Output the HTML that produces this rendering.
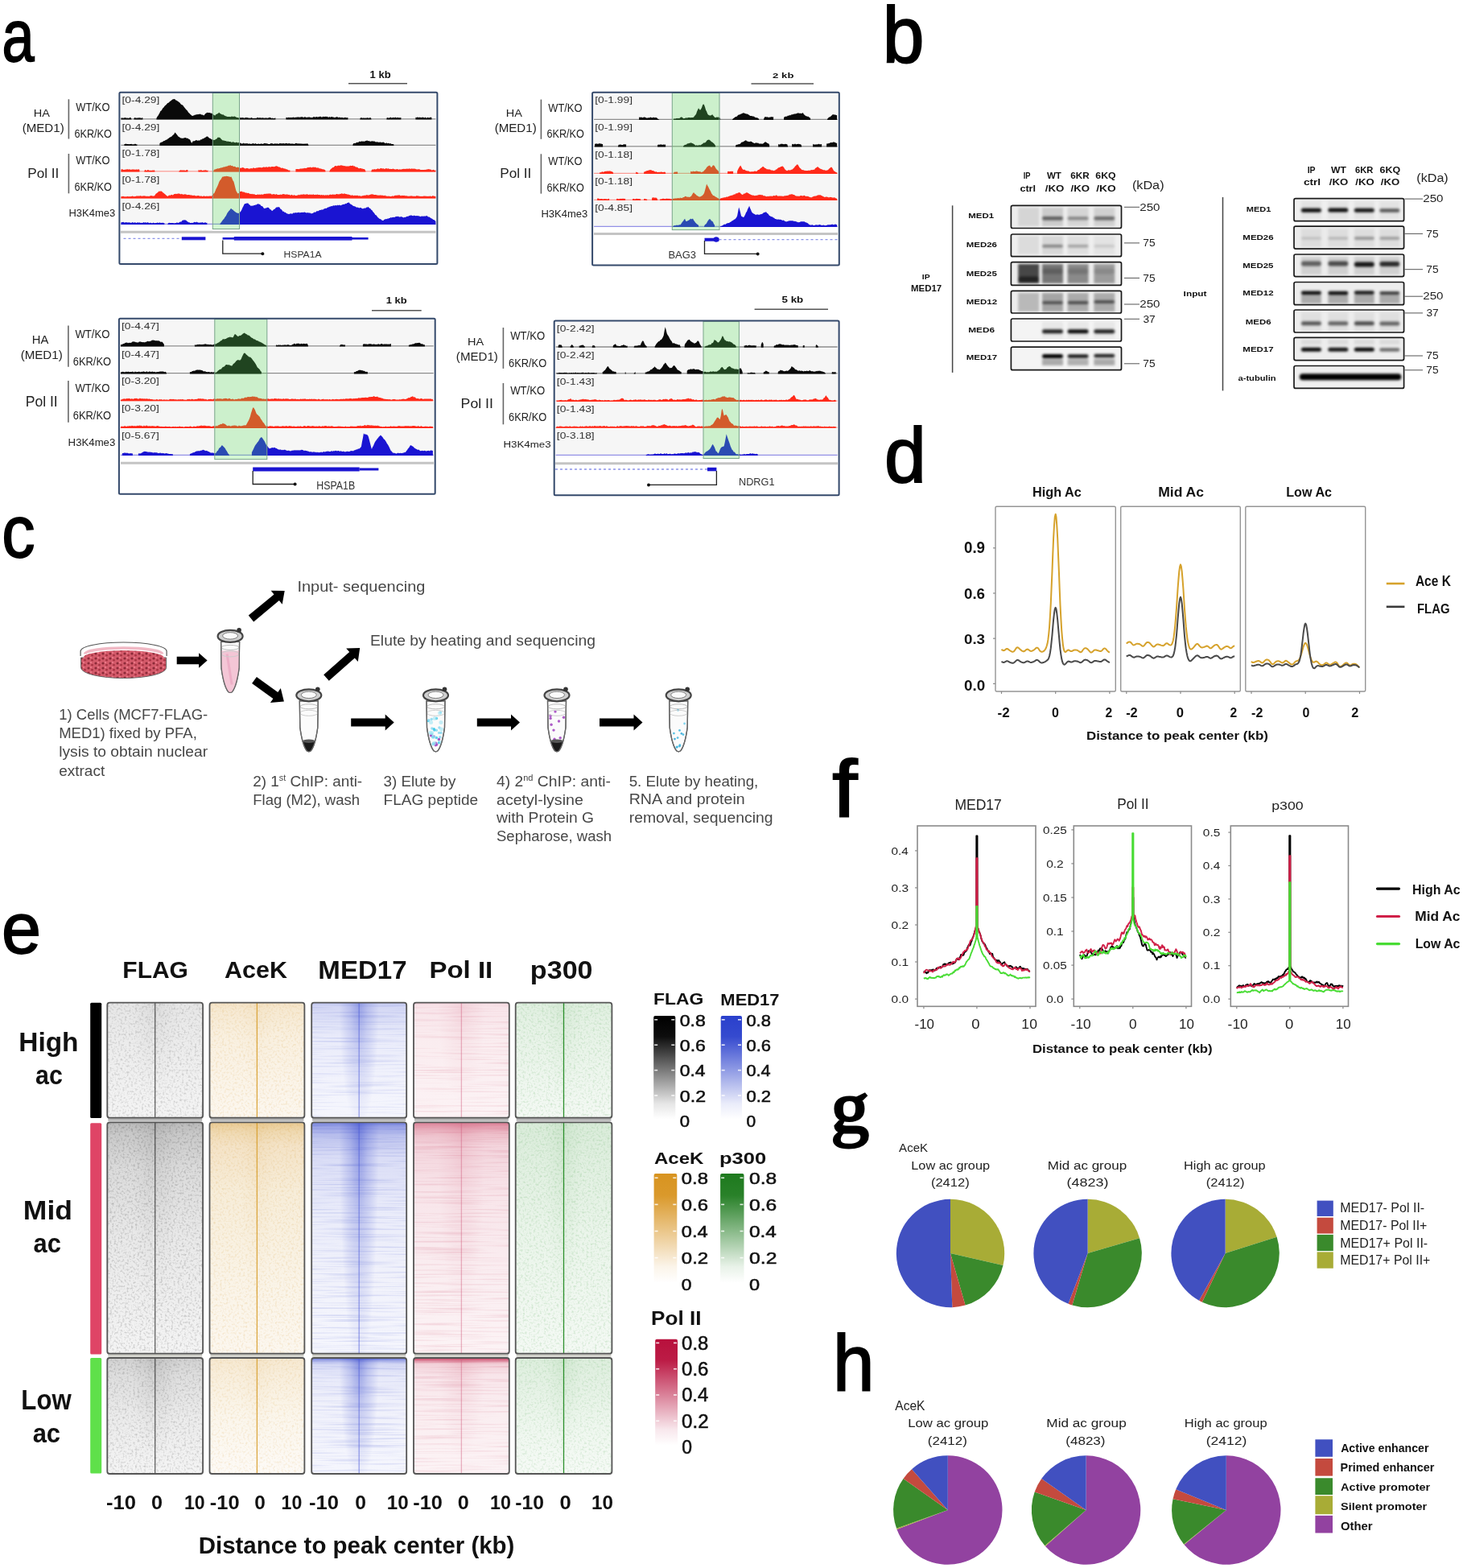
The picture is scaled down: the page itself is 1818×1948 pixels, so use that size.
<!DOCTYPE html>
<html><head><meta charset="utf-8"><title>Figure</title>
<style>html,body{margin:0;padding:0;background:#fff;} svg{display:block;filter:blur(0.6px);} text{font-family:"Liberation Sans", Arial, sans-serif;}</style>
</head><body>
<svg width="1818" height="1948" viewBox="0 0 1818 1948">
<defs><filter id="blur15" x="-20%" y="-50%" width="140%" height="200%"><feGaussianBlur stdDeviation="1.4"/></filter></defs>
<rect width="1818" height="1948" fill="#fff"/>
<text transform="matrix(0.7204,0,0,0.9070,2.44,76.29)" font-size="100" stroke="#000" stroke-width="2.0">a</text>
<text transform="matrix(0.9298,0,0,0.9853,1096.85,76.81)" font-size="100" stroke="#000" stroke-width="2.0">b</text>
<text transform="matrix(0.8244,0,0,0.9070,2.23,692.19)" font-size="100" stroke="#000" stroke-width="2.0">c</text>
<text transform="matrix(0.9319,0,0,0.9671,1098.90,598.97)" font-size="100" stroke="#000" stroke-width="2.0">d</text>
<text transform="matrix(0.8816,0,0,0.8965,2.06,1183.81)" font-size="100" stroke="#000" stroke-width="2.0">e</text>
<text transform="matrix(1.1207,0,0,0.9919,1034.30,1014.80)" font-size="100" stroke="#000" stroke-width="2.0">f</text>
<text transform="matrix(0.9489,0,0,0.9026,1032.55,1406.74)" font-size="100" style="font-family:Liberation Serif, serif" stroke="#000" stroke-width="3.5">g</text>
<text transform="matrix(0.9250,0,0,0.9919,1035.05,1727.00)" font-size="100" stroke="#000" stroke-width="2.0">h</text>
<rect x="148.4" y="114.7" width="395" height="213.3" fill="#fff"/>
<rect x="149.9" y="116.2" width="392" height="32.3" fill="#f6f6f6"/>
<rect x="149.9" y="149.5" width="392" height="31.5" fill="#f6f6f6"/>
<rect x="149.9" y="182" width="392" height="31.5" fill="#f6f6f6"/>
<rect x="149.9" y="214.5" width="392" height="32.1" fill="#f6f6f6"/>
<rect x="149.9" y="247.6" width="392" height="31.4" fill="#f6f6f6"/>
<line x1="150.4" y1="147.8" x2="541.4" y2="147.8" stroke="#0a0a0a" stroke-width="1.3" stroke-opacity="0.45"/>
<path d="M150.4,148.5 L150.4,146.4 L151.4,146.6 L152.4,146.4 L153.4,146.8 L154.4,146.2 L155.4,146.2 L156.4,146.3 L157.4,146.8 L158.4,146.5 L159.4,146.7 L160.4,146.8 L161.4,146 L162.4,146 L163.4,147.7 L163.4,148.5Z" fill="#0a0a0a"/>
<path d="M166.4,148.5 L166.4,147 L167.4,146.1 L168.4,146.4 L169.4,146.6 L170.4,146.7 L171.4,146.3 L172.4,146.5 L173.4,146.3 L174.4,146.3 L175.4,146.9 L176.4,146.2 L177.4,146.4 L177.4,148.5Z" fill="#0a0a0a"/>
<path d="M194.4,148.5 L194.4,146.9 L195.4,145.1 L196.4,143.8 L197.4,142.1 L198.4,140.2 L199.4,138 L200.4,137.4 L201.4,136.1 L202.4,134.3 L203.4,133.6 L204.4,132.1 L205.4,130.9 L206.4,130.3 L207.4,129 L208.4,127.9 L209.4,127.7 L210.4,126.8 L211.4,125.8 L212.4,125.3 L213.4,124.2 L214.4,123.5 L215.4,123.2 L216.4,123 L217.4,123.3 L218.4,124.6 L219.4,124.8 L220.4,125.5 L221.4,125.9 L222.4,127 L223.4,127.4 L224.4,129 L225.4,129.9 L226.4,130.3 L227.4,131.1 L228.4,132.6 L229.4,133.7 L230.4,135 L231.4,136.2 L232.4,137 L233.4,138.6 L234.4,139.9 L235.4,140.7 L236.4,142.1 L237.4,142.8 L238.4,143.7 L239.4,143.9 L240.4,143.6 L241.4,143.2 L242.4,142.6 L243.4,142.8 L244.4,141.9 L245.4,142.2 L246.4,142 L247.4,142.1 L248.4,141.6 L249.4,141.9 L250.4,142.5 L251.4,142.5 L252.4,143.1 L253.4,143.4 L254.4,142.3 L255.4,141.1 L256.4,140.6 L257.4,139.7 L258.4,140.1 L259.4,139.9 L260.4,140.1 L261.4,140.4 L262.4,140.6 L263.4,141 L264.4,141.7 L265.4,142.4 L266.4,143.3 L267.4,143.4 L268.4,142 L269.4,141.7 L270.4,141.2 L271.4,140.4 L272.4,139.8 L273.4,140.9 L274.4,141.5 L275.4,142.1 L276.4,142.4 L277.4,142.3 L278.4,143.3 L279.4,143.7 L280.4,144.2 L281.4,144.5 L282.4,145 L283.4,145.1 L284.4,145 L285.4,145.1 L286.4,145.2 L287.4,144.8 L288.4,144.4 L289.4,145 L290.4,144.8 L291.4,144.6 L292.4,145 L293.4,145.4 L294.4,145.9 L295.4,146.1 L296.4,146.5 L297.4,146.2 L298.4,146 L299.4,146.6 L300.4,146.1 L301.4,146.3 L302.4,146.1 L303.4,147 L304.4,146.1 L305.4,146.2 L306.4,146 L307.4,146 L308.4,146.7 L309.4,146.3 L310.4,146.9 L311.4,146.4 L312.4,146.1 L313.4,146.8 L314.4,146.7 L315.4,146.9 L316.4,146.8 L317.4,146.8 L318.4,146.9 L319.4,146 L320.4,146.1 L321.4,146.5 L322.4,146.3 L323.4,146.3 L324.4,146.5 L325.4,146.6 L326.4,146.3 L327.4,146.4 L328.4,146.7 L329.4,146.6 L330.4,146.4 L331.4,146.4 L332.4,146.8 L333.4,146.4 L334.4,146.1 L335.4,146.1 L336.4,146.3 L337.4,146.9 L338.4,146.6 L339.4,146.9 L340.4,146.9 L341.4,146.7 L342.4,146.5 L342.4,148.5Z" fill="#0a0a0a"/>
<path d="M355.4,148.5 L355.4,145.7 L356.4,145.9 L357.4,146.2 L358.4,145.8 L359.4,145.9 L360.4,145.9 L361.4,146.1 L362.4,146 L363.4,146 L364.4,145.6 L365.4,145.9 L366.4,145.9 L367.4,145.8 L368.4,145.8 L369.4,145.6 L370.4,145.6 L371.4,145.5 L372.4,145.8 L373.4,145.4 L374.4,145.3 L375.4,145.2 L376.4,145.5 L377.4,146.1 L378.4,145.3 L379.4,145.3 L380.4,146.1 L381.4,145.8 L382.4,145.8 L383.4,145.4 L384.4,145.5 L385.4,145.8 L386.4,145.9 L387.4,145.9 L388.4,145.9 L389.4,145.2 L390.4,145.1 L391.4,145.7 L392.4,145.2 L393.4,144.9 L394.4,145.6 L395.4,145.2 L396.4,145.3 L397.4,144.7 L398.4,144.8 L399.4,145.6 L400.4,145.4 L401.4,144.7 L402.4,144.9 L403.4,145 L404.4,144.8 L405.4,144.9 L406.4,144.7 L407.4,145.4 L408.4,145.7 L409.4,145.1 L410.4,145.8 L411.4,145.3 L412.4,145.1 L413.4,145.6 L414.4,145.4 L415.4,145.9 L416.4,146 L417.4,145.5 L418.4,145.3 L419.4,145.2 L420.4,146.2 L421.4,145.4 L422.4,145.9 L423.4,146.1 L424.4,146 L425.4,145.9 L426.4,146.2 L427.4,146.5 L428.4,145.8 L429.4,146.1 L430.4,146.2 L431.4,146.2 L432.4,146 L432.4,148.5Z" fill="#0a0a0a"/>
<path d="M447.4,148.5 L447.4,146.9 L448.4,146.2 L449.4,146.2 L450.4,146.7 L451.4,146.4 L452.4,146.5 L453.4,146.8 L454.4,146.6 L455.4,146.8 L456.4,146.1 L457.4,146.8 L458.4,146.4 L459.4,146.4 L460.4,146 L461.4,147.4 L461.4,148.5Z" fill="#0a0a0a"/>
<path d="M480.4,148.5 L480.4,146.8 L481.4,146.1 L482.4,146.5 L483.4,146.4 L484.4,146.2 L485.4,145.6 L486.4,146.5 L487.4,146.3 L488.4,145.9 L489.4,146.1 L490.4,146.3 L491.4,145.6 L492.4,146.5 L493.4,145.9 L494.4,146.1 L495.4,146.2 L496.4,146.3 L497.4,146.3 L498.4,146.1 L498.4,148.5Z" fill="#0a0a0a"/>
<path d="M516.4,148.5 L516.4,145.7 L517.4,146 L518.4,145.7 L519.4,145.6 L520.4,146.3 L521.4,145.6 L522.4,145.9 L523.4,146.1 L524.4,146 L525.4,145.6 L526.4,146.1 L527.4,146.4 L528.4,145.5 L529.4,146.4 L530.4,146.4 L531.4,145.8 L532.4,146.2 L533.4,146.2 L534.4,145.9 L535.4,145.6 L536.4,146.2 L536.4,148.5Z" fill="#0a0a0a"/>
<line x1="150.4" y1="180.3" x2="541.4" y2="180.3" stroke="#0a0a0a" stroke-width="1.3" stroke-opacity="0.45"/>
<path d="M154.4,181 L154.4,179 L155.4,178.9 L156.4,178.6 L157.4,179 L158.4,179 L159.4,178.9 L160.4,179.3 L161.4,179 L162.4,178.9 L163.4,178.7 L164.4,179.4 L165.4,179.2 L166.4,179.4 L167.4,178.7 L168.4,178.8 L169.4,179.5 L170.4,179.3 L170.4,181Z" fill="#0a0a0a"/>
<path d="M198.4,181 L198.4,178 L199.4,177.3 L200.4,176.7 L201.4,176.6 L202.4,176.1 L203.4,174.9 L204.4,174.9 L205.4,174.3 L206.4,173.7 L207.4,173.4 L208.4,172.5 L209.4,172 L210.4,170.9 L211.4,170.6 L212.4,169.9 L213.4,169.4 L214.4,168.3 L215.4,167.4 L216.4,166.5 L217.4,164.6 L218.4,165.5 L219.4,166.8 L220.4,168 L221.4,169.4 L222.4,170.1 L223.4,170.7 L224.4,171.5 L225.4,171.5 L226.4,172 L227.4,171.4 L228.4,171.7 L229.4,170.9 L230.4,170.9 L231.4,171.6 L232.4,171.7 L233.4,171.7 L234.4,172.7 L235.4,172.9 L236.4,174.1 L237.4,176.5 L238.4,177.7 L239.4,175.8 L240.4,175.2 L241.4,175.2 L242.4,174.9 L243.4,174.1 L244.4,174.2 L245.4,174.7 L246.4,174.5 L247.4,174.5 L248.4,174.4 L249.4,173.2 L250.4,173.4 L251.4,172.6 L252.4,172.3 L253.4,172 L254.4,170.9 L255.4,170.8 L256.4,169.7 L257.4,169.6 L258.4,169.7 L259.4,170.9 L260.4,171.7 L261.4,172 L262.4,172.8 L263.4,173.5 L264.4,173.1 L265.4,173.9 L266.4,174 L267.4,173.5 L268.4,172.8 L269.4,172.5 L270.4,170.8 L271.4,170.7 L272.4,170.7 L273.4,171 L274.4,172.3 L275.4,173.2 L276.4,174.2 L277.4,174.6 L278.4,174.4 L279.4,175 L280.4,175 L281.4,175.5 L282.4,175.7 L283.4,175.4 L284.4,176.1 L285.4,176.1 L286.4,175.9 L287.4,176.7 L288.4,176.8 L289.4,176.2 L290.4,176.4 L291.4,177.1 L292.4,177.2 L293.4,176.8 L294.4,176.7 L295.4,177.6 L296.4,177 L297.4,177.2 L298.4,177.6 L299.4,178 L300.4,178.4 L301.4,178.5 L302.4,177.6 L303.4,178.4 L304.4,178 L305.4,178.5 L306.4,178 L307.4,178.3 L308.4,178.6 L309.4,178.8 L310.4,178.3 L311.4,178.9 L312.4,178.8 L313.4,178.4 L314.4,178.1 L315.4,178.4 L316.4,178.7 L317.4,178.1 L318.4,178.8 L319.4,179 L320.4,178.7 L321.4,178.6 L322.4,178.9 L323.4,178.8 L324.4,178.6 L325.4,178.4 L326.4,178.9 L327.4,178.6 L328.4,178.1 L329.4,178 L330.4,178.3 L331.4,178.3 L332.4,178.4 L333.4,178.9 L334.4,179 L335.4,179 L336.4,178.1 L337.4,178.3 L338.4,178 L339.4,179 L340.4,178.4 L341.4,178.5 L342.4,178.3 L343.4,178.7 L344.4,178 L345.4,178.9 L346.4,178.5 L347.4,178.3 L348.4,178.1 L349.4,178.3 L350.4,178.3 L351.4,178.2 L352.4,178.1 L353.4,178.6 L354.4,178.3 L355.4,178.1 L356.4,178.1 L357.4,178.6 L358.4,178.2 L359.4,178.1 L360.4,178.4 L361.4,178.4 L362.4,178.6 L363.4,178.4 L364.4,178.4 L365.4,178.9 L366.4,178.4 L367.4,178 L368.4,178.1 L369.4,178.3 L370.4,178.6 L371.4,178.3 L372.4,178.4 L373.4,178.6 L374.4,178.2 L375.4,178.9 L376.4,178.2 L377.4,179 L378.4,178.4 L379.4,178.5 L380.4,178.8 L381.4,178.3 L382.4,178.5 L383.4,180.2 L383.4,181Z" fill="#0a0a0a"/>
<path d="M438.4,181 L438.4,179.7 L439.4,178.1 L440.4,178.1 L441.4,178 L442.4,177.5 L443.4,176.8 L444.4,177 L445.4,176.8 L446.4,175.7 L447.4,175.8 L448.4,175.9 L449.4,175.3 L450.4,175.8 L451.4,175.4 L452.4,175.7 L453.4,175.4 L454.4,174.9 L455.4,174.7 L456.4,174.6 L457.4,175.2 L458.4,175.1 L459.4,175.5 L460.4,175.8 L461.4,175.5 L462.4,175.3 L463.4,175.4 L464.4,175.6 L465.4,175.5 L466.4,176.3 L467.4,176.5 L468.4,176.3 L469.4,176.6 L470.4,176.8 L471.4,176.7 L472.4,176.6 L473.4,176.8 L474.4,177.1 L475.4,176.7 L476.4,176.6 L477.4,177.3 L478.4,177.8 L479.4,177.9 L480.4,177.2 L481.4,178.2 L482.4,177.7 L483.4,178 L484.4,178.4 L485.4,178.1 L486.4,179 L487.4,179 L488.4,178.9 L489.4,179.5 L489.4,181Z" fill="#0a0a0a"/>
<line x1="150.4" y1="212.8" x2="541.4" y2="212.8" stroke="#ff2a1a" stroke-width="1.3" stroke-opacity="0.45"/>
<path d="M150.4,213.5 L150.4,210.5 L151.4,210.3 L152.4,210.3 L153.4,210.9 L154.4,211 L155.4,210.6 L156.4,210.7 L157.4,210.2 L158.4,210.3 L159.4,210.4 L160.4,210.4 L161.4,210.3 L162.4,210.9 L163.4,210.6 L164.4,210.8 L165.4,210.1 L166.4,210.9 L167.4,210.2 L168.4,210.9 L169.4,210.3 L170.4,210.7 L171.4,210.6 L172.4,210.2 L173.4,211 L173.4,213.5Z" fill="#ff2a1a"/>
<path d="M179.4,213.5 L179.4,211.9 L180.4,211.1 L181.4,211.5 L182.4,211.9 L183.4,211 L184.4,211.1 L185.4,211.9 L186.4,211.6 L187.4,211.9 L188.4,211.7 L189.4,211.4 L190.4,211.8 L191.4,211.3 L192.4,211.9 L192.4,213.5Z" fill="#ff2a1a"/>
<path d="M222.4,213.5 L222.4,212.8 L223.4,211.8 L224.4,211.2 L225.4,211.6 L226.4,211.6 L227.4,211.4 L228.4,211.5 L229.4,211.6 L230.4,212 L231.4,211.3 L232.4,211 L233.4,211 L233.4,213.5Z" fill="#ff2a1a"/>
<path d="M246.4,213.5 L246.4,211.3 L247.4,211.6 L248.4,211.6 L249.4,211.3 L250.4,211.3 L251.4,211.9 L252.4,211.8 L253.4,211.6 L254.4,211.5 L255.4,211.2 L256.4,211.5 L257.4,212 L258.4,211.2 L258.4,213.5Z" fill="#ff2a1a"/>
<path d="M265.4,213.5 L265.4,212.1 L266.4,210.4 L267.4,210.4 L268.4,210 L269.4,209.8 L270.4,209.2 L271.4,209.6 L272.4,208.9 L273.4,209 L274.4,208.3 L275.4,208.6 L276.4,208.1 L277.4,207.8 L278.4,207.2 L279.4,207.5 L280.4,206.8 L281.4,206.8 L282.4,206.5 L283.4,206.1 L284.4,205.4 L285.4,205.7 L286.4,205.1 L287.4,206.2 L288.4,205.7 L289.4,206.6 L290.4,207 L291.4,206.7 L292.4,206.9 L293.4,208 L294.4,207.9 L295.4,207.5 L296.4,208.1 L297.4,208.4 L298.4,208.7 L299.4,208.8 L300.4,208.4 L301.4,208.1 L302.4,208.2 L303.4,208.8 L304.4,209.4 L305.4,209.2 L306.4,208.9 L307.4,208.9 L308.4,209.2 L309.4,209.7 L310.4,209.4 L311.4,209.3 L312.4,209.1 L313.4,209.4 L314.4,208.6 L315.4,208.5 L316.4,209.1 L317.4,208.9 L318.4,208.2 L319.4,208.7 L320.4,208 L321.4,208.3 L322.4,208 L323.4,207.9 L324.4,208.3 L325.4,208.2 L326.4,208.1 L327.4,207.6 L328.4,207.5 L329.4,208 L330.4,207.2 L331.4,207.6 L332.4,207.8 L333.4,207.6 L334.4,207 L335.4,207.4 L336.4,207.4 L337.4,207.1 L338.4,207 L339.4,207 L340.4,207.2 L341.4,206.9 L342.4,206.4 L343.4,206.3 L344.4,206.5 L345.4,207.1 L346.4,207.5 L347.4,207.5 L348.4,208 L349.4,208.9 L350.4,208.6 L351.4,208.8 L352.4,209.2 L353.4,209.4 L354.4,209.6 L355.4,210.2 L356.4,210.2 L357.4,210.8 L358.4,211.4 L359.4,211.4 L360.4,211.6 L360.4,213.5Z" fill="#ff2a1a"/>
<path d="M367.4,213.5 L367.4,210 L368.4,210.1 L369.4,210.1 L370.4,209.9 L371.4,210.2 L372.4,209.7 L373.4,209.4 L374.4,209.5 L375.4,209.5 L376.4,209.2 L377.4,209.2 L378.4,208.7 L379.4,209 L380.4,209 L381.4,208.6 L382.4,208.1 L383.4,208 L384.4,208 L385.4,207.6 L386.4,208 L387.4,208.3 L388.4,207.7 L389.4,207.6 L390.4,207.9 L391.4,207.6 L392.4,208.1 L393.4,208.4 L394.4,208.6 L395.4,208.2 L396.4,209.3 L397.4,209.2 L398.4,209.5 L399.4,209.7 L400.4,209.9 L401.4,210.5 L402.4,210.3 L403.4,211.1 L404.4,211.5 L404.4,213.5Z" fill="#ff2a1a"/>
<path d="M409.4,213.5 L409.4,212.7 L410.4,210.8 L411.4,209.8 L412.4,209 L413.4,208 L414.4,208 L415.4,207.1 L416.4,206.1 L417.4,206 L418.4,206.5 L419.4,206 L420.4,205.6 L421.4,205.9 L422.4,205.5 L423.4,205.4 L424.4,205.2 L425.4,205.7 L426.4,205.8 L427.4,206.2 L428.4,206 L429.4,206.5 L430.4,206.5 L431.4,206.5 L432.4,206.4 L433.4,206.4 L434.4,206.2 L435.4,205.7 L436.4,205.9 L437.4,206 L438.4,205.6 L439.4,206.5 L440.4,206.3 L441.4,207.1 L442.4,207.7 L443.4,207.6 L444.4,208 L445.4,208.9 L446.4,209.3 L447.4,209 L448.4,209 L449.4,209.4 L450.4,209.4 L451.4,210 L452.4,210 L453.4,210.6 L454.4,212.8 L454.4,213.5Z" fill="#ff2a1a"/>
<path d="M461.4,213.5 L461.4,211.9 L462.4,210.5 L463.4,210.5 L464.4,210.4 L465.4,209.9 L466.4,210.4 L467.4,210.3 L468.4,210.1 L469.4,209.3 L470.4,209.7 L471.4,210.1 L472.4,209.2 L473.4,209.1 L474.4,209.2 L475.4,209.6 L476.4,209.3 L477.4,209.7 L478.4,209.9 L479.4,209.1 L480.4,209.2 L481.4,209.8 L482.4,209.1 L483.4,210 L484.4,209.7 L485.4,210 L486.4,210 L487.4,210.1 L488.4,209.6 L489.4,210.1 L490.4,210.3 L491.4,210.4 L492.4,210.3 L493.4,209.9 L494.4,210.2 L495.4,210.8 L496.4,210.3 L497.4,210.4 L498.4,210.4 L499.4,210.2 L500.4,210 L501.4,209.8 L502.4,210 L503.4,209.8 L504.4,209.9 L505.4,209.6 L506.4,209.8 L507.4,209.7 L508.4,209.5 L509.4,209.4 L510.4,209.9 L511.4,209.3 L512.4,209.8 L513.4,209.6 L514.4,209.8 L515.4,209.6 L516.4,210 L517.4,210.3 L518.4,210.4 L519.4,210.3 L520.4,210.2 L521.4,210.2 L522.4,210.9 L523.4,210.9 L524.4,210.9 L525.4,210.9 L526.4,210.9 L527.4,211 L528.4,210.8 L529.4,210.9 L530.4,210.3 L531.4,210.4 L532.4,210.1 L533.4,210.2 L534.4,210.5 L535.4,210.4 L536.4,211.4 L537.4,211.3 L538.4,210.7 L539.4,211.3 L540.4,211.7 L541.4,211.2 L541.4,213.5Z" fill="#ff2a1a"/>
<line x1="150.4" y1="245.9" x2="541.4" y2="245.9" stroke="#ff2a1a" stroke-width="1.3" stroke-opacity="0.45"/>
<path d="M150.4,246.6 L150.4,244.3 L151.4,243.9 L152.4,243.9 L153.4,243.7 L154.4,244.3 L155.4,244.3 L156.4,244.3 L157.4,244.2 L158.4,243.7 L159.4,244.3 L160.4,243.9 L161.4,244.2 L162.4,244.1 L163.4,243.9 L164.4,243.5 L165.4,243.7 L166.4,244.3 L167.4,244 L168.4,244.1 L169.4,243.4 L170.4,243.4 L171.4,243.4 L172.4,243.4 L173.4,243.4 L174.4,243.2 L175.4,243.3 L176.4,243.9 L177.4,243.3 L178.4,243.6 L179.4,243.3 L180.4,243.5 L181.4,243.7 L182.4,243.7 L183.4,243.7 L184.4,243.8 L185.4,244 L186.4,243.3 L187.4,243.3 L188.4,243.1 L189.4,243.4 L190.4,243.5 L191.4,243.4 L192.4,242.8 L193.4,241 L194.4,240.2 L195.4,239.6 L196.4,238.7 L197.4,237.6 L198.4,237.8 L199.4,237.6 L200.4,237.5 L201.4,238.1 L202.4,239.2 L203.4,239.7 L204.4,240.8 L205.4,241.6 L206.4,242.5 L207.4,243.2 L208.4,243.9 L209.4,243.1 L210.4,242.5 L211.4,242.8 L212.4,242.2 L213.4,241.7 L214.4,242.4 L215.4,242 L216.4,241.1 L217.4,240.9 L218.4,240.8 L219.4,241.1 L220.4,240.7 L221.4,240.4 L222.4,240.5 L223.4,240.7 L224.4,241.4 L225.4,240.8 L226.4,241.4 L227.4,241.2 L228.4,241.9 L229.4,241.1 L230.4,241.6 L231.4,241.6 L232.4,242.2 L233.4,241.9 L234.4,242.1 L235.4,242.1 L236.4,242.5 L237.4,242.2 L238.4,242.7 L239.4,242.8 L240.4,243 L241.4,242.6 L242.4,243.2 L243.4,243.2 L244.4,243.4 L245.4,242.9 L246.4,243.1 L247.4,243.2 L248.4,243.7 L249.4,243.4 L250.4,243.6 L251.4,243.9 L252.4,244.1 L253.4,243.1 L254.4,244 L255.4,243.8 L256.4,243.8 L257.4,243.5 L258.4,244 L259.4,243.6 L260.4,243.7 L261.4,243.3 L262.4,244.1 L263.4,243 L264.4,242 L265.4,240.6 L266.4,239.7 L267.4,237.5 L268.4,235 L269.4,233.1 L270.4,231.1 L271.4,228.4 L272.4,225.8 L273.4,223.9 L274.4,223 L275.4,221.2 L276.4,219.6 L277.4,219.7 L278.4,219.1 L279.4,219.2 L280.4,219.1 L281.4,218.8 L282.4,219.1 L283.4,219.1 L284.4,219.6 L285.4,219.4 L286.4,219.9 L287.4,219.6 L288.4,221.7 L289.4,224.3 L290.4,225.5 L291.4,229.3 L292.4,233.2 L293.4,236.9 L294.4,238.8 L295.4,240.5 L296.4,240 L297.4,239.4 L298.4,237.8 L299.4,238 L300.4,237.5 L301.4,238.4 L302.4,238.5 L303.4,238.6 L304.4,239.3 L305.4,239.5 L306.4,239.6 L307.4,239.9 L308.4,239.8 L309.4,240 L310.4,241.1 L311.4,240.8 L312.4,241.3 L313.4,240.8 L314.4,241.4 L315.4,241 L316.4,241.5 L317.4,242 L318.4,242.1 L319.4,241.9 L320.4,241.2 L321.4,242 L322.4,241.6 L323.4,241.7 L324.4,241.8 L325.4,241.3 L326.4,241.9 L327.4,241.2 L328.4,241.1 L329.4,240.7 L330.4,241 L331.4,240.5 L332.4,240.8 L333.4,240.5 L334.4,240.6 L335.4,240.5 L336.4,240.5 L337.4,241.4 L338.4,241.5 L339.4,241.2 L340.4,241 L341.4,241.4 L342.4,241.8 L343.4,241.1 L344.4,241.8 L345.4,242 L346.4,242 L347.4,242.1 L348.4,241.4 L349.4,242 L350.4,241.4 L351.4,241.2 L352.4,241.1 L353.4,241.3 L354.4,241.7 L355.4,241.5 L356.4,241.4 L357.4,241.6 L358.4,242.1 L359.4,241.7 L360.4,242.5 L361.4,242.4 L362.4,241.8 L363.4,242.4 L364.4,242.7 L365.4,242.2 L366.4,242.6 L367.4,243 L368.4,242.9 L369.4,242.6 L370.4,242.4 L371.4,241.7 L372.4,242.4 L373.4,241.7 L374.4,241.6 L375.4,241.9 L376.4,241.3 L377.4,241.4 L378.4,241.6 L379.4,241.8 L380.4,241.6 L381.4,241.2 L382.4,241.6 L383.4,241.9 L384.4,241.7 L385.4,241.6 L386.4,241.9 L387.4,241.5 L388.4,242.1 L389.4,241.3 L390.4,241.9 L391.4,242.1 L392.4,241.7 L393.4,242.1 L394.4,241.6 L395.4,242 L396.4,242.1 L397.4,241.9 L398.4,242.6 L399.4,242.1 L400.4,242.3 L401.4,242.6 L402.4,242.1 L403.4,243 L404.4,242 L405.4,242.7 L406.4,241.9 L407.4,242.5 L408.4,242.5 L409.4,242 L410.4,241.5 L411.4,242 L412.4,241.7 L413.4,241.5 L414.4,241.8 L415.4,241.4 L416.4,241.9 L417.4,241.3 L418.4,241 L419.4,241.3 L420.4,241.3 L421.4,241.4 L422.4,240.7 L423.4,240.9 L424.4,240.3 L425.4,240.4 L426.4,241.1 L427.4,240.5 L428.4,240.6 L429.4,240.9 L430.4,241.1 L431.4,241.4 L432.4,241.5 L433.4,241.7 L434.4,242 L435.4,242.5 L436.4,242.8 L437.4,242.4 L438.4,242.6 L439.4,243.2 L440.4,242.7 L441.4,242.8 L442.4,243 L443.4,242.8 L444.4,242.8 L445.4,243.4 L446.4,243 L447.4,243.4 L448.4,243.5 L449.4,243.7 L450.4,243 L451.4,243.3 L452.4,242.6 L453.4,243.1 L454.4,242.6 L455.4,242.2 L456.4,242.2 L457.4,242.4 L458.4,242.5 L459.4,241.9 L460.4,241.8 L461.4,241.3 L462.4,241.4 L463.4,241.3 L464.4,241.9 L465.4,242.1 L466.4,242 L467.4,241.9 L468.4,242.6 L469.4,242.6 L470.4,242.7 L471.4,242.6 L472.4,242.8 L473.4,242.2 L474.4,243 L475.4,242.4 L476.4,243.1 L477.4,243.3 L478.4,242.6 L479.4,243.6 L480.4,243.6 L481.4,243.7 L482.4,243.8 L483.4,243.6 L484.4,243.9 L485.4,243.9 L486.4,243.9 L487.4,243.2 L488.4,243.7 L489.4,243.5 L490.4,243.1 L491.4,242.7 L492.4,242.8 L493.4,242.7 L494.4,242.6 L495.4,242.4 L496.4,242.3 L497.4,243 L498.4,243.2 L499.4,242.7 L500.4,242.9 L501.4,243 L502.4,242.8 L503.4,243.5 L504.4,243.1 L505.4,243.4 L506.4,243.5 L507.4,243.8 L508.4,243.8 L509.4,243.5 L510.4,243.5 L511.4,243.2 L512.4,243.8 L513.4,243.4 L514.4,244 L515.4,243.4 L516.4,243.9 L517.4,243.2 L518.4,243.1 L519.4,243.8 L520.4,243.3 L521.4,243.9 L522.4,243.8 L523.4,244 L524.4,243.7 L525.4,244 L526.4,243.4 L527.4,243.5 L528.4,243.7 L529.4,243.4 L530.4,243.9 L531.4,243.8 L532.4,243.7 L533.4,244.1 L534.4,243.2 L535.4,244 L536.4,244 L537.4,243.3 L538.4,243.3 L539.4,243.7 L540.4,243.7 L541.4,244 L541.4,246.6Z" fill="#ff2a1a"/>
<line x1="150.4" y1="278.3" x2="541.4" y2="278.3" stroke="#1a14d2" stroke-width="1.3" stroke-opacity="0.45"/>
<path d="M150.4,279 L150.4,276.4 L151.4,275.9 L152.4,276 L153.4,275.7 L154.4,276.4 L155.4,276.5 L156.4,276.1 L157.4,276.2 L158.4,276.6 L159.4,276.3 L160.4,276.6 L161.4,276.2 L162.4,276.9 L163.4,276.8 L164.4,276.1 L165.4,276.6 L166.4,276.7 L167.4,276.2 L168.4,276.4 L169.4,276.9 L170.4,276.4 L171.4,276.3 L172.4,276.8 L173.4,276.3 L174.4,276.9 L175.4,276.7 L176.4,276.9 L177.4,276.8 L178.4,276.1 L179.4,276.7 L180.4,276.1 L181.4,276.7 L182.4,276.6 L183.4,276.3 L184.4,276.6 L185.4,277.2 L186.4,276.7 L187.4,276.7 L188.4,277.2 L189.4,277.3 L190.4,276.6 L191.4,277 L192.4,277.3 L193.4,276.9 L194.4,277.1 L195.4,276.5 L196.4,276.7 L197.4,277.1 L198.4,276.3 L199.4,277 L200.4,276.7 L201.4,277 L202.4,276.5 L203.4,277.2 L204.4,276.9 L204.4,279Z" fill="#1a14d2"/>
<path d="M208.4,279 L208.4,277.9 L209.4,277 L210.4,276.8 L211.4,277 L212.4,277 L213.4,277 L214.4,277.1 L215.4,276.9 L216.4,277.4 L217.4,277 L218.4,277.3 L219.4,276.6 L220.4,276.4 L221.4,277 L222.4,276.6 L223.4,275.8 L224.4,275.4 L225.4,275.4 L226.4,274.1 L227.4,273.4 L228.4,273.5 L229.4,273.2 L230.4,273.5 L231.4,273.7 L232.4,275 L233.4,275.5 L234.4,276.2 L235.4,276.3 L236.4,277 L237.4,277.1 L238.4,276.8 L239.4,277 L240.4,276.6 L241.4,275.8 L242.4,276.1 L243.4,276.2 L244.4,275.6 L245.4,276.2 L246.4,276.4 L247.4,276.7 L248.4,276.6 L249.4,276.6 L250.4,276.6 L251.4,276 L252.4,276.7 L253.4,276.8 L254.4,276.5 L255.4,276.3 L256.4,277.1 L257.4,276.7 L257.4,279Z" fill="#1a14d2"/>
<path d="M273.4,279 L273.4,277.9 L274.4,276.8 L275.4,275.5 L276.4,273.9 L277.4,272.8 L278.4,271.8 L279.4,270 L280.4,268.8 L281.4,267.1 L282.4,264.8 L283.4,263.5 L284.4,262 L285.4,261.3 L286.4,259.6 L287.4,259 L288.4,260.2 L289.4,260.4 L290.4,261.7 L291.4,262.5 L292.4,263.2 L293.4,264 L294.4,264.6 L295.4,264.7 L296.4,264.9 L297.4,264.2 L298.4,263.5 L299.4,262.3 L300.4,260.4 L301.4,257.9 L302.4,256.3 L303.4,254.1 L304.4,252.9 L305.4,252.9 L306.4,252.6 L307.4,252.4 L308.4,252.6 L309.4,254.1 L310.4,254.4 L311.4,255.7 L312.4,255.8 L313.4,255.6 L314.4,255.7 L315.4,254.9 L316.4,254.9 L317.4,254.6 L318.4,254.6 L319.4,253.7 L320.4,253.2 L321.4,253.6 L322.4,253.7 L323.4,254.3 L324.4,255.8 L325.4,256.1 L326.4,256.6 L327.4,257.9 L328.4,259.2 L329.4,258.5 L330.4,258.7 L331.4,257.9 L332.4,257.8 L333.4,257.7 L334.4,258.4 L335.4,260.1 L336.4,260.2 L337.4,261.6 L338.4,262.1 L339.4,261.1 L340.4,260 L341.4,259.7 L342.4,258.4 L343.4,257.6 L344.4,257.6 L345.4,257.3 L346.4,257.2 L347.4,257.6 L348.4,259.4 L349.4,260 L350.4,261.1 L351.4,262.7 L352.4,262.4 L353.4,263.8 L354.4,263.7 L355.4,264.5 L356.4,265.2 L357.4,265.6 L358.4,265.9 L359.4,265.7 L360.4,265.7 L361.4,265 L362.4,265.7 L363.4,265.5 L364.4,264.5 L365.4,264.5 L366.4,264.5 L367.4,264.1 L368.4,264.4 L369.4,263.9 L370.4,264.2 L371.4,263.6 L372.4,264.4 L373.4,264.1 L374.4,263.9 L375.4,263.7 L376.4,264.1 L377.4,263.8 L378.4,263.5 L379.4,264.1 L380.4,264.3 L381.4,264.6 L382.4,263.9 L383.4,264.4 L384.4,264.6 L385.4,264.6 L386.4,265.2 L387.4,265.2 L388.4,265 L389.4,264.6 L390.4,263.5 L391.4,263.7 L392.4,263.5 L393.4,262.3 L394.4,262.2 L395.4,262.3 L396.4,261.4 L397.4,261.1 L398.4,260.9 L399.4,260.5 L400.4,260.5 L401.4,260.4 L402.4,259.6 L403.4,259.3 L404.4,258.8 L405.4,258.9 L406.4,258.3 L407.4,257.5 L408.4,257.4 L409.4,256.8 L410.4,256.7 L411.4,256.1 L412.4,256.2 L413.4,255.8 L414.4,255.2 L415.4,255.4 L416.4,255.3 L417.4,254.9 L418.4,255.4 L419.4,254.6 L420.4,255.2 L421.4,254.6 L422.4,255 L423.4,255.3 L424.4,254.7 L425.4,254.2 L426.4,254.1 L427.4,253.7 L428.4,253.7 L429.4,252.8 L430.4,253.3 L431.4,252 L432.4,252.1 L433.4,251.2 L434.4,252.5 L435.4,253.4 L436.4,253.9 L437.4,254.5 L438.4,255.6 L439.4,255.9 L440.4,256.3 L441.4,256.6 L442.4,257.2 L443.4,257.7 L444.4,257.6 L445.4,258.1 L446.4,258.4 L447.4,258.1 L448.4,258 L449.4,258.7 L450.4,259.3 L451.4,259.2 L452.4,258.4 L453.4,258.7 L454.4,258.4 L455.4,257.4 L456.4,257.8 L457.4,256.7 L458.4,258 L459.4,258.7 L460.4,259.3 L461.4,260.7 L462.4,261.3 L463.4,262.9 L464.4,263.9 L465.4,265.2 L466.4,267 L467.4,267.3 L468.4,268.4 L469.4,270 L470.4,270.7 L471.4,271.8 L472.4,272.1 L473.4,272.5 L474.4,273.5 L475.4,273.9 L476.4,273.9 L477.4,272.8 L478.4,272.6 L479.4,271.9 L480.4,272.3 L481.4,271.4 L482.4,271.7 L483.4,271 L484.4,271 L485.4,270.1 L486.4,270.6 L487.4,270 L488.4,269.9 L489.4,269.8 L490.4,270 L491.4,269.2 L492.4,268.8 L493.4,269.3 L494.4,268.6 L495.4,269.3 L496.4,269.5 L497.4,269.5 L498.4,269.1 L499.4,269.4 L500.4,269.7 L501.4,270.4 L502.4,269.7 L503.4,269.9 L504.4,269.6 L505.4,269 L506.4,268.8 L507.4,268.7 L508.4,268 L509.4,267.7 L510.4,267.6 L511.4,267.6 L512.4,268.1 L513.4,268.3 L514.4,267.5 L515.4,268.1 L516.4,268.3 L517.4,267.9 L518.4,268.3 L519.4,268.1 L520.4,268.5 L521.4,268.4 L522.4,269.3 L523.4,268.4 L524.4,268.7 L525.4,268.4 L526.4,268.7 L527.4,268.6 L528.4,268.4 L529.4,268.4 L530.4,267.8 L531.4,269.1 L532.4,269.4 L533.4,269.4 L534.4,270.3 L535.4,270.9 L536.4,271.5 L537.4,272.1 L538.4,273 L539.4,272.9 L540.4,273.9 L541.4,275.1 L541.4,279Z" fill="#1a14d2"/>
<text x="151.53" y="128.24" font-size="11.23" fill="#333" textLength="46.85" lengthAdjust="spacingAndGlyphs">[0-4.29]</text>
<text x="151.53" y="161.54" font-size="11.23" fill="#333" textLength="46.85" lengthAdjust="spacingAndGlyphs">[0-4.29]</text>
<text x="151.53" y="194.04" font-size="11.23" fill="#333" textLength="46.85" lengthAdjust="spacingAndGlyphs">[0-1.78]</text>
<text x="151.53" y="226.54" font-size="11.23" fill="#333" textLength="46.85" lengthAdjust="spacingAndGlyphs">[0-1.78]</text>
<text x="151.53" y="259.64" font-size="11.23" fill="#333" textLength="46.85" lengthAdjust="spacingAndGlyphs">[0-4.26]</text>
<line x1="150" y1="288.3" x2="541.5" y2="288.3" stroke="#c4c4c4" stroke-width="3"/>
<line x1="153.5" y1="296.3" x2="224" y2="296.3" stroke="#5a64e0" stroke-width="1.3" stroke-dasharray="3 3" stroke-opacity="0.7"/>
<rect x="225.8" y="294.3" width="29.6" height="4" fill="#1a14d2"/>
<rect x="276.6" y="295" width="181" height="2.6" fill="#1a14d2"/>
<rect x="290.8" y="294" width="146.7" height="4.6" fill="#1a14d2"/>
<path d="M276.8,298.5 L276.8,315.2 L326.3,315.2" fill="none" stroke="#222" stroke-width="1.3"/><circle cx="326.3" cy="315.2" r="2" fill="#111"/>
<text x="352.53" y="319.88" font-size="11.69" fill="#333" textLength="47.10" lengthAdjust="spacingAndGlyphs">HSPA1A</text>
<rect x="264.3" y="115.4" width="33.2" height="169.1" fill="rgba(94,225,94,0.27)" stroke="#7aa58a" stroke-width="1"/>
<rect x="148.4" y="114.7" width="395" height="213.3" fill="none" stroke="#34496b" stroke-width="2" rx="1.5"/>
<text x="41.84" y="144.60" font-size="13.62" fill="#222" textLength="20.12" lengthAdjust="spacingAndGlyphs">HA</text>
<text x="27.69" y="163.66" font-size="14.97" fill="#222" textLength="51.98" lengthAdjust="spacingAndGlyphs">(MED1)</text>
<text x="34.23" y="220.83" font-size="16.73" fill="#222" textLength="39.08" lengthAdjust="spacingAndGlyphs">Pol II</text>
<text x="94.24" y="138.35" font-size="14.56" fill="#222" textLength="42.17" lengthAdjust="spacingAndGlyphs">WT/KO</text>
<text x="92.47" y="170.76" font-size="14.01" fill="#222" textLength="46.34" lengthAdjust="spacingAndGlyphs">6KR/KO</text>
<text x="94.24" y="204.46" font-size="14.01" fill="#222" textLength="42.17" lengthAdjust="spacingAndGlyphs">WT/KO</text>
<text x="92.47" y="237.26" font-size="14.01" fill="#222" textLength="46.34" lengthAdjust="spacingAndGlyphs">6KR/KO</text>
<text x="85.46" y="269.28" font-size="12.11" fill="#222" textLength="57.85" lengthAdjust="spacingAndGlyphs">H3K4me3</text>
<line x1="85.4" y1="123.3" x2="85.4" y2="172.5" stroke="#666" stroke-width="1.6"/>
<line x1="85.4" y1="191" x2="85.4" y2="240.3" stroke="#666" stroke-width="1.6"/>
<line x1="433" y1="103.7" x2="506" y2="103.7" stroke="#555" stroke-width="1.6"/><text x="459.55" y="97.28" font-size="12.24" font-weight="bold" fill="#111" textLength="26.08" lengthAdjust="spacingAndGlyphs">1 kb</text>
<rect x="736.1" y="114.8" width="306.7" height="214.6" fill="#fff"/>
<rect x="737.6" y="116.3" width="303.7" height="32.7" fill="#f6f6f6"/>
<rect x="737.6" y="150" width="303.7" height="32.6" fill="#f6f6f6"/>
<rect x="737.6" y="183.6" width="303.7" height="32.4" fill="#f6f6f6"/>
<rect x="737.6" y="217" width="303.7" height="32" fill="#f6f6f6"/>
<rect x="737.6" y="250" width="303.7" height="32" fill="#f6f6f6"/>
<line x1="738.1" y1="148.3" x2="1040.8" y2="148.3" stroke="#0a0a0a" stroke-width="1.3" stroke-opacity="0.45"/>
<path d="M794.1,149 L794.1,145.6 L795.1,145.8 L796.1,145.7 L797.1,145.6 L798.1,146.2 L799.1,145.9 L800.1,145.6 L801.1,145.6 L802.1,145.9 L803.1,146.3 L804.1,147.1 L805.1,146.1 L806.1,146.6 L807.1,146.2 L808.1,145.5 L809.1,146.1 L810.1,146.3 L811.1,146.2 L812.1,145.6 L813.1,146.2 L814.1,146.1 L815.1,145.9 L816.1,146.3 L817.1,147.2 L818.1,148.2 L819.1,148.3 L819.1,149Z" fill="#0a0a0a"/>
<path d="M837.1,149 L837.1,147.4 L838.1,147.5 L839.1,147.4 L840.1,147.3 L841.1,146.8 L842.1,147.2 L843.1,146.8 L844.1,147.3 L845.1,146.2 L846.1,145.6 L847.1,145.5 L848.1,146 L849.1,147.2 L850.1,147.1 L851.1,147.1 L852.1,146.3 L853.1,146.4 L854.1,146.4 L855.1,145.9 L856.1,145.9 L857.1,146.1 L858.1,146.3 L859.1,145.9 L860.1,145.9 L861.1,146.1 L862.1,145.5 L863.1,143.9 L864.1,143.1 L865.1,141.4 L866.1,138.5 L867.1,136.3 L868.1,134.3 L869.1,136 L870.1,136.8 L871.1,135.4 L872.1,133.4 L873.1,130.4 L874.1,129.2 L875.1,130.4 L876.1,133.3 L877.1,136.8 L878.1,138.6 L879.1,141.2 L880.1,142.8 L881.1,143 L882.1,143.8 L883.1,143.3 L884.1,143.2 L885.1,141.9 L886.1,143.6 L887.1,144.5 L888.1,145.8 L889.1,146.3 L890.1,145.4 L891.1,145.8 L892.1,145.4 L893.1,145.7 L894.1,145.9 L895.1,147.1 L895.1,149Z" fill="#0a0a0a"/>
<path d="M910.1,149 L910.1,148.2 L911.1,147.2 L912.1,146.6 L913.1,145.8 L914.1,145 L915.1,144.9 L916.1,144.3 L917.1,143 L918.1,142.6 L919.1,142.4 L920.1,141.8 L921.1,141.6 L922.1,141.1 L923.1,140.6 L924.1,140.3 L925.1,140.7 L926.1,141.1 L927.1,141.4 L928.1,141.6 L929.1,141.7 L930.1,142.4 L931.1,143.1 L932.1,143.9 L933.1,144 L934.1,143.9 L935.1,144.5 L936.1,144.4 L937.1,144.7 L938.1,145.7 L939.1,146 L940.1,146.3 L941.1,146.3 L942.1,147.1 L943.1,147.7 L943.1,149Z" fill="#0a0a0a"/>
<path d="M949.1,149 L949.1,147.8 L950.1,145.6 L951.1,145 L952.1,145.6 L953.1,145.2 L954.1,145.5 L955.1,145.9 L956.1,145.4 L957.1,145.8 L958.1,145.1 L959.1,145.3 L960.1,145.5 L961.1,145.1 L961.1,149Z" fill="#0a0a0a"/>
<path d="M974.1,149 L974.1,145.9 L975.1,145 L976.1,144.8 L977.1,144.8 L978.1,144.4 L979.1,143.6 L980.1,144 L981.1,142.8 L982.1,143.5 L983.1,142.5 L984.1,142.3 L985.1,142.3 L986.1,141.8 L987.1,141.5 L988.1,141.4 L989.1,141.2 L990.1,141.1 L991.1,140.4 L992.1,140.3 L993.1,141 L994.1,140.6 L995.1,141 L996.1,141 L997.1,140.3 L998.1,140.6 L999.1,142.5 L1000.1,142.7 L1001.1,144.2 L1002.1,144.1 L1003.1,144.9 L1004.1,144.6 L1005.1,145.5 L1006.1,146 L1007.1,147 L1007.1,149Z" fill="#0a0a0a"/>
<path d="M1028.1,149 L1028.1,147.8 L1029.1,146.8 L1030.1,145.4 L1031.1,145.5 L1032.1,144.7 L1033.1,143.8 L1034.1,143.1 L1035.1,141.7 L1036.1,142.7 L1037.1,142.2 L1038.1,142.7 L1039.1,143.1 L1040.1,143.3 L1040.1,149Z" fill="#0a0a0a"/>
<line x1="738.1" y1="181.9" x2="1040.8" y2="181.9" stroke="#0a0a0a" stroke-width="1.3" stroke-opacity="0.45"/>
<path d="M739.1,182.6 L739.1,178.9 L740.1,178.4 L741.1,178.5 L742.1,178.6 L743.1,178.9 L744.1,178.3 L745.1,178.3 L746.1,178.6 L747.1,178.6 L748.1,178.9 L749.1,179.1 L749.1,182.6Z" fill="#0a0a0a"/>
<path d="M768.1,182.6 L768.1,181 L769.1,179.5 L770.1,180 L771.1,179.3 L772.1,179.9 L773.1,179.9 L774.1,180.1 L775.1,179.1 L776.1,179.4 L777.1,179.2 L778.1,179.5 L778.1,182.6Z" fill="#0a0a0a"/>
<path d="M817.1,182.6 L817.1,180.1 L818.1,179.8 L819.1,179.6 L820.1,180 L821.1,179.1 L822.1,179.7 L823.1,179.9 L824.1,179.3 L825.1,180 L826.1,179.2 L827.1,179.9 L827.1,182.6Z" fill="#0a0a0a"/>
<path d="M849.1,182.6 L849.1,181.4 L850.1,180.4 L851.1,179.9 L852.1,179.8 L853.1,179.6 L854.1,178.3 L855.1,178.6 L856.1,177.8 L857.1,178.1 L858.1,177.2 L859.1,177.6 L860.1,178 L861.1,178.3 L862.1,179.1 L863.1,179.5 L864.1,180.7 L865.1,180.6 L866.1,180.3 L867.1,180.9 L868.1,180.2 L869.1,180.2 L870.1,180.5 L871.1,179.9 L872.1,179.2 L873.1,178.7 L874.1,177.5 L875.1,177.5 L876.1,177.3 L877.1,176.5 L878.1,175.1 L879.1,174 L880.1,173.7 L881.1,173.4 L882.1,174.3 L883.1,175.1 L884.1,176.3 L885.1,176.5 L886.1,177.5 L887.1,178.3 L888.1,179.6 L889.1,181.1 L889.1,182.6Z" fill="#0a0a0a"/>
<path d="M914.1,182.6 L914.1,180.7 L915.1,179.8 L916.1,179.9 L917.1,179.3 L918.1,179.2 L919.1,179 L920.1,178.5 L921.1,177.1 L922.1,176.6 L923.1,176.5 L924.1,175.7 L925.1,175.2 L926.1,174.5 L927.1,174.3 L928.1,175.4 L929.1,175.5 L930.1,176.1 L931.1,176.3 L932.1,175.7 L933.1,175.8 L934.1,176.1 L935.1,177 L936.1,177.2 L937.1,177.9 L938.1,178 L939.1,177.3 L940.1,177.4 L941.1,177.8 L942.1,177.6 L943.1,178.6 L944.1,178.5 L945.1,178.6 L946.1,178.6 L947.1,178.7 L948.1,178.4 L949.1,177.7 L950.1,176.8 L951.1,176.3 L952.1,176.7 L953.1,177.5 L954.1,178.3 L955.1,178.3 L956.1,179.9 L956.1,182.6Z" fill="#0a0a0a"/>
<path d="M967.1,182.6 L967.1,178.9 L968.1,179.6 L969.1,179.4 L970.1,178.8 L971.1,178.8 L972.1,178.7 L973.1,179 L974.1,179.2 L975.1,179 L976.1,178.8 L977.1,179.3 L978.1,179.1 L979.1,182 L979.1,182.6Z" fill="#0a0a0a"/>
<path d="M984.1,182.6 L984.1,179.3 L985.1,178.8 L986.1,179.6 L987.1,178.9 L988.1,178.6 L989.1,179.6 L990.1,179 L991.1,179 L992.1,178.7 L993.1,179 L994.1,179.3 L995.1,179.2 L996.1,181 L996.1,182.6Z" fill="#0a0a0a"/>
<path d="M1010.1,182.6 L1010.1,178.7 L1011.1,179.5 L1012.1,179.5 L1013.1,179.5 L1014.1,179.6 L1015.1,179.2 L1016.1,179.5 L1017.1,178.7 L1018.1,178.9 L1019.1,179.5 L1020.1,179.1 L1021.1,179.3 L1021.1,182.6Z" fill="#0a0a0a"/>
<path d="M1027.1,182.6 L1027.1,178.5 L1028.1,178.5 L1029.1,178.3 L1030.1,178.1 L1031.1,177.7 L1032.1,177.1 L1033.1,177 L1034.1,177.3 L1035.1,176.4 L1036.1,176.4 L1037.1,176.7 L1038.1,176.9 L1039.1,177.9 L1040.1,177.6 L1040.1,182.6Z" fill="#0a0a0a"/>
<line x1="738.1" y1="215.3" x2="1040.8" y2="215.3" stroke="#ff2a1a" stroke-width="1.3" stroke-opacity="0.45"/>
<path d="M745.1,216 L745.1,214.3 L746.1,214.2 L747.1,214.2 L748.1,213.1 L749.1,213.7 L750.1,213.7 L751.1,213 L752.1,213.1 L753.1,212.5 L754.1,213.1 L755.1,212.2 L756.1,212.8 L757.1,212.4 L758.1,212.3 L759.1,212.9 L760.1,212.9 L761.1,213.4 L762.1,214.4 L762.1,216Z" fill="#ff2a1a"/>
<path d="M790.1,216 L790.1,213.6 L791.1,213.9 L792.1,214.2 L793.1,215.1 L793.1,216Z" fill="#ff2a1a"/>
<path d="M800.1,216 L800.1,213.5 L801.1,213.4 L802.1,212.7 L803.1,212.4 L804.1,211.9 L805.1,211.9 L806.1,211.5 L807.1,211.2 L808.1,211.3 L809.1,210.9 L810.1,212 L811.1,211.9 L812.1,212.2 L813.1,212.8 L814.1,213.6 L815.1,213.2 L816.1,213.4 L817.1,213.9 L818.1,214.1 L819.1,213.6 L820.1,214.2 L821.1,213.3 L822.1,213.8 L823.1,213.8 L824.1,214 L825.1,213.8 L826.1,213.5 L827.1,214.4 L827.1,216Z" fill="#ff2a1a"/>
<path d="M837.1,216 L837.1,215.1 L838.1,213.4 L839.1,213.7 L840.1,213.4 L841.1,213.5 L842.1,213.6 L842.1,216Z" fill="#ff2a1a"/>
<path d="M858.1,216 L858.1,212.8 L859.1,213 L860.1,213.4 L861.1,212.5 L862.1,213.1 L863.1,213.1 L864.1,213.1 L865.1,212.6 L866.1,212.5 L867.1,213 L868.1,213.1 L869.1,213.4 L870.1,212.8 L871.1,214.2 L872.1,213.7 L873.1,213.5 L874.1,213 L875.1,211.8 L876.1,210.8 L877.1,209.8 L878.1,208.1 L879.1,206.9 L880.1,206.2 L881.1,205.8 L882.1,205.4 L883.1,207.2 L884.1,208 L885.1,206.6 L886.1,205.3 L887.1,205.6 L888.1,206.6 L889.1,208.5 L890.1,209.9 L891.1,211 L892.1,211.8 L893.1,213.2 L893.1,216Z" fill="#ff2a1a"/>
<path d="M904.1,216 L904.1,213 L905.1,212.8 L906.1,212.9 L907.1,213.1 L908.1,212.7 L909.1,212.7 L910.1,212.9 L911.1,212.6 L911.1,216Z" fill="#ff2a1a"/>
<path d="M916.1,216 L916.1,212.8 L917.1,210.6 L918.1,208.6 L919.1,206.9 L920.1,205.5 L921.1,207 L922.1,209.2 L923.1,210.4 L924.1,211 L925.1,210.4 L926.1,211.4 L927.1,212 L928.1,212.2 L929.1,212.5 L930.1,212.3 L931.1,213.3 L932.1,213.2 L933.1,213.4 L934.1,213 L935.1,213.3 L936.1,213.2 L937.1,212.8 L938.1,212.6 L939.1,212.7 L940.1,213.1 L941.1,212.1 L942.1,210.9 L943.1,211 L944.1,210.1 L945.1,209.1 L946.1,208.5 L947.1,207.5 L948.1,206.8 L949.1,207.6 L950.1,208.4 L951.1,209 L952.1,209.6 L953.1,210.4 L954.1,210 L955.1,210.8 L956.1,210.3 L957.1,210.8 L958.1,211.6 L959.1,211.4 L960.1,211.5 L961.1,212.3 L962.1,211.8 L963.1,211.7 L964.1,210.4 L965.1,210.5 L966.1,209.3 L967.1,208.4 L968.1,207.9 L969.1,208 L970.1,207.1 L971.1,206.9 L972.1,206.3 L973.1,206.9 L974.1,208.1 L975.1,210.1 L976.1,210.9 L977.1,211.8 L978.1,212.2 L979.1,211.4 L980.1,211.2 L981.1,211.4 L982.1,211.4 L983.1,210.8 L984.1,210.8 L985.1,210.1 L986.1,209 L987.1,208.1 L988.1,206.4 L989.1,205.7 L990.1,204.5 L991.1,204.2 L992.1,205.4 L993.1,207.5 L994.1,208.7 L995.1,209.6 L996.1,210.8 L997.1,211.3 L998.1,211.1 L999.1,211.7 L1000.1,211.8 L1001.1,212.1 L1002.1,211.9 L1003.1,212.1 L1004.1,211.9 L1005.1,211.4 L1006.1,212.1 L1007.1,211.5 L1008.1,211.1 L1009.1,211.2 L1010.1,211.1 L1011.1,210.7 L1012.1,210.8 L1013.1,209.1 L1014.1,208.6 L1015.1,207.7 L1016.1,206.9 L1017.1,208 L1018.1,208.8 L1019.1,209.5 L1020.1,209.9 L1021.1,210.3 L1022.1,210.7 L1023.1,211.3 L1024.1,211.3 L1025.1,211.3 L1026.1,211.9 L1027.1,211.4 L1028.1,211.5 L1029.1,211 L1030.1,209.8 L1031.1,208.9 L1032.1,208.1 L1033.1,207.5 L1034.1,208.5 L1035.1,210.3 L1036.1,212.2 L1037.1,212.7 L1038.1,213.6 L1039.1,214.2 L1040.1,214.2 L1040.1,216Z" fill="#ff2a1a"/>
<line x1="738.1" y1="248.3" x2="1040.8" y2="248.3" stroke="#ff2a1a" stroke-width="1.3" stroke-opacity="0.45"/>
<path d="M742.1,249 L742.1,246.6 L743.1,246.6 L744.1,246.6 L745.1,247.4 L746.1,246.9 L747.1,247.1 L748.1,247 L749.1,247.4 L750.1,247.3 L751.1,247.1 L752.1,247.3 L753.1,247 L754.1,247.5 L755.1,247.4 L756.1,246.8 L757.1,247.1 L757.1,249Z" fill="#ff2a1a"/>
<path d="M766.1,249 L766.1,247 L767.1,246.8 L768.1,247.1 L769.1,247.4 L770.1,246.7 L771.1,246.9 L772.1,246.8 L773.1,246.9 L774.1,246.5 L775.1,247.1 L776.1,246.7 L777.1,247.1 L777.1,249Z" fill="#ff2a1a"/>
<path d="M786.1,249 L786.1,247.2 L787.1,246.8 L788.1,247.2 L789.1,247.4 L790.1,247 L791.1,246.8 L792.1,246.9 L793.1,247.1 L794.1,246.9 L795.1,247.3 L796.1,247.3 L796.1,249Z" fill="#ff2a1a"/>
<path d="M800.1,249 L800.1,247.2 L801.1,246.7 L802.1,247.3 L803.1,247.4 L804.1,247.4 L804.1,249Z" fill="#ff2a1a"/>
<path d="M810.1,249 L810.1,245.7 L811.1,245.4 L812.1,245.2 L813.1,245.7 L814.1,245.6 L815.1,245.7 L816.1,245.7 L817.1,247.9 L817.1,249Z" fill="#ff2a1a"/>
<path d="M820.1,249 L820.1,247.8 L821.1,247.2 L822.1,247.4 L823.1,246.7 L824.1,246.8 L825.1,246.7 L826.1,247.3 L827.1,247 L828.1,246.6 L829.1,246.9 L830.1,246.6 L831.1,247.3 L832.1,246.5 L833.1,247.4 L834.1,247.1 L835.1,247.5 L836.1,246.7 L837.1,246.8 L838.1,246.4 L839.1,246.5 L840.1,246.2 L841.1,246.5 L842.1,245.9 L843.1,246.1 L844.1,246.4 L845.1,245.6 L846.1,246 L847.1,245.9 L848.1,245.8 L849.1,245.1 L850.1,245.1 L851.1,244 L852.1,243.7 L853.1,244.4 L854.1,244.7 L855.1,244.5 L856.1,245 L857.1,244.8 L858.1,244.2 L859.1,243.4 L860.1,241.8 L861.1,239.9 L862.1,239.1 L863.1,240.4 L864.1,241 L865.1,242.3 L866.1,242.9 L867.1,243.6 L868.1,244.3 L869.1,244.5 L870.1,244.4 L871.1,243.8 L872.1,243.4 L873.1,242.5 L874.1,241.6 L875.1,239.7 L876.1,236.2 L877.1,232.6 L878.1,228.6 L879.1,230.6 L880.1,231.9 L881.1,234.2 L882.1,235.9 L883.1,237.7 L884.1,240.3 L885.1,241.6 L886.1,243 L887.1,243.1 L888.1,243.8 L889.1,244.6 L890.1,244.9 L891.1,245.6 L892.1,246.2 L893.1,246.5 L894.1,247.3 L895.1,246.7 L896.1,246 L897.1,246.3 L898.1,245.4 L899.1,245.8 L900.1,245.1 L901.1,245.4 L902.1,244.8 L903.1,244.6 L904.1,244.7 L905.1,243.9 L906.1,243.8 L907.1,243.2 L908.1,243 L909.1,242.7 L910.1,242.4 L911.1,242.2 L912.1,241.3 L913.1,241.7 L914.1,240.6 L915.1,240.2 L916.1,240.2 L917.1,239.5 L918.1,239.2 L919.1,238.9 L920.1,240.1 L921.1,240.9 L922.1,241.8 L923.1,241.9 L924.1,240.6 L925.1,240.7 L926.1,240 L927.1,239.4 L928.1,238.9 L929.1,239.7 L930.1,240.1 L931.1,240.9 L932.1,241.3 L933.1,242 L934.1,242.3 L935.1,242.7 L936.1,242.6 L937.1,242.9 L938.1,243.2 L939.1,242.7 L940.1,242.9 L941.1,242.4 L942.1,242.4 L943.1,241.8 L944.1,242.3 L945.1,241.7 L946.1,242.6 L947.1,242.1 L948.1,242.7 L949.1,243.5 L950.1,243 L951.1,243.7 L952.1,243.9 L953.1,244.3 L954.1,243.6 L955.1,244.3 L956.1,243.5 L957.1,243.8 L958.1,243.4 L959.1,243.7 L960.1,243.8 L961.1,242.9 L962.1,243.1 L963.1,243.5 L964.1,242.6 L965.1,242.6 L966.1,243.4 L967.1,243.7 L968.1,243.2 L969.1,243.8 L970.1,243.3 L971.1,243.7 L972.1,243.6 L973.1,243.9 L974.1,243.6 L975.1,243.3 L976.1,243.2 L977.1,242.9 L978.1,242.9 L979.1,242.8 L980.1,242.5 L981.1,241.5 L982.1,241.8 L983.1,241.3 L984.1,241.3 L985.1,241.4 L986.1,241.9 L987.1,242 L988.1,242.9 L989.1,243.4 L990.1,243.6 L991.1,243.7 L992.1,243.4 L993.1,243.9 L994.1,243.2 L995.1,243 L996.1,242.9 L997.1,243.6 L998.1,243.3 L999.1,242.7 L1000.1,242.9 L1001.1,243.9 L1002.1,243.8 L1003.1,243.7 L1004.1,243.9 L1005.1,244.3 L1006.1,244.9 L1007.1,244.9 L1008.1,245.4 L1009.1,244.8 L1010.1,244.4 L1011.1,243.7 L1012.1,243.7 L1013.1,243.5 L1014.1,243.4 L1015.1,243 L1016.1,242.4 L1017.1,242.3 L1018.1,242.4 L1019.1,242.1 L1020.1,242.8 L1021.1,242.9 L1022.1,243.8 L1023.1,244.1 L1024.1,244.7 L1025.1,244.9 L1026.1,244.6 L1027.1,244.5 L1028.1,244.8 L1029.1,245.1 L1030.1,245.4 L1031.1,244.7 L1032.1,245.1 L1033.1,245.1 L1034.1,245.4 L1035.1,245.5 L1036.1,245.5 L1037.1,245.3 L1038.1,245.9 L1039.1,246.4 L1040.1,246.8 L1040.1,249Z" fill="#ff2a1a"/>
<line x1="738.1" y1="281.3" x2="1040.8" y2="281.3" stroke="#1a14d2" stroke-width="1.3" stroke-opacity="0.45"/>
<path d="M836.1,282 L836.1,281.4 L837.1,280.4 L838.1,280 L839.1,280.5 L840.1,279.5 L841.1,280.1 L842.1,279.5 L843.1,279.9 L844.1,279 L845.1,279.5 L846.1,278.4 L847.1,277 L848.1,275.6 L849.1,274.6 L850.1,272.8 L851.1,271.8 L852.1,274.4 L853.1,275 L854.1,274.5 L855.1,274.1 L856.1,273.5 L857.1,272.8 L858.1,271.5 L859.1,272.4 L860.1,271.7 L861.1,271.7 L862.1,273.7 L863.1,275 L864.1,276.5 L865.1,277.4 L866.1,278.6 L867.1,279 L868.1,279.9 L868.1,282Z" fill="#1a14d2"/>
<path d="M875.1,282 L875.1,280.8 L876.1,279.1 L877.1,278.6 L878.1,277.2 L879.1,275.3 L880.1,273.8 L881.1,272.4 L882.1,271.9 L883.1,272.9 L884.1,274.4 L885.1,274.8 L886.1,276.1 L887.1,278.4 L888.1,279.5 L888.1,282Z" fill="#1a14d2"/>
<path d="M895.1,282 L895.1,281.2 L896.1,281 L897.1,280.6 L898.1,279.9 L899.1,279.3 L900.1,278.6 L901.1,279.1 L902.1,278.3 L903.1,277.4 L904.1,277.3 L905.1,277.1 L906.1,276.9 L907.1,275.9 L908.1,275.7 L909.1,274.7 L910.1,274.2 L911.1,273.8 L912.1,272.8 L913.1,272.4 L914.1,271.5 L915.1,270.2 L916.1,268.3 L917.1,263.1 L918.1,257.4 L919.1,260.2 L920.1,264.3 L921.1,268.4 L922.1,268.9 L923.1,269.8 L924.1,270 L925.1,268.5 L926.1,266.5 L927.1,264.1 L928.1,262.8 L929.1,259.7 L930.1,257.9 L931.1,255.7 L932.1,258.4 L933.1,260.7 L934.1,263.2 L935.1,264.5 L936.1,265.2 L937.1,265.7 L938.1,266.3 L939.1,266.9 L940.1,266.5 L941.1,266.5 L942.1,266.5 L943.1,267 L944.1,266.6 L945.1,266.2 L946.1,265.9 L947.1,265.7 L948.1,264.9 L949.1,264 L950.1,264.1 L951.1,263.4 L952.1,263.3 L953.1,264.7 L954.1,265.3 L955.1,266.6 L956.1,267.9 L957.1,268.3 L958.1,269.3 L959.1,269.1 L960.1,269.7 L961.1,270.6 L962.1,270.8 L963.1,272.1 L964.1,272.1 L965.1,272.6 L966.1,272.8 L967.1,272.2 L968.1,273.1 L969.1,272.4 L970.1,272.9 L971.1,273 L972.1,274 L973.1,273.4 L974.1,273.8 L975.1,274.8 L976.1,275 L977.1,275.4 L978.1,274.9 L979.1,275.1 L980.1,274.3 L981.1,274.4 L982.1,274.1 L983.1,274.4 L984.1,273.9 L985.1,274.4 L986.1,274.5 L987.1,275 L988.1,274.7 L989.1,275.2 L990.1,275.5 L991.1,276.1 L992.1,276.2 L993.1,276.1 L994.1,276 L995.1,275 L996.1,275.6 L997.1,274.9 L998.1,275.4 L999.1,274.9 L1000.1,275.7 L1001.1,276.3 L1002.1,276.4 L1003.1,277.1 L1004.1,277.4 L1005.1,278.7 L1006.1,279.2 L1007.1,279.6 L1008.1,279.7 L1009.1,279.1 L1010.1,279.7 L1011.1,280 L1012.1,280 L1013.1,279.4 L1014.1,279.2 L1015.1,279.6 L1016.1,279.5 L1017.1,279.4 L1018.1,278.9 L1019.1,279.1 L1020.1,279.7 L1021.1,279.8 L1022.1,279.9 L1023.1,279.6 L1024.1,279.7 L1025.1,280.2 L1026.1,280 L1027.1,280 L1028.1,279.2 L1029.1,279.5 L1030.1,278.9 L1031.1,279.5 L1032.1,279 L1033.1,279 L1034.1,278.6 L1035.1,279.1 L1036.1,279.3 L1037.1,278.7 L1038.1,278.5 L1039.1,279 L1040.1,279.2 L1040.1,282Z" fill="#1a14d2"/>
<text x="739.23" y="128.34" font-size="11.23" fill="#333" textLength="46.85" lengthAdjust="spacingAndGlyphs">[0-1.99]</text>
<text x="739.23" y="162.04" font-size="11.23" fill="#333" textLength="46.85" lengthAdjust="spacingAndGlyphs">[0-1.99]</text>
<text x="739.23" y="195.64" font-size="11.23" fill="#333" textLength="46.85" lengthAdjust="spacingAndGlyphs">[0-1.18]</text>
<text x="739.23" y="229.04" font-size="11.23" fill="#333" textLength="46.85" lengthAdjust="spacingAndGlyphs">[0-1.18]</text>
<text x="739.23" y="262.04" font-size="11.23" fill="#333" textLength="46.85" lengthAdjust="spacingAndGlyphs">[0-4.85]</text>
<line x1="738" y1="290.6" x2="1041" y2="290.6" stroke="#c4c4c4" stroke-width="3"/>
<line x1="893.5" y1="297.7" x2="1041" y2="297.7" stroke="#5a64e0" stroke-width="1.3" stroke-dasharray="3 3" stroke-opacity="0.7"/>
<rect x="875.5" y="295.7" width="18" height="4" fill="#1a14d2"/>
<circle cx="890" cy="297.5" r="3.3" fill="#1a14d2"/>
<path d="M875.5,299 L875.5,315.4 L941.6,315.4" fill="none" stroke="#222" stroke-width="1.3"/><circle cx="941.6" cy="315.4" r="2" fill="#111"/>
<text x="830.46" y="320.87" font-size="13.24" fill="#333" textLength="34.56" lengthAdjust="spacingAndGlyphs">BAG3</text>
<rect x="835.3" y="115.5" width="58.7" height="170.1" fill="rgba(94,225,94,0.27)" stroke="#7aa58a" stroke-width="1"/>
<rect x="736.1" y="114.8" width="306.7" height="214.6" fill="none" stroke="#34496b" stroke-width="2" rx="1.5"/>
<text x="628.84" y="144.90" font-size="13.62" fill="#222" textLength="20.12" lengthAdjust="spacingAndGlyphs">HA</text>
<text x="614.69" y="163.96" font-size="14.97" fill="#222" textLength="51.98" lengthAdjust="spacingAndGlyphs">(MED1)</text>
<text x="621.23" y="221.13" font-size="16.73" fill="#222" textLength="39.08" lengthAdjust="spacingAndGlyphs">Pol II</text>
<text x="681.24" y="138.65" font-size="14.56" fill="#222" textLength="42.17" lengthAdjust="spacingAndGlyphs">WT/KO</text>
<text x="679.47" y="171.06" font-size="14.01" fill="#222" textLength="46.34" lengthAdjust="spacingAndGlyphs">6KR/KO</text>
<text x="681.24" y="204.76" font-size="14.01" fill="#222" textLength="42.17" lengthAdjust="spacingAndGlyphs">WT/KO</text>
<text x="679.47" y="237.56" font-size="14.01" fill="#222" textLength="46.34" lengthAdjust="spacingAndGlyphs">6KR/KO</text>
<text x="672.46" y="269.58" font-size="12.11" fill="#222" textLength="57.85" lengthAdjust="spacingAndGlyphs">H3K4me3</text>
<line x1="672.4" y1="123.6" x2="672.4" y2="172.8" stroke="#666" stroke-width="1.6"/>
<line x1="672.4" y1="191.3" x2="672.4" y2="240.6" stroke="#666" stroke-width="1.6"/>
<line x1="933.5" y1="104" x2="1011" y2="104" stroke="#555" stroke-width="1.6"/><text x="960.14" y="97.20" font-size="9.66" font-weight="bold" fill="#111" textLength="26.30" lengthAdjust="spacingAndGlyphs">2 kb</text>
<rect x="147.9" y="395.7" width="392.8" height="218.1" fill="#fff"/>
<rect x="149.4" y="397.2" width="389.8" height="33.3" fill="#f6f6f6"/>
<rect x="149.4" y="431.5" width="389.8" height="32.9" fill="#f6f6f6"/>
<rect x="149.4" y="465.4" width="389.8" height="32.9" fill="#f6f6f6"/>
<rect x="149.4" y="499.3" width="389.8" height="32.7" fill="#f6f6f6"/>
<rect x="149.4" y="533" width="389.8" height="33" fill="#f6f6f6"/>
<line x1="149.9" y1="429.8" x2="538.7" y2="429.8" stroke="#0a0a0a" stroke-width="1.3" stroke-opacity="0.45"/>
<path d="M149.9,430.5 L149.9,428.2 L150.9,428.1 L151.9,427.9 L152.9,426.9 L153.9,426.9 L154.9,426.4 L155.9,425.8 L156.9,425.7 L157.9,425.6 L158.9,426.3 L159.9,425.9 L160.9,425.8 L161.9,426.1 L162.9,425.8 L163.9,425.3 L164.9,424.2 L165.9,424.6 L166.9,424.6 L167.9,424.7 L168.9,425.3 L169.9,425.3 L170.9,425.5 L171.9,425.4 L172.9,424.4 L173.9,424.4 L174.9,424.5 L175.9,425 L176.9,425.1 L177.9,425.3 L178.9,424.9 L179.9,425.5 L180.9,424.8 L181.9,424.8 L182.9,424.1 L183.9,423.8 L184.9,424.2 L185.9,424.1 L186.9,423.7 L187.9,423.4 L188.9,422.6 L189.9,422.7 L190.9,422.4 L191.9,423 L192.9,422.9 L193.9,423.4 L194.9,423.1 L195.9,423.4 L196.9,423.2 L197.9,423.5 L198.9,424.3 L199.9,425.1 L200.9,424.6 L201.9,424.9 L202.9,426.5 L203.9,427.8 L203.9,430.5Z" fill="#0a0a0a"/>
<path d="M241.9,430.5 L241.9,428.1 L242.9,428.7 L243.9,428.6 L244.9,428.1 L245.9,428 L246.9,427.9 L247.9,427.7 L248.9,428 L249.9,428 L250.9,428.1 L251.9,428 L252.9,427.8 L253.9,427.7 L254.9,427.3 L255.9,427.5 L256.9,427.7 L257.9,427.9 L258.9,427.8 L259.9,428.2 L260.9,427.9 L261.9,428.1 L262.9,428.2 L263.9,428.6 L264.9,428.2 L265.9,427.7 L266.9,427.3 L267.9,427.5 L268.9,427.2 L269.9,426.2 L270.9,426 L271.9,425.2 L272.9,424.8 L273.9,423.6 L274.9,423.2 L275.9,422.4 L276.9,421.3 L277.9,421.2 L278.9,421.5 L279.9,420.9 L280.9,421.1 L281.9,420 L282.9,419.8 L283.9,419 L284.9,419.2 L285.9,418.2 L286.9,419.2 L287.9,418.8 L288.9,419.5 L289.9,418.7 L290.9,416.4 L291.9,414.9 L292.9,415.5 L293.9,416.4 L294.9,417.5 L295.9,417.9 L296.9,417.5 L297.9,416.7 L298.9,417 L299.9,416.3 L300.9,415.5 L301.9,414.6 L302.9,413.9 L303.9,413.4 L304.9,414.6 L305.9,415 L306.9,415.6 L307.9,416.4 L308.9,416.5 L309.9,417 L310.9,417.9 L311.9,419 L312.9,419.7 L313.9,420.1 L314.9,421.1 L315.9,421.5 L316.9,421.4 L317.9,422.5 L318.9,422.9 L319.9,423.3 L320.9,423.4 L321.9,424.5 L322.9,424.5 L323.9,425.2 L324.9,425.6 L325.9,426.2 L326.9,426.8 L327.9,427.6 L328.9,428.3 L329.9,428.4 L330.9,429.3 L331.9,429.7 L331.9,430.5Z" fill="#0a0a0a"/>
<path d="M342.9,430.5 L342.9,428.8 L343.9,428.4 L344.9,428.9 L345.9,428.6 L346.9,428.4 L347.9,428.8 L348.9,428.4 L349.9,428.9 L350.9,428.8 L351.9,428.6 L352.9,428.7 L353.9,428.3 L354.9,428.6 L355.9,428.7 L356.9,428.2 L357.9,428.2 L358.9,428.2 L359.9,428.9 L360.9,428.7 L361.9,428.9 L362.9,428.2 L363.9,427.8 L364.9,427.5 L365.9,426.6 L366.9,427.4 L367.9,427.5 L368.9,426.6 L369.9,427 L370.9,426.6 L371.9,426.9 L372.9,427.4 L373.9,427 L374.9,426.7 L375.9,427.5 L376.9,426.7 L377.9,427.1 L378.9,427 L379.9,427.2 L380.9,426.7 L381.9,427 L382.9,429.2 L382.9,430.5Z" fill="#0a0a0a"/>
<path d="M421.9,430.5 L421.9,429.9 L422.9,428.4 L423.9,427.8 L424.9,428.3 L425.9,427.9 L426.9,428.5 L427.9,428.4 L428.9,428.3 L428.9,430.5Z" fill="#0a0a0a"/>
<path d="M450.9,430.5 L450.9,427.7 L451.9,427.4 L452.9,427.3 L453.9,427.6 L454.9,427.5 L455.9,427.6 L456.9,428 L457.9,427.2 L458.9,427.5 L459.9,427.1 L460.9,427.4 L461.9,427.4 L462.9,427.9 L463.9,427.4 L464.9,427.6 L465.9,427.7 L466.9,427.9 L467.9,427.8 L468.9,427.9 L469.9,427.3 L470.9,427.6 L471.9,427.9 L472.9,427.4 L473.9,427.1 L474.9,427.1 L475.9,427.9 L476.9,427.4 L477.9,427.4 L478.9,427.5 L479.9,427.6 L480.9,427.5 L481.9,427.7 L482.9,427.6 L483.9,427.8 L484.9,427.3 L485.9,427.1 L485.9,430.5Z" fill="#0a0a0a"/>
<path d="M507.9,430.5 L507.9,428.7 L508.9,428.4 L509.9,428.3 L510.9,428.1 L511.9,428.1 L512.9,427.2 L513.9,427.5 L514.9,426.9 L515.9,426.3 L516.9,426.3 L517.9,426.2 L518.9,426 L519.9,426 L520.9,425.7 L521.9,426.1 L522.9,426.9 L523.9,427.4 L524.9,426.9 L525.9,428.2 L526.9,428.1 L527.9,428.4 L527.9,430.5Z" fill="#0a0a0a"/>
<line x1="149.9" y1="463.7" x2="538.7" y2="463.7" stroke="#0a0a0a" stroke-width="1.3" stroke-opacity="0.45"/>
<path d="M149.9,464.4 L149.9,462.4 L150.9,462.3 L151.9,462 L152.9,461.7 L153.9,462.3 L154.9,462.3 L155.9,462.2 L156.9,461.6 L157.9,462.3 L158.9,461.7 L159.9,461.7 L160.9,462.3 L161.9,461.9 L162.9,462 L163.9,462 L164.9,461.4 L165.9,462.3 L166.9,462.4 L167.9,461.5 L168.9,462 L169.9,462.2 L170.9,462.1 L171.9,462 L172.9,461.4 L173.9,462.2 L174.9,462.2 L175.9,461.8 L176.9,461.9 L177.9,461.4 L178.9,461.6 L179.9,462 L180.9,462.2 L181.9,461.6 L182.9,461.4 L183.9,462.4 L184.9,461.7 L185.9,461.5 L186.9,461.7 L187.9,462.2 L188.9,461.6 L189.9,461.7 L190.9,462.2 L191.9,461.8 L192.9,462.2 L193.9,462.4 L194.9,462.1 L195.9,462.1 L196.9,462 L197.9,461.8 L198.9,461.6 L199.9,461.4 L200.9,461.4 L201.9,461.4 L202.9,461.6 L203.9,462.1 L204.9,462.2 L205.9,461.8 L206.9,463.5 L206.9,464.4Z" fill="#0a0a0a"/>
<path d="M235.9,464.4 L235.9,462 L236.9,462.3 L237.9,461.9 L238.9,460.9 L239.9,460.9 L240.9,460.5 L241.9,460.8 L242.9,460.3 L243.9,459.6 L244.9,459.7 L245.9,459.2 L246.9,459.8 L247.9,459.6 L248.9,459.5 L249.9,460.1 L250.9,460 L251.9,460.5 L252.9,461.2 L253.9,461.5 L254.9,460.9 L255.9,462 L256.9,462.1 L257.9,462.2 L258.9,462.1 L259.9,462 L260.9,462.4 L261.9,462.4 L262.9,462.1 L263.9,462.6 L264.9,462.5 L265.9,462.3 L266.9,462.3 L267.9,462.9 L268.9,462.4 L269.9,461.7 L270.9,460.5 L271.9,460 L272.9,459.1 L273.9,458.7 L274.9,458.6 L275.9,457.1 L276.9,456 L277.9,455.7 L278.9,455.2 L279.9,453.9 L280.9,453.1 L281.9,452.9 L282.9,453.3 L283.9,453.5 L284.9,453.1 L285.9,454.2 L286.9,453.9 L287.9,454.7 L288.9,453.8 L289.9,452.1 L290.9,451.5 L291.9,450.6 L292.9,449.3 L293.9,448 L294.9,447.4 L295.9,447 L296.9,447.5 L297.9,447.4 L298.9,447.2 L299.9,445.4 L300.9,442.9 L301.9,440.9 L302.9,438.9 L303.9,438.4 L304.9,439.1 L305.9,440.4 L306.9,441.1 L307.9,442.2 L308.9,442.8 L309.9,443.7 L310.9,443.4 L311.9,444.6 L312.9,445.4 L313.9,447.1 L314.9,448.2 L315.9,449.6 L316.9,451 L317.9,452.5 L318.9,454.5 L319.9,456.6 L320.9,457.2 L321.9,458.3 L322.9,459.3 L323.9,461.2 L324.9,461.7 L324.9,464.4Z" fill="#0a0a0a"/>
<path d="M439.9,464.4 L439.9,462 L440.9,462.2 L441.9,461.9 L442.9,460.9 L443.9,461 L444.9,460.5 L445.9,459.7 L446.9,459.8 L447.9,459.8 L448.9,460.1 L449.9,460.3 L450.9,460.2 L451.9,460.9 L452.9,460.8 L453.9,461.8 L454.9,461.9 L455.9,461.8 L456.9,462.3 L456.9,464.4Z" fill="#0a0a0a"/>
<line x1="149.9" y1="497.6" x2="538.7" y2="497.6" stroke="#ff2a1a" stroke-width="1.3" stroke-opacity="0.45"/>
<path d="M149.9,498.3 L149.9,496.6 L150.9,496.4 L151.9,496.1 L152.9,495.4 L153.9,495.6 L154.9,495.2 L155.9,495.7 L156.9,495.3 L157.9,495 L158.9,495.3 L159.9,494.9 L160.9,494.9 L161.9,495.4 L162.9,495.8 L163.9,495 L164.9,495.7 L165.9,495.8 L166.9,495.1 L167.9,494.9 L168.9,494.9 L169.9,494.7 L170.9,495.4 L171.9,495.5 L172.9,495.4 L173.9,494.5 L174.9,495.3 L175.9,495.2 L176.9,495.3 L177.9,495.3 L178.9,495.4 L179.9,495.2 L180.9,495.5 L181.9,495.5 L182.9,495 L183.9,495.9 L184.9,495.4 L185.9,495.6 L186.9,495.9 L187.9,496.1 L188.9,496 L189.9,496.2 L190.9,496.6 L191.9,496.5 L192.9,496.6 L193.9,496.4 L194.9,495.8 L195.9,496.4 L196.9,496.7 L197.9,496.3 L198.9,496 L199.9,496.4 L200.9,496.1 L201.9,496.7 L202.9,496.7 L203.9,496.1 L204.9,496.8 L205.9,496.5 L206.9,496.4 L207.9,496.6 L208.9,496.8 L209.9,496.8 L210.9,495.8 L211.9,496.1 L212.9,495.8 L213.9,496.3 L214.9,495.8 L215.9,495.9 L216.9,496.2 L217.9,496.3 L218.9,496.3 L219.9,496.6 L220.9,496.4 L221.9,496.1 L222.9,496.6 L223.9,496 L224.9,496.3 L225.9,496.2 L226.9,496 L227.9,496.2 L228.9,496.7 L229.9,496.6 L230.9,496.8 L231.9,496.8 L232.9,495.8 L233.9,496.2 L234.9,495.8 L235.9,496 L236.9,496.5 L237.9,495.8 L238.9,495.7 L239.9,496.1 L240.9,496.4 L241.9,496.1 L242.9,496.1 L243.9,495.8 L244.9,496 L245.9,495.3 L246.9,495 L247.9,495.6 L248.9,495.1 L249.9,495.4 L250.9,495.5 L251.9,495.2 L252.9,495.8 L253.9,495.5 L254.9,496.4 L255.9,495.5 L256.9,496.4 L257.9,496.7 L258.9,495.9 L259.9,496 L260.9,496 L261.9,495.8 L262.9,496.1 L263.9,496.3 L264.9,496 L265.9,495.3 L266.9,495.2 L267.9,495.9 L268.9,495.6 L269.9,495.5 L270.9,494.9 L271.9,495.8 L272.9,495 L273.9,495.5 L274.9,495.3 L275.9,495.7 L276.9,495.7 L277.9,494.9 L278.9,495.3 L279.9,494.8 L280.9,494.9 L281.9,495 L282.9,495.7 L283.9,495.2 L284.9,494.8 L285.9,495.3 L286.9,496 L287.9,496.1 L288.9,495.5 L289.9,495.8 L290.9,496.5 L291.9,496.3 L292.9,495.8 L293.9,495.9 L294.9,496.1 L295.9,495.2 L296.9,495.4 L297.9,495.6 L298.9,495.8 L299.9,495.1 L300.9,494.6 L301.9,495 L302.9,494.8 L303.9,494 L304.9,493.5 L305.9,493.9 L306.9,493.5 L307.9,493.1 L308.9,493.1 L309.9,493.3 L310.9,493 L311.9,492.9 L312.9,492.7 L313.9,492.6 L314.9,492.4 L315.9,492.9 L316.9,492.6 L317.9,493.4 L318.9,493.1 L319.9,493.6 L320.9,494.5 L321.9,494.8 L322.9,494.7 L323.9,495 L324.9,495.1 L325.9,495.8 L326.9,495.6 L327.9,495.5 L328.9,495.8 L329.9,496 L330.9,495.3 L331.9,495.9 L332.9,495.1 L333.9,495.4 L334.9,496.1 L335.9,495.6 L336.9,495.8 L337.9,495.2 L338.9,495.5 L339.9,495.8 L340.9,494.9 L341.9,495 L342.9,495.2 L343.9,495.3 L344.9,495.8 L345.9,494.9 L346.9,495.6 L347.9,495.4 L348.9,495.4 L349.9,495.5 L350.9,496 L351.9,495.1 L352.9,495.5 L353.9,495.7 L354.9,495.2 L355.9,495.2 L356.9,495.4 L357.9,495.2 L358.9,495.8 L359.9,496.1 L360.9,495.9 L361.9,495.6 L362.9,495.5 L363.9,495.5 L364.9,495.7 L365.9,495.7 L366.9,495.6 L367.9,495.7 L368.9,496.3 L369.9,495.8 L370.9,496 L371.9,496.2 L372.9,495.7 L373.9,495.5 L374.9,496 L375.9,495.6 L376.9,495.7 L377.9,495.6 L378.9,495.4 L379.9,495.6 L380.9,496.2 L381.9,495.7 L382.9,496 L383.9,495.9 L384.9,495.6 L385.9,496.1 L386.9,495.7 L387.9,495.4 L388.9,496.3 L389.9,495.5 L390.9,495.7 L391.9,496 L392.9,495.7 L393.9,496.4 L394.9,496.3 L395.9,495.5 L396.9,495.9 L397.9,496.4 L398.9,496.4 L399.9,496.1 L400.9,496.1 L401.9,495.6 L402.9,496.5 L403.9,496 L404.9,496.3 L405.9,496.2 L406.9,495.8 L407.9,496.7 L408.9,496 L409.9,496 L410.9,496.4 L411.9,496.5 L412.9,495.9 L413.9,495.7 L414.9,496.2 L415.9,496.3 L416.9,495.9 L417.9,495.7 L418.9,496 L419.9,495.9 L420.9,496.2 L421.9,496.1 L422.9,495.9 L423.9,495.4 L424.9,496 L425.9,495.8 L426.9,495.5 L427.9,495.7 L428.9,495.7 L429.9,495.1 L430.9,495.6 L431.9,495.2 L432.9,495.6 L433.9,495.2 L434.9,494.9 L435.9,495.1 L436.9,495.3 L437.9,495.5 L438.9,495.2 L439.9,495 L440.9,495.3 L441.9,494.9 L442.9,494.8 L443.9,495.2 L444.9,494.5 L445.9,494.2 L446.9,494.4 L447.9,494.6 L448.9,494.2 L449.9,494 L450.9,493.9 L451.9,493.9 L452.9,494 L453.9,493.7 L454.9,493.7 L455.9,494 L456.9,494 L457.9,493.4 L458.9,493 L459.9,493.3 L460.9,493 L461.9,493.1 L462.9,493 L463.9,492.6 L464.9,492.1 L465.9,493 L466.9,493.1 L467.9,493 L468.9,492.6 L469.9,493.5 L470.9,493.8 L471.9,494.1 L472.9,494.1 L473.9,494.8 L474.9,494.4 L475.9,495.3 L476.9,495.5 L477.9,495.8 L478.9,495.7 L479.9,496 L480.9,496.1 L481.9,496.1 L482.9,496.2 L483.9,495.9 L484.9,496.3 L485.9,496.6 L486.9,496.8 L487.9,495.9 L488.9,495.9 L489.9,495.9 L490.9,496.1 L491.9,496.4 L492.9,496.5 L493.9,496.6 L494.9,496.4 L495.9,496.4 L496.9,495.9 L497.9,496.5 L498.9,495.9 L499.9,495.7 L500.9,495.7 L501.9,495.6 L502.9,496.1 L503.9,495.9 L504.9,495.4 L505.9,495.2 L506.9,494.4 L507.9,494.1 L508.9,494.2 L509.9,493.8 L510.9,492.7 L511.9,493 L512.9,492.1 L513.9,493.4 L514.9,493.3 L515.9,493.5 L516.9,494.7 L517.9,495.2 L518.9,495.1 L519.9,495.1 L520.9,495.8 L521.9,495.4 L522.9,495.1 L523.9,495.1 L524.9,495.6 L525.9,496 L526.9,495.4 L527.9,495.5 L528.9,495.6 L529.9,495.5 L530.9,495.5 L531.9,495.6 L532.9,495.6 L533.9,495.6 L534.9,495.4 L535.9,495.4 L536.9,496.2 L537.9,495.5 L537.9,498.3Z" fill="#ff2a1a"/>
<line x1="149.9" y1="531.3" x2="538.7" y2="531.3" stroke="#ff2a1a" stroke-width="1.3" stroke-opacity="0.45"/>
<path d="M149.9,532 L149.9,529.9 L150.9,529.8 L151.9,529.5 L152.9,530 L153.9,529.6 L154.9,529.3 L155.9,529.2 L156.9,529.9 L157.9,529.4 L158.9,529.3 L159.9,529.4 L160.9,528.9 L161.9,529.3 L162.9,529.3 L163.9,528.7 L164.9,529 L165.9,529.3 L166.9,529.2 L167.9,529 L168.9,529.4 L169.9,528.9 L170.9,528.8 L171.9,529.1 L172.9,528.7 L173.9,528.6 L174.9,528.9 L175.9,528.8 L176.9,529.4 L177.9,529.4 L178.9,528.5 L179.9,529.2 L180.9,529.3 L181.9,528.6 L182.9,528.8 L183.9,529.4 L184.9,529.2 L185.9,529.3 L186.9,529.2 L187.9,529.5 L188.9,529 L189.9,529.2 L190.9,529.2 L191.9,529.4 L192.9,529.6 L193.9,529.7 L194.9,528.9 L195.9,529.1 L196.9,529.3 L197.9,529.8 L198.9,529.8 L199.9,529.9 L200.9,529.7 L201.9,530 L202.9,529.9 L203.9,530 L204.9,530 L205.9,529.6 L206.9,529.9 L207.9,529.9 L208.9,530 L209.9,529.9 L210.9,529.7 L211.9,530.2 L212.9,530.4 L213.9,530 L214.9,530.1 L215.9,529.7 L216.9,530.4 L217.9,529.6 L218.9,530.5 L219.9,530 L220.9,530.1 L221.9,530.2 L222.9,529.6 L223.9,529.8 L224.9,530.3 L225.9,530 L226.9,529.9 L227.9,530.5 L228.9,530.4 L229.9,529.9 L230.9,529.8 L231.9,530 L232.9,530.1 L233.9,530 L234.9,530.2 L235.9,529.6 L236.9,529.5 L237.9,530 L238.9,530.4 L239.9,529.9 L240.9,529.4 L241.9,529.8 L242.9,530 L243.9,529.8 L244.9,529.2 L245.9,529.2 L246.9,529.5 L247.9,529.1 L248.9,528.9 L249.9,528.6 L250.9,528.7 L251.9,529.1 L252.9,528.8 L253.9,528.7 L254.9,528.8 L255.9,528.9 L256.9,529.2 L257.9,529.3 L258.9,529 L259.9,529.2 L260.9,529.2 L261.9,529.7 L262.9,529.9 L263.9,529.7 L264.9,529.3 L265.9,529.3 L266.9,529.6 L267.9,529.5 L268.9,528.7 L269.9,529.5 L270.9,528.4 L271.9,528.1 L272.9,527.8 L273.9,526.9 L274.9,526.8 L275.9,527 L276.9,525.6 L277.9,526.5 L278.9,526.4 L279.9,527 L280.9,528.1 L281.9,528.7 L282.9,529.2 L283.9,528.7 L284.9,528.7 L285.9,529.3 L286.9,529.4 L287.9,529.1 L288.9,528.7 L289.9,528.8 L290.9,528.6 L291.9,528.5 L292.9,528.7 L293.9,528.7 L294.9,529.5 L295.9,529.5 L296.9,528.6 L297.9,528.9 L298.9,529.2 L299.9,529.2 L300.9,528.9 L301.9,528.7 L302.9,528.4 L303.9,528.3 L304.9,528.4 L305.9,527.9 L306.9,526 L307.9,524.2 L308.9,522.4 L309.9,520.3 L310.9,517.5 L311.9,513.5 L312.9,510.5 L313.9,507.3 L314.9,506 L315.9,507.5 L316.9,509.2 L317.9,511.9 L318.9,514.2 L319.9,515.1 L320.9,516.1 L321.9,517 L322.9,517.9 L323.9,520.3 L324.9,521.5 L325.9,523.1 L326.9,524.7 L327.9,525.5 L328.9,527.3 L329.9,528.7 L330.9,529.8 L331.9,529 L332.9,529.7 L333.9,529.9 L334.9,529 L335.9,529.4 L336.9,529 L337.9,529.7 L338.9,529.2 L339.9,530 L340.9,529.8 L341.9,529.2 L342.9,529.5 L343.9,529.2 L344.9,529.6 L345.9,529.1 L346.9,529.9 L347.9,529.4 L348.9,529.8 L349.9,529.8 L350.9,529.1 L351.9,529.6 L352.9,529.2 L353.9,529.7 L354.9,529.3 L355.9,529.1 L356.9,529.4 L357.9,529.8 L358.9,529.3 L359.9,529 L360.9,529.2 L361.9,529.6 L362.9,529.6 L363.9,529.9 L364.9,529.2 L365.9,529.8 L366.9,529.8 L367.9,530 L368.9,529.8 L369.9,529.6 L370.9,529.5 L371.9,529.8 L372.9,529.6 L373.9,529.2 L374.9,529.9 L375.9,529.9 L376.9,529.5 L377.9,529.1 L378.9,529.1 L379.9,529.4 L380.9,529.9 L381.9,529.1 L382.9,529 L383.9,529.1 L384.9,529.5 L385.9,529.6 L386.9,529.4 L387.9,529.2 L388.9,529 L389.9,529.5 L390.9,529.5 L391.9,529.7 L392.9,529.5 L393.9,529.5 L394.9,529.7 L395.9,529.5 L396.9,529.1 L397.9,529.8 L398.9,529.7 L399.9,529.7 L400.9,529.1 L401.9,529.7 L402.9,529.2 L403.9,529.1 L404.9,529.1 L405.9,529.2 L406.9,529.8 L407.9,529.5 L408.9,529.2 L409.9,529.8 L410.9,529.4 L411.9,529.2 L412.9,529.2 L413.9,529.8 L414.9,530 L415.9,530.1 L416.9,529.9 L417.9,529.7 L418.9,529.9 L419.9,529.4 L420.9,529.6 L421.9,529.7 L422.9,529.5 L423.9,530 L424.9,529.7 L425.9,530 L426.9,530.1 L427.9,530.3 L428.9,529.7 L429.9,529.6 L430.9,530.5 L431.9,529.7 L432.9,530.3 L433.9,529.9 L434.9,530 L435.9,529.3 L436.9,529.7 L437.9,529.6 L438.9,529.7 L439.9,529.7 L440.9,529.7 L441.9,529.8 L442.9,529.8 L443.9,529.2 L444.9,529 L445.9,529 L446.9,529.3 L447.9,528.6 L448.9,529.4 L449.9,528.9 L450.9,528.9 L451.9,528.9 L452.9,528.1 L453.9,528.2 L454.9,528.7 L455.9,528.5 L456.9,527.8 L457.9,528.2 L458.9,528.3 L459.9,528.4 L460.9,528.5 L461.9,528.3 L462.9,528.7 L463.9,528.5 L464.9,529.1 L465.9,528.7 L466.9,528.8 L467.9,529.1 L468.9,528.7 L469.9,528.8 L470.9,529.2 L471.9,529.6 L472.9,530 L473.9,529.7 L474.9,530.2 L475.9,530.3 L476.9,529.9 L477.9,530.2 L478.9,529.8 L479.9,529.6 L480.9,530.4 L481.9,529.7 L482.9,530.1 L483.9,530 L484.9,529.6 L485.9,529.3 L486.9,529.9 L487.9,529.5 L488.9,529.8 L489.9,529.2 L490.9,530 L491.9,529.5 L492.9,530 L493.9,529.5 L494.9,529.3 L495.9,529.1 L496.9,529.2 L497.9,529.5 L498.9,529.6 L499.9,529.4 L500.9,529.4 L501.9,529.4 L502.9,529.3 L503.9,529.3 L504.9,529.1 L505.9,529.4 L506.9,529.1 L507.9,529.3 L508.9,529.6 L509.9,529.2 L510.9,529.6 L511.9,529.2 L512.9,529.1 L513.9,529.1 L514.9,529.1 L515.9,529.3 L516.9,529.5 L517.9,529.7 L518.9,529.4 L519.9,529.1 L520.9,529.7 L521.9,529.9 L522.9,529.3 L523.9,529.2 L524.9,529.9 L525.9,530 L526.9,530.1 L527.9,529.7 L528.9,529.4 L529.9,530 L530.9,529.5 L531.9,530.3 L532.9,530.1 L533.9,529.8 L534.9,529.6 L535.9,529.9 L536.9,529.8 L537.9,530.1 L537.9,532Z" fill="#ff2a1a"/>
<line x1="149.9" y1="565.3" x2="538.7" y2="565.3" stroke="#1a14d2" stroke-width="1.3" stroke-opacity="0.45"/>
<path d="M151.9,566 L151.9,563 L152.9,562.9 L153.9,562.7 L154.9,562.6 L155.9,562.6 L156.9,563.1 L157.9,562.6 L158.9,563.1 L159.9,563.2 L160.9,563.4 L161.9,563 L162.9,563.3 L163.9,563.2 L164.9,563.6 L164.9,566Z" fill="#1a14d2"/>
<path d="M171.9,566 L171.9,563.6 L172.9,563.2 L173.9,563.6 L174.9,563.2 L175.9,562.7 L176.9,562.1 L177.9,561.4 L178.9,561.1 L179.9,560.7 L180.9,561 L181.9,561.1 L182.9,561.5 L183.9,561.6 L184.9,561.8 L185.9,561.6 L186.9,561.7 L187.9,561.8 L188.9,562.1 L189.9,562.2 L190.9,562.4 L191.9,561.9 L192.9,562.3 L193.9,562.2 L194.9,562.2 L195.9,562.8 L196.9,563.1 L197.9,563 L198.9,562.5 L199.9,562.7 L200.9,563.2 L201.9,562.8 L202.9,563.3 L203.9,562.9 L204.9,563.7 L205.9,563.1 L206.9,563 L207.9,563.6 L208.9,563.6 L209.9,564 L210.9,563.9 L211.9,564 L212.9,564 L213.9,564.3 L214.9,564.2 L214.9,566Z" fill="#1a14d2"/>
<path d="M235.9,566 L235.9,564.2 L236.9,563.4 L237.9,563.2 L238.9,563 L239.9,562 L240.9,562.3 L241.9,561.7 L242.9,561 L243.9,560.8 L244.9,560.3 L245.9,560.5 L246.9,560 L247.9,560.6 L248.9,559.7 L249.9,559.8 L250.9,559.6 L251.9,558.9 L252.9,558.8 L253.9,559.5 L254.9,559.8 L255.9,560.2 L256.9,559.8 L257.9,560.4 L258.9,561.1 L259.9,561.2 L260.9,562.1 L261.9,562.4 L262.9,562.6 L263.9,562.5 L264.9,562.6 L265.9,563 L266.9,562.7 L267.9,563.2 L268.9,561.9 L269.9,560.2 L270.9,559.7 L271.9,557.5 L272.9,556.2 L273.9,555.8 L274.9,554.2 L275.9,553 L276.9,554 L277.9,555 L278.9,556.1 L279.9,557.2 L280.9,559.3 L281.9,560.6 L282.9,562.5 L283.9,563.9 L284.9,564.9 L284.9,566Z" fill="#1a14d2"/>
<path d="M312.9,566 L312.9,562.1 L313.9,560.1 L314.9,557.9 L315.9,555.7 L316.9,553.7 L317.9,552.3 L318.9,550.9 L319.9,549.6 L320.9,548.5 L321.9,546.8 L322.9,544.7 L323.9,543.8 L324.9,543 L325.9,544.1 L326.9,545.4 L327.9,546.9 L328.9,548.5 L329.9,550.7 L330.9,552.7 L331.9,553.7 L332.9,554.9 L333.9,556.4 L334.9,557.3 L335.9,557 L336.9,556.4 L337.9,556.3 L338.9,556.1 L339.9,556.4 L340.9,555.7 L341.9,556.2 L342.9,557 L343.9,557 L344.9,558.1 L345.9,558.3 L346.9,558.7 L347.9,558.5 L348.9,558.6 L349.9,559.2 L350.9,558.7 L351.9,559.2 L352.9,558.7 L353.9,558.8 L354.9,559.1 L355.9,559.8 L356.9,559.7 L357.9,559.9 L358.9,559.6 L359.9,560.2 L360.9,560.3 L361.9,560.3 L362.9,559.6 L363.9,559.8 L364.9,559.4 L365.9,559.3 L366.9,559.6 L367.9,559.2 L368.9,559.5 L369.9,559.2 L370.9,559.6 L371.9,559.2 L372.9,559.5 L373.9,559.1 L374.9,558.7 L375.9,558.9 L376.9,559.3 L377.9,560.2 L378.9,559.4 L379.9,560.1 L380.9,560.1 L381.9,560.6 L382.9,560.4 L383.9,561 L384.9,561.4 L385.9,561.1 L386.9,561.5 L387.9,561.6 L388.9,561.7 L389.9,561.3 L390.9,561.4 L391.9,561.9 L392.9,561.5 L393.9,562.3 L394.9,561.5 L395.9,562.3 L396.9,561.9 L397.9,561.9 L398.9,561.4 L399.9,561.7 L400.9,561.9 L401.9,561.1 L402.9,561.3 L403.9,561.5 L404.9,561 L405.9,560.7 L406.9,560.7 L407.9,560.6 L408.9,561 L409.9,561 L410.9,561.1 L411.9,560.1 L412.9,560.7 L413.9,560.5 L414.9,560 L415.9,560.6 L416.9,559.7 L417.9,559.9 L418.9,560.4 L419.9,559.9 L420.9,560.1 L421.9,560.8 L422.9,560.5 L423.9,560.3 L424.9,560.9 L425.9,560.9 L426.9,560.5 L427.9,561.3 L428.9,561.2 L429.9,561.3 L430.9,560.8 L431.9,560.8 L432.9,560.9 L433.9,560.9 L434.9,560.8 L435.9,560.1 L436.9,560.2 L437.9,559.9 L438.9,560.5 L439.9,559.5 L440.9,559.3 L441.9,559 L442.9,558.3 L443.9,558.6 L444.9,557.6 L445.9,557.4 L446.9,557.3 L447.9,556.1 L448.9,555 L449.9,549 L450.9,544.2 L451.9,538.3 L452.9,539.4 L453.9,539.4 L454.9,539.4 L455.9,540.3 L456.9,540.6 L457.9,542.8 L458.9,546.6 L459.9,550.6 L460.9,554.6 L461.9,558.1 L462.9,555.5 L463.9,553.9 L464.9,551.5 L465.9,549.2 L466.9,547.7 L467.9,546.4 L468.9,545 L469.9,543.9 L470.9,542.6 L471.9,541.7 L472.9,540.5 L473.9,541.5 L474.9,542.5 L475.9,543.7 L476.9,545.4 L477.9,546.1 L478.9,547.5 L479.9,549 L480.9,551.1 L481.9,552.2 L482.9,554 L483.9,555.9 L484.9,558.3 L485.9,560.2 L486.9,560.7 L487.9,562.4 L488.9,562.6 L489.9,563.1 L490.9,562.7 L491.9,563.4 L492.9,563.4 L493.9,562.8 L494.9,562.8 L495.9,563.1 L496.9,563 L497.9,562.7 L498.9,563 L499.9,563.1 L500.9,562.4 L501.9,562.5 L502.9,561.7 L503.9,562 L504.9,560.2 L505.9,559.2 L506.9,557.6 L507.9,556.5 L508.9,555.1 L509.9,553.2 L510.9,553.3 L511.9,554.1 L512.9,554.5 L513.9,555.3 L514.9,556.5 L515.9,556.9 L516.9,557.8 L517.9,558 L518.9,558.9 L519.9,558.5 L520.9,559 L521.9,559.9 L522.9,560.3 L523.9,560.1 L524.9,559.8 L525.9,560.2 L526.9,560.1 L527.9,559.7 L528.9,560.3 L529.9,560.5 L530.9,560.1 L531.9,560.1 L532.9,559.8 L533.9,560.4 L534.9,559.6 L535.9,559.5 L536.9,559.8 L537.9,560 L537.9,566Z" fill="#1a14d2"/>
<text x="151.03" y="409.24" font-size="11.23" fill="#333" textLength="46.85" lengthAdjust="spacingAndGlyphs">[0-4.47]</text>
<text x="151.03" y="443.54" font-size="11.23" fill="#333" textLength="46.85" lengthAdjust="spacingAndGlyphs">[0-4.47]</text>
<text x="151.03" y="477.44" font-size="11.23" fill="#333" textLength="46.85" lengthAdjust="spacingAndGlyphs">[0-3.20]</text>
<text x="151.03" y="511.34" font-size="11.23" fill="#333" textLength="46.85" lengthAdjust="spacingAndGlyphs">[0-3.20]</text>
<text x="151.03" y="545.04" font-size="11.23" fill="#333" textLength="46.85" lengthAdjust="spacingAndGlyphs">[0-5.67]</text>
<line x1="150" y1="575.3" x2="539" y2="575.3" stroke="#c4c4c4" stroke-width="3"/>
<rect x="314.2" y="580.5" width="132.5" height="5" fill="#1a14d2"/>
<rect x="446.7" y="581.5" width="23.7" height="3" fill="#1a14d2"/>
<path d="M314.2,585 L314.2,601.5 L366.6,601.5" fill="none" stroke="#222" stroke-width="1.3"/><circle cx="366.6" cy="601.5" r="2" fill="#111"/>
<text x="393.31" y="608.06" font-size="13.80" fill="#333" textLength="47.83" lengthAdjust="spacingAndGlyphs">HSPA1B</text>
<rect x="266.8" y="396.6" width="65" height="174" fill="rgba(94,225,94,0.27)" stroke="#7aa58a" stroke-width="1"/>
<rect x="147.9" y="395.7" width="392.8" height="218.1" fill="none" stroke="#34496b" stroke-width="2" rx="1.5"/>
<text x="39.72" y="426.70" font-size="14.35" fill="#222" textLength="20.55" lengthAdjust="spacingAndGlyphs">HA</text>
<text x="25.69" y="445.76" font-size="14.97" fill="#222" textLength="51.98" lengthAdjust="spacingAndGlyphs">(MED1)</text>
<text x="31.69" y="504.52" font-size="17.96" fill="#222" textLength="40.06" lengthAdjust="spacingAndGlyphs">Pol II</text>
<text x="93.43" y="419.56" font-size="14.01" fill="#222" textLength="42.99" lengthAdjust="spacingAndGlyphs">WT/KO</text>
<text x="90.76" y="453.65" font-size="15.10" fill="#222" textLength="47.26" lengthAdjust="spacingAndGlyphs">6KR/KO</text>
<text x="93.43" y="487.26" font-size="14.42" fill="#222" textLength="42.99" lengthAdjust="spacingAndGlyphs">WT/KO</text>
<text x="90.76" y="521.35" font-size="15.10" fill="#222" textLength="47.26" lengthAdjust="spacingAndGlyphs">6KR/KO</text>
<text x="84.64" y="553.77" font-size="12.68" fill="#222" textLength="58.68" lengthAdjust="spacingAndGlyphs">H3K4me3</text>
<line x1="84.9" y1="404.5" x2="84.9" y2="455.8" stroke="#666" stroke-width="1.6"/>
<line x1="84.9" y1="473.1" x2="84.9" y2="524.8" stroke="#666" stroke-width="1.6"/>
<line x1="462" y1="385.8" x2="523.7" y2="385.8" stroke="#555" stroke-width="1.6"/><text x="479.76" y="377.09" font-size="11.29" font-weight="bold" fill="#111" textLength="25.98" lengthAdjust="spacingAndGlyphs">1 kb</text>
<rect x="688.7" y="398.5" width="353.9" height="216.8" fill="#fff"/>
<rect x="690.2" y="400" width="350.9" height="31.7" fill="#f6f6f6"/>
<rect x="690.2" y="432.7" width="350.9" height="31.9" fill="#f6f6f6"/>
<rect x="690.2" y="465.6" width="350.9" height="33.3" fill="#f6f6f6"/>
<rect x="690.2" y="499.9" width="350.9" height="31.9" fill="#f6f6f6"/>
<rect x="690.2" y="532.8" width="350.9" height="33.2" fill="#f6f6f6"/>
<line x1="690.7" y1="431" x2="1040.6" y2="431" stroke="#0a0a0a" stroke-width="1.3" stroke-opacity="0.45"/>
<path d="M693.7,431.7 L693.7,429.4 L694.7,428.2 L695.7,428.3 L696.7,428.5 L697.7,428.6 L698.7,430.7 L698.7,431.7Z" fill="#0a0a0a"/>
<path d="M708.7,431.7 L708.7,430.4 L709.7,429.1 L710.7,427.9 L711.7,429 L712.7,430.2 L712.7,431.7Z" fill="#0a0a0a"/>
<path d="M719.7,431.7 L719.7,429.2 L720.7,429.7 L721.7,429 L722.7,428.8 L723.7,428.8 L724.7,428.6 L725.7,429.7 L726.7,430.2 L726.7,431.7Z" fill="#0a0a0a"/>
<path d="M735.7,431.7 L735.7,431.1 L736.7,428.7 L737.7,429.2 L738.7,429.3 L739.7,430.9 L739.7,431.7Z" fill="#0a0a0a"/>
<path d="M761.7,431.7 L761.7,429.8 L762.7,428.4 L763.7,428.1 L764.7,427.3 L765.7,428.4 L766.7,429.9 L767.7,429.4 L768.7,430 L769.7,430 L770.7,429.9 L771.7,429.6 L772.7,428.9 L773.7,429 L774.7,428.3 L775.7,428.4 L776.7,429.3 L777.7,429.3 L778.7,429.9 L779.7,429.5 L779.7,431.7Z" fill="#0a0a0a"/>
<path d="M787.7,431.7 L787.7,431.1 L788.7,429.5 L789.7,429.4 L790.7,429.8 L791.7,429.2 L792.7,429.6 L793.7,428.7 L794.7,428.9 L795.7,429.1 L796.7,426.6 L797.7,424.6 L798.7,423.2 L799.7,424 L800.7,426.6 L801.7,428.4 L802.7,429.5 L803.7,430.3 L803.7,431.7Z" fill="#0a0a0a"/>
<path d="M813.7,431.7 L813.7,430.2 L814.7,428.7 L815.7,427 L816.7,426 L817.7,424.7 L818.7,423.9 L819.7,423.7 L820.7,422.3 L821.7,421.9 L822.7,420.7 L823.7,418.9 L824.7,416.7 L825.7,410.7 L826.7,406.2 L827.7,409.9 L828.7,414.3 L829.7,416.3 L830.7,417.5 L831.7,419.4 L832.7,421.5 L833.7,423 L834.7,424.1 L835.7,426.2 L836.7,426.4 L837.7,426.1 L838.7,427 L839.7,427.2 L840.7,427.5 L841.7,427.8 L842.7,428.2 L843.7,428.5 L844.7,428.2 L845.7,431 L845.7,431.7Z" fill="#0a0a0a"/>
<path d="M850.7,431.7 L850.7,428.7 L851.7,426.5 L852.7,425.4 L853.7,423.8 L854.7,422.4 L855.7,422.3 L856.7,421.8 L857.7,423.3 L858.7,424.2 L859.7,424.8 L860.7,425.5 L861.7,425.8 L862.7,426.7 L863.7,426.2 L864.7,425.9 L865.7,424.9 L866.7,423.4 L867.7,423.4 L868.7,424.8 L869.7,427.4 L870.7,428.9 L871.7,430.8 L871.7,431.7Z" fill="#0a0a0a"/>
<path d="M875.7,431.7 L875.7,431 L876.7,430.3 L877.7,429.6 L878.7,429.8 L879.7,429 L880.7,428.6 L881.7,428.2 L882.7,428.3 L883.7,427.7 L884.7,426.1 L885.7,426.2 L886.7,424.5 L887.7,421.9 L888.7,422.7 L889.7,423.1 L890.7,424.2 L891.7,425.2 L892.7,425.5 L893.7,424.7 L894.7,423.3 L895.7,422.1 L896.7,419.8 L897.7,417.3 L898.7,418.2 L899.7,420.8 L900.7,422.5 L901.7,422.7 L902.7,423.9 L903.7,423.8 L904.7,424.3 L905.7,424.4 L906.7,424.3 L907.7,424.8 L908.7,425.2 L909.7,425.8 L910.7,426.7 L911.7,427.7 L912.7,427.9 L913.7,428.8 L914.7,430.1 L914.7,431.7Z" fill="#0a0a0a"/>
<path d="M924.7,431.7 L924.7,429.3 L925.7,429.6 L926.7,428.9 L927.7,428.8 L928.7,429.7 L929.7,429.1 L930.7,428.8 L931.7,428.8 L932.7,429 L933.7,429.6 L934.7,429.1 L935.7,429.4 L936.7,429.1 L937.7,429.3 L938.7,429.5 L939.7,429.1 L939.7,431.7Z" fill="#0a0a0a"/>
<path d="M945.7,431.7 L945.7,428.4 L946.7,425.7 L947.7,424.9 L948.7,427.7 L948.7,431.7Z" fill="#0a0a0a"/>
<path d="M961.7,431.7 L961.7,430 L962.7,429.2 L963.7,429.2 L964.7,428 L965.7,428.3 L966.7,428.2 L967.7,427.4 L968.7,427.2 L969.7,427.5 L970.7,427.5 L971.7,428.2 L972.7,428.2 L973.7,427.9 L974.7,428.7 L975.7,428.4 L976.7,428.8 L977.7,428.4 L978.7,428.7 L979.7,428.6 L980.7,428.9 L981.7,428.7 L982.7,428.7 L983.7,428.6 L984.7,428.4 L985.7,428.4 L986.7,428 L987.7,428.3 L988.7,428.6 L989.7,428.9 L990.7,429 L991.7,429.2 L991.7,431.7Z" fill="#0a0a0a"/>
<path d="M997.7,431.7 L997.7,429.6 L998.7,429 L999.7,429.1 L999.7,431.7Z" fill="#0a0a0a"/>
<path d="M1013.7,431.7 L1013.7,429.3 L1014.7,427.9 L1015.7,429.2 L1016.7,429.9 L1016.7,431.7Z" fill="#0a0a0a"/>
<line x1="690.7" y1="463.9" x2="1040.6" y2="463.9" stroke="#0a0a0a" stroke-width="1.3" stroke-opacity="0.45"/>
<path d="M691.7,464.6 L691.7,463.2 L692.7,463.4 L693.7,463.4 L694.7,462.7 L695.7,463 L696.7,462.9 L697.7,463 L698.7,463.2 L699.7,462.9 L700.7,463 L701.7,462.8 L702.7,462.9 L703.7,462.8 L704.7,463.2 L705.7,463.4 L706.7,463.5 L707.7,462.9 L708.7,463.4 L709.7,462.9 L710.7,463 L711.7,463.5 L712.7,462.8 L713.7,463.6 L714.7,462.7 L715.7,462.8 L716.7,463.4 L717.7,462.9 L718.7,462.9 L719.7,463.5 L720.7,462.9 L721.7,463.5 L722.7,462.7 L723.7,462.9 L724.7,462.6 L725.7,463.5 L726.7,463.3 L727.7,463 L728.7,463 L729.7,463.4 L730.7,462.7 L731.7,462.8 L732.7,463.3 L733.7,463.5 L734.7,462.9 L735.7,463.2 L736.7,462.9 L737.7,463.1 L738.7,463.2 L739.7,463.6 L740.7,463.5 L741.7,463.1 L741.7,464.6Z" fill="#0a0a0a"/>
<path d="M748.7,464.6 L748.7,462.1 L749.7,461.7 L750.7,460.6 L751.7,460 L752.7,458.5 L753.7,456.9 L754.7,455.4 L755.7,455.1 L756.7,456.7 L757.7,458.2 L758.7,458.7 L759.7,459.7 L760.7,460.5 L761.7,461.5 L762.7,461.3 L763.7,462.1 L764.7,461.7 L765.7,462.3 L765.7,464.6Z" fill="#0a0a0a"/>
<path d="M776.7,464.6 L776.7,462.4 L777.7,462.5 L777.7,464.6Z" fill="#0a0a0a"/>
<path d="M787.7,464.6 L787.7,464 L788.7,462.7 L789.7,462.3 L789.7,464.6Z" fill="#0a0a0a"/>
<path d="M801.7,464.6 L801.7,462.8 L802.7,462.6 L803.7,462.2 L804.7,461.6 L805.7,461.4 L806.7,461 L807.7,460.2 L808.7,458.9 L809.7,458.9 L810.7,458.2 L811.7,456.9 L812.7,456.6 L813.7,455.2 L814.7,456.8 L815.7,457.2 L816.7,458.7 L817.7,458.6 L818.7,459 L819.7,459.3 L820.7,458.6 L821.7,457.4 L822.7,456.2 L823.7,454.8 L824.7,452.8 L825.7,451.9 L826.7,450.5 L827.7,451.6 L828.7,453.3 L829.7,454.5 L830.7,455.8 L831.7,456.5 L832.7,457.4 L833.7,456.8 L834.7,457.2 L835.7,455.8 L836.7,454.6 L837.7,453.9 L838.7,454.8 L839.7,456.2 L840.7,457.5 L841.7,459.3 L842.7,459.8 L843.7,460.3 L844.7,461.1 L845.7,461.7 L846.7,462.1 L846.7,464.6Z" fill="#0a0a0a"/>
<path d="M853.7,464.6 L853.7,460.7 L854.7,459.7 L855.7,459.1 L856.7,459.3 L857.7,458.6 L858.7,458.5 L859.7,458.7 L860.7,458.4 L861.7,458.2 L862.7,458.2 L863.7,458.9 L864.7,459.2 L865.7,458.7 L866.7,459.1 L867.7,459 L868.7,459.2 L869.7,460.1 L870.7,460.3 L871.7,461.1 L872.7,461.1 L873.7,461.5 L874.7,462 L875.7,461.8 L876.7,461.8 L877.7,462.3 L878.7,462.4 L879.7,462.1 L880.7,462.4 L881.7,461.9 L882.7,461.4 L883.7,461.4 L884.7,462.1 L885.7,461.3 L886.7,461.4 L887.7,461.4 L888.7,462.1 L889.7,461.3 L890.7,461.9 L891.7,460.7 L892.7,460.4 L893.7,459.6 L894.7,459.1 L895.7,457 L896.7,456.2 L897.7,456.1 L898.7,457.4 L899.7,458.8 L900.7,459.3 L901.7,458.7 L902.7,458.2 L903.7,456.4 L904.7,455.9 L905.7,455.2 L906.7,454.9 L907.7,455.7 L908.7,456.7 L909.7,457.4 L910.7,457.6 L911.7,458 L912.7,458.4 L913.7,458.6 L914.7,458.5 L915.7,458.4 L916.7,458.9 L917.7,458.7 L918.7,458.1 L919.7,457.6 L920.7,457.4 L921.7,459.4 L922.7,462.2 L922.7,464.6Z" fill="#0a0a0a"/>
<path d="M928.7,464.6 L928.7,462.9 L929.7,463.5 L930.7,463.2 L931.7,463.5 L932.7,462.8 L933.7,462.6 L934.7,462.9 L935.7,462.8 L936.7,463.2 L937.7,462.8 L938.7,464 L938.7,464.6Z" fill="#0a0a0a"/>
<path d="M948.7,464.6 L948.7,462.8 L949.7,462.1 L950.7,461.6 L951.7,460.6 L952.7,461.1 L953.7,461.6 L954.7,462.2 L955.7,462 L955.7,464.6Z" fill="#0a0a0a"/>
<path d="M966.7,464.6 L966.7,462.4 L967.7,461.1 L968.7,460.9 L969.7,459.6 L970.7,460.2 L971.7,460 L972.7,460.4 L973.7,461 L974.7,461.3 L975.7,460.9 L976.7,460.7 L977.7,460.5 L978.7,461.1 L979.7,460.3 L980.7,459.4 L981.7,458.5 L982.7,457.3 L983.7,455.1 L984.7,455.7 L985.7,456.6 L986.7,457.1 L987.7,458.4 L988.7,459.2 L989.7,459.3 L990.7,459.9 L991.7,460.7 L992.7,460.5 L993.7,460.3 L994.7,461.1 L995.7,460.6 L996.7,460.7 L997.7,461.1 L998.7,461.4 L999.7,460.8 L1000.7,461.1 L1001.7,461.1 L1002.7,460.4 L1003.7,461 L1004.7,461.1 L1005.7,460.3 L1006.7,460.3 L1007.7,461.1 L1008.7,461.2 L1009.7,461.2 L1010.7,461.2 L1011.7,462.1 L1012.7,461.3 L1013.7,461.6 L1014.7,460.8 L1015.7,461.2 L1016.7,460.5 L1017.7,460.9 L1018.7,460.6 L1019.7,461.1 L1020.7,461.2 L1021.7,461.5 L1022.7,461.8 L1023.7,462.3 L1024.7,462.4 L1025.7,463.5 L1025.7,464.6Z" fill="#0a0a0a"/>
<path d="M1033.7,464.6 L1033.7,462.5 L1034.7,462.1 L1035.7,462.2 L1036.7,462.5 L1037.7,462.1 L1038.7,462.4 L1038.7,464.6Z" fill="#0a0a0a"/>
<line x1="690.7" y1="498.2" x2="1040.6" y2="498.2" stroke="#ff2a1a" stroke-width="1.3" stroke-opacity="0.45"/>
<path d="M691.7,498.9 L691.7,497.2 L692.7,497.8 L693.7,497.5 L694.7,497.5 L695.7,497 L696.7,497 L697.7,496.8 L698.7,497.5 L699.7,497.2 L700.7,497.5 L701.7,497.3 L702.7,497 L703.7,497.4 L704.7,497.2 L705.7,496.4 L706.7,496.1 L707.7,496.1 L708.7,495.3 L709.7,495.6 L710.7,496.9 L711.7,496.6 L712.7,496.7 L713.7,497.1 L714.7,497.2 L715.7,496.4 L716.7,497.1 L717.7,497.3 L718.7,497.3 L719.7,496.6 L720.7,496.8 L721.7,496.3 L722.7,496.2 L723.7,496.1 L724.7,495.4 L725.7,496.2 L726.7,496.1 L727.7,496 L728.7,496.3 L729.7,496.2 L730.7,496.6 L731.7,496.6 L732.7,497.3 L733.7,497 L734.7,496.7 L735.7,496.8 L736.7,496.5 L737.7,496.4 L738.7,496.2 L739.7,496.1 L740.7,496.6 L741.7,496.8 L742.7,497.2 L743.7,497.2 L744.7,496.6 L745.7,496.9 L746.7,497 L747.7,497.5 L748.7,496.9 L749.7,497.5 L750.7,497.4 L751.7,496.8 L752.7,497.2 L753.7,497.3 L754.7,497.2 L755.7,497 L756.7,497 L757.7,497.5 L758.7,497.7 L759.7,497.4 L760.7,497.4 L761.7,497.4 L762.7,496.7 L763.7,496.7 L764.7,497.2 L765.7,496.8 L766.7,497.1 L767.7,496.5 L768.7,496.7 L769.7,496.4 L770.7,495.9 L771.7,495.1 L772.7,494.8 L773.7,494.8 L774.7,495.3 L775.7,496.7 L776.7,497.2 L777.7,496.4 L778.7,496.9 L779.7,497.3 L780.7,497.4 L781.7,497.3 L782.7,496.8 L783.7,496.6 L784.7,497 L785.7,497.3 L786.7,497 L787.7,496.4 L788.7,496.8 L789.7,496.3 L790.7,496.4 L791.7,497.2 L792.7,496.4 L793.7,496.4 L794.7,496.4 L795.7,496.6 L796.7,496.3 L797.7,496.9 L798.7,496.6 L799.7,496.7 L800.7,496.2 L801.7,496.4 L802.7,497.1 L803.7,496.9 L804.7,497.2 L805.7,496.5 L806.7,496.5 L807.7,497.1 L808.7,496.8 L809.7,496.8 L810.7,497.2 L811.7,496.6 L812.7,496.9 L813.7,496.6 L814.7,496.9 L815.7,497.4 L816.7,497 L817.7,497.3 L818.7,496.3 L819.7,496.3 L820.7,496.3 L821.7,496.7 L822.7,496.9 L823.7,496 L824.7,495.7 L825.7,496.3 L826.7,495.6 L827.7,495.9 L828.7,495.7 L829.7,496.2 L830.7,497.2 L831.7,496.1 L832.7,495.4 L833.7,495.2 L834.7,495.1 L835.7,496.1 L836.7,496.8 L837.7,496.8 L838.7,496.6 L839.7,497 L840.7,496.8 L841.7,496 L842.7,496.3 L843.7,496.4 L844.7,496.3 L845.7,496.6 L846.7,496.4 L847.7,496.2 L848.7,495.9 L849.7,496.1 L850.7,496 L851.7,496 L852.7,495.3 L853.7,495.6 L854.7,494.8 L855.7,494.7 L856.7,495.4 L857.7,495.3 L858.7,495.2 L859.7,496 L860.7,496.4 L861.7,496 L862.7,496.7 L863.7,496.9 L864.7,496.6 L865.7,496.6 L866.7,497.2 L867.7,497.3 L868.7,497 L869.7,497 L870.7,496.9 L871.7,496.7 L872.7,496.7 L873.7,496.4 L874.7,497.3 L875.7,497 L876.7,497.1 L877.7,496.5 L878.7,497.2 L879.7,497.1 L880.7,496.8 L881.7,496.7 L882.7,496.8 L883.7,496.7 L884.7,495.9 L885.7,496.3 L886.7,495.8 L887.7,496 L888.7,496.4 L889.7,495.2 L890.7,495 L891.7,494.5 L892.7,494.2 L893.7,494 L894.7,494.3 L895.7,493.5 L896.7,493.3 L897.7,492.6 L898.7,492.4 L899.7,492.4 L900.7,492.3 L901.7,493.6 L902.7,493.6 L903.7,493.9 L904.7,494 L905.7,493.4 L906.7,493.4 L907.7,493.8 L908.7,493.7 L909.7,494.2 L910.7,494.1 L911.7,494.2 L912.7,495.3 L913.7,496.1 L914.7,496.6 L915.7,497.3 L916.7,496.8 L917.7,496.9 L918.7,496.5 L919.7,497.2 L920.7,496.4 L921.7,497.3 L922.7,497.2 L923.7,496.8 L924.7,496.7 L925.7,497.2 L926.7,497.3 L927.7,496.5 L928.7,497.2 L929.7,496.8 L930.7,496.8 L931.7,497 L932.7,496.8 L933.7,496.9 L934.7,496.5 L935.7,497.2 L936.7,496.7 L937.7,497.2 L938.7,497 L939.7,496.7 L940.7,497.1 L941.7,497.1 L942.7,496.6 L943.7,497.3 L944.7,496.9 L945.7,496.4 L946.7,496.4 L947.7,497.3 L948.7,497.2 L949.7,497.1 L950.7,496.5 L951.7,496.5 L952.7,496.5 L953.7,497 L954.7,497.2 L955.7,496.6 L956.7,496.7 L957.7,496.8 L958.7,496.4 L959.7,496.7 L960.7,497.4 L961.7,496.6 L962.7,497.1 L963.7,496.7 L964.7,496.5 L965.7,497.3 L966.7,497.3 L967.7,497.3 L968.7,496.8 L969.7,497.1 L970.7,496.8 L971.7,496.7 L972.7,497.2 L973.7,496.8 L974.7,497.1 L975.7,496.9 L976.7,496.5 L977.7,496.6 L978.7,497 L979.7,496.2 L980.7,495.8 L981.7,495.6 L982.7,494 L983.7,493.3 L984.7,492.8 L985.7,491.5 L986.7,490.8 L987.7,492 L988.7,494.2 L989.7,495.9 L990.7,495.7 L991.7,495.9 L992.7,496.5 L993.7,496.5 L994.7,496.8 L995.7,497.3 L996.7,497.3 L997.7,497.1 L998.7,496.5 L999.7,496.6 L1000.7,496.5 L1001.7,496.5 L1002.7,497.2 L1003.7,497.2 L1004.7,497.3 L1005.7,496.6 L1006.7,496.3 L1007.7,496.6 L1008.7,496.2 L1009.7,496.5 L1010.7,495.5 L1011.7,495.4 L1012.7,495.1 L1013.7,495.1 L1014.7,495.4 L1015.7,496.6 L1016.7,496.3 L1017.7,497.1 L1018.7,496.5 L1019.7,496.6 L1020.7,496.5 L1021.7,496.5 L1022.7,495.9 L1023.7,494.3 L1024.7,493.9 L1025.7,492 L1026.7,491.2 L1027.7,493.2 L1028.7,494 L1029.7,495.8 L1030.7,497.1 L1031.7,496.7 L1032.7,497.3 L1033.7,497.6 L1034.7,497.4 L1035.7,497.4 L1036.7,496.9 L1037.7,496.8 L1038.7,497.6 L1038.7,498.9Z" fill="#ff2a1a"/>
<line x1="690.7" y1="531.1" x2="1040.6" y2="531.1" stroke="#ff2a1a" stroke-width="1.3" stroke-opacity="0.45"/>
<path d="M690.7,531.8 L690.7,531 L691.7,530.3 L692.7,529.6 L693.7,530.2 L694.7,529.8 L695.7,529.6 L696.7,529.5 L697.7,529.8 L698.7,529.8 L699.7,530.3 L700.7,529.9 L701.7,529.9 L702.7,529.4 L703.7,529.8 L704.7,529.5 L705.7,529.9 L706.7,530.1 L707.7,529.4 L708.7,529.5 L709.7,529.9 L710.7,530.2 L711.7,529.8 L712.7,529.8 L713.7,529.5 L714.7,529.7 L715.7,529.8 L716.7,529.7 L717.7,529.9 L718.7,530.3 L719.7,530.2 L720.7,529.4 L721.7,529.5 L722.7,530 L723.7,529.4 L724.7,529.8 L725.7,530.2 L726.7,529.4 L727.7,529.6 L728.7,529.3 L729.7,529.5 L730.7,530.1 L731.7,529.5 L732.7,529.3 L733.7,529.2 L734.7,529.7 L735.7,529.5 L736.7,529.3 L737.7,529.8 L738.7,529.1 L739.7,529.1 L740.7,529.8 L741.7,529.3 L742.7,529.5 L743.7,529.6 L744.7,529.2 L745.7,528.9 L746.7,529.3 L747.7,529.8 L748.7,529.4 L749.7,529.2 L750.7,529 L751.7,529.3 L752.7,530 L753.7,529.1 L754.7,529.5 L755.7,530 L756.7,530 L757.7,530 L758.7,529.5 L759.7,530 L760.7,529.4 L761.7,530.1 L762.7,529.7 L763.7,529.8 L764.7,530.2 L765.7,530.3 L766.7,529.3 L767.7,529.2 L768.7,530.1 L769.7,529.4 L770.7,529.1 L771.7,529.2 L772.7,529.2 L773.7,529.7 L774.7,529.3 L775.7,529.5 L776.7,529 L777.7,529.3 L778.7,529.1 L779.7,529.1 L780.7,529.5 L781.7,529.1 L782.7,529.7 L783.7,529.6 L784.7,528.9 L785.7,529.4 L786.7,529.2 L787.7,529.3 L788.7,529.7 L789.7,529.4 L790.7,529.1 L791.7,529.7 L792.7,529.7 L793.7,529.9 L794.7,530 L795.7,529.3 L796.7,529.5 L797.7,529.3 L798.7,529.6 L799.7,529.3 L800.7,530 L801.7,529.9 L802.7,529.7 L803.7,529.4 L804.7,528.7 L805.7,529.3 L806.7,529 L807.7,529.2 L808.7,529.2 L809.7,528.5 L810.7,528.3 L811.7,528.3 L812.7,528.3 L813.7,528.7 L814.7,529 L815.7,529.7 L816.7,529.8 L817.7,529.7 L818.7,528.8 L819.7,529.1 L820.7,529 L821.7,528.1 L822.7,528.4 L823.7,527.6 L824.7,527.6 L825.7,526.9 L826.7,527.8 L827.7,528 L828.7,528.5 L829.7,529 L830.7,529.2 L831.7,528.8 L832.7,528.7 L833.7,529.2 L834.7,529.4 L835.7,529.3 L836.7,528.9 L837.7,529.3 L838.7,529 L839.7,529.6 L840.7,529 L841.7,529.6 L842.7,529.6 L843.7,529 L844.7,529.2 L845.7,528.9 L846.7,529.1 L847.7,528.6 L848.7,528.8 L849.7,528.5 L850.7,528.4 L851.7,528 L852.7,528.6 L853.7,529.1 L854.7,529.2 L855.7,529.6 L856.7,529.1 L857.7,529 L858.7,528.6 L859.7,528.6 L860.7,527.6 L861.7,528 L862.7,528.5 L863.7,529.4 L864.7,530.3 L865.7,530.2 L866.7,529.4 L867.7,529.6 L868.7,529.4 L869.7,529.4 L870.7,530.1 L871.7,529.3 L872.7,529.7 L873.7,529.6 L874.7,529.8 L875.7,530 L876.7,529.6 L877.7,529.5 L878.7,529.5 L879.7,529.4 L880.7,529.2 L881.7,529.2 L882.7,529.2 L883.7,528 L884.7,527.7 L885.7,526.9 L886.7,525.7 L887.7,524.1 L888.7,522.4 L889.7,521 L890.7,519.2 L891.7,518.4 L892.7,518.9 L893.7,520.3 L894.7,521 L895.7,516.8 L896.7,509.8 L897.7,507.8 L898.7,512.5 L899.7,516.5 L900.7,515.8 L901.7,515.3 L902.7,515.2 L903.7,517.1 L904.7,518.6 L905.7,521.3 L906.7,523.4 L907.7,524.2 L908.7,525.7 L909.7,526.3 L910.7,526.7 L911.7,528.3 L912.7,529 L913.7,528.5 L914.7,528.7 L915.7,529.1 L916.7,529.6 L917.7,529 L918.7,529.6 L919.7,529.2 L920.7,529.9 L921.7,530.1 L922.7,529.6 L923.7,529.9 L924.7,529.9 L925.7,529.9 L926.7,529.8 L927.7,529.8 L928.7,529.7 L929.7,530.2 L930.7,529.6 L931.7,529.8 L932.7,529.5 L933.7,530 L934.7,529.6 L935.7,530.1 L936.7,529.6 L937.7,529.6 L938.7,529.8 L939.7,529.8 L940.7,529.3 L941.7,529.9 L942.7,530.2 L943.7,530 L944.7,530.3 L945.7,529.4 L946.7,529.5 L947.7,530.1 L948.7,529.7 L949.7,530.1 L950.7,529.4 L951.7,529.9 L952.7,530.2 L953.7,529.7 L954.7,530.2 L955.7,529.4 L956.7,529.4 L957.7,529.7 L958.7,530.1 L959.7,529.5 L960.7,530.3 L961.7,530.2 L962.7,529.9 L963.7,530.1 L964.7,529.2 L965.7,529.3 L966.7,529 L967.7,529.1 L968.7,529.4 L969.7,529.3 L970.7,528.8 L971.7,528.6 L972.7,528.8 L973.7,529.2 L974.7,528.9 L975.7,529.5 L976.7,529.4 L977.7,529.4 L978.7,529.5 L979.7,529.4 L980.7,529 L981.7,529.1 L982.7,528.6 L983.7,527.9 L984.7,528 L985.7,528.1 L986.7,527.1 L987.7,528 L988.7,528.6 L989.7,528.6 L990.7,528.9 L991.7,530.1 L992.7,529.8 L993.7,529.8 L994.7,530.1 L995.7,529.5 L996.7,529.9 L997.7,529.4 L998.7,529.6 L999.7,529.5 L1000.7,529.8 L1001.7,529.2 L1002.7,529.9 L1003.7,529.6 L1004.7,529.7 L1005.7,529.7 L1006.7,529.8 L1007.7,529.3 L1008.7,529.8 L1009.7,529.8 L1010.7,529.5 L1011.7,529.3 L1012.7,529.8 L1013.7,529.4 L1014.7,529.5 L1015.7,529.2 L1016.7,529.3 L1017.7,529.2 L1018.7,529.9 L1019.7,529.4 L1020.7,529.9 L1021.7,530 L1022.7,529.9 L1023.7,530.3 L1024.7,529.6 L1025.7,530.2 L1026.7,529.7 L1027.7,530.2 L1028.7,529.9 L1029.7,530 L1030.7,529.4 L1031.7,530 L1032.7,529.9 L1033.7,530 L1034.7,530.2 L1035.7,529.7 L1036.7,530 L1037.7,530 L1038.7,530 L1038.7,531.8Z" fill="#ff2a1a"/>
<line x1="690.7" y1="565.3" x2="1040.6" y2="565.3" stroke="#1a14d2" stroke-width="1.3" stroke-opacity="0.45"/>
<path d="M802.7,566 L802.7,565.2 L803.7,564.7 L804.7,564.4 L805.7,564 L806.7,564.7 L807.7,564.6 L808.7,564.7 L809.7,564.6 L810.7,564.6 L811.7,564.4 L812.7,564 L813.7,563.5 L814.7,563.8 L815.7,564 L816.7,563.9 L817.7,563.6 L818.7,563.9 L819.7,564.1 L820.7,563.3 L821.7,563.5 L822.7,563.9 L823.7,563.9 L824.7,564 L825.7,563.1 L826.7,564 L827.7,563.6 L828.7,563.3 L829.7,564.3 L830.7,564 L831.7,563.9 L832.7,563.5 L833.7,564.3 L834.7,564.2 L835.7,564.1 L836.7,564.3 L837.7,563.6 L838.7,563.4 L839.7,563.8 L840.7,564.1 L841.7,563.4 L842.7,563.3 L843.7,563.3 L844.7,563.6 L845.7,563 L846.7,563.1 L847.7,563 L848.7,563 L849.7,563.2 L850.7,562.9 L851.7,562.5 L852.7,562.5 L853.7,562.8 L854.7,562.2 L855.7,562.1 L856.7,562.8 L857.7,562.5 L858.7,562.3 L859.7,562.4 L860.7,561.6 L861.7,561.5 L862.7,561.5 L863.7,561 L864.7,561.6 L865.7,561.8 L866.7,561.9 L867.7,562 L868.7,562.1 L869.7,562.9 L870.7,564.1 L871.7,564.3 L872.7,565.1 L873.7,564.8 L874.7,564.2 L875.7,562.9 L876.7,561.8 L877.7,560.9 L878.7,560.5 L879.7,560.1 L880.7,559.1 L881.7,558.2 L882.7,557 L883.7,555.2 L884.7,553.3 L885.7,551.8 L886.7,553.5 L887.7,555.3 L888.7,557.7 L889.7,560.6 L890.7,561 L891.7,562.4 L892.7,563.3 L893.7,561.2 L894.7,558.4 L895.7,556.4 L896.7,555.5 L897.7,555.1 L898.7,554.8 L899.7,554.3 L900.7,549.8 L901.7,544.6 L902.7,539.2 L903.7,542.4 L904.7,545.6 L905.7,548.2 L906.7,551.1 L907.7,554.2 L908.7,556.4 L909.7,558.7 L910.7,559.5 L911.7,561.4 L912.7,561.6 L913.7,562.7 L914.7,564.2 L915.7,564.2 L916.7,564.2 L917.7,564.8 L918.7,564.3 L919.7,564.4 L920.7,564.9 L921.7,564.7 L922.7,564.6 L923.7,564.8 L924.7,563.8 L925.7,564.4 L926.7,564.4 L927.7,563.9 L928.7,563.9 L929.7,564 L930.7,563.9 L931.7,563.6 L932.7,563.1 L933.7,564 L934.7,563.3 L935.7,563.4 L936.7,563.7 L937.7,563.7 L938.7,564.2 L939.7,563.8 L940.7,564.1 L941.7,564.2 L941.7,566Z" fill="#1a14d2"/>
<text x="691.83" y="412.04" font-size="11.23" fill="#333" textLength="46.85" lengthAdjust="spacingAndGlyphs">[0-2.42]</text>
<text x="691.83" y="444.74" font-size="11.23" fill="#333" textLength="46.85" lengthAdjust="spacingAndGlyphs">[0-2.42]</text>
<text x="691.83" y="477.64" font-size="11.23" fill="#333" textLength="46.85" lengthAdjust="spacingAndGlyphs">[0-1.43]</text>
<text x="691.83" y="511.94" font-size="11.23" fill="#333" textLength="46.85" lengthAdjust="spacingAndGlyphs">[0-1.43]</text>
<text x="691.83" y="544.84" font-size="11.23" fill="#333" textLength="46.85" lengthAdjust="spacingAndGlyphs">[0-3.18]</text>
<line x1="690" y1="575.8" x2="1041" y2="575.8" stroke="#c4c4c4" stroke-width="3"/>
<line x1="690" y1="583" x2="879" y2="583" stroke="#5a64e0" stroke-width="1.3" stroke-dasharray="3 3" stroke-opacity="0.7"/>
<rect x="879" y="580.8" width="11.4" height="4.5" fill="#1a14d2"/>
<path d="M890.4,585 L890.4,602.4 L806,602.4" fill="none" stroke="#222" stroke-width="1.3"/><circle cx="806" cy="602.4" r="2" fill="#111"/>
<text x="917.98" y="603.17" font-size="13.38" fill="#333" textLength="44.50" lengthAdjust="spacingAndGlyphs">NDRG1</text>
<rect x="874" y="399.3" width="44.4" height="170.2" fill="rgba(94,225,94,0.27)" stroke="#7aa58a" stroke-width="1"/>
<rect x="688.7" y="398.5" width="353.9" height="216.8" fill="none" stroke="#34496b" stroke-width="2" rx="1.5"/>
<text x="581.04" y="428.70" font-size="13.62" fill="#222" textLength="20.12" lengthAdjust="spacingAndGlyphs">HA</text>
<text x="566.89" y="448.27" font-size="14.44" fill="#222" textLength="51.98" lengthAdjust="spacingAndGlyphs">(MED1)</text>
<text x="572.58" y="506.53" font-size="16.73" fill="#222" textLength="40.38" lengthAdjust="spacingAndGlyphs">Pol II</text>
<text x="634.23" y="421.66" font-size="14.01" fill="#222" textLength="42.99" lengthAdjust="spacingAndGlyphs">WT/KO</text>
<text x="632.06" y="455.66" font-size="13.88" fill="#222" textLength="47.16" lengthAdjust="spacingAndGlyphs">6KR/KO</text>
<text x="634.23" y="489.75" font-size="14.56" fill="#222" textLength="42.99" lengthAdjust="spacingAndGlyphs">WT/KO</text>
<text x="632.06" y="523.46" font-size="14.01" fill="#222" textLength="47.16" lengthAdjust="spacingAndGlyphs">6KR/KO</text>
<text x="625.44" y="556.29" font-size="10.99" fill="#222" textLength="59.19" lengthAdjust="spacingAndGlyphs">H3K4me3</text>
<line x1="625.4" y1="407" x2="625.4" y2="457.9" stroke="#666" stroke-width="1.6"/>
<line x1="625.4" y1="476" x2="625.4" y2="527.3" stroke="#666" stroke-width="1.6"/>
<line x1="937.6" y1="384.2" x2="1029" y2="384.2" stroke="#555" stroke-width="1.6"/><text x="971.50" y="376.38" font-size="11.70" font-weight="bold" fill="#111" textLength="26.75" lengthAdjust="spacingAndGlyphs">5 kb</text>
<rect x="1256.4" y="255.3" width="137.1" height="28.2" fill="#ededed" rx="2.5"/>
<g filter="url(#blur15)"><rect x="1265.2" y="258" width="26" height="23" fill="#000" fill-opacity="0.10"/><rect x="1295" y="258" width="26" height="23" fill="#000" fill-opacity="0.14"/><rect x="1326.6" y="258" width="26" height="23" fill="#000" fill-opacity="0.10"/><rect x="1359.3" y="258" width="26" height="23" fill="#000" fill-opacity="0.12"/><rect x="1295" y="268.9" width="26" height="4.5" rx="2.2" fill="#000" fill-opacity="0.55"/><rect x="1326.6" y="269.2" width="26" height="4" rx="2" fill="#000" fill-opacity="0.38"/><rect x="1359.3" y="268.9" width="26" height="4.5" rx="2.2" fill="#000" fill-opacity="0.50"/></g>
<rect x="1256.4" y="255.3" width="137.1" height="28.2" fill="none" stroke="#1a1a1a" stroke-width="1.7" rx="2"/>
<rect x="1256.4" y="291" width="137.1" height="27.7" fill="#efefef" rx="2.5"/>
<g filter="url(#blur15)"><rect x="1265.2" y="293" width="26" height="23" fill="#000" fill-opacity="0.08"/><rect x="1295" y="293" width="26" height="23" fill="#000" fill-opacity="0.10"/><rect x="1326.6" y="293" width="26" height="23" fill="#000" fill-opacity="0.07"/><rect x="1359.3" y="293" width="26" height="23" fill="#000" fill-opacity="0.05"/><rect x="1295" y="304.1" width="26" height="3.5" rx="1.8" fill="#000" fill-opacity="0.40"/><rect x="1326.6" y="304.1" width="26" height="3.5" rx="1.8" fill="#000" fill-opacity="0.28"/><rect x="1359.3" y="304.1" width="26" height="3.5" rx="1.8" fill="#000" fill-opacity="0.12"/></g>
<rect x="1256.4" y="291" width="137.1" height="27.7" fill="none" stroke="#1a1a1a" stroke-width="1.7" rx="2"/>
<rect x="1256.4" y="325.6" width="137.1" height="28.8" fill="#ededed" rx="2.5"/>
<g filter="url(#blur15)"><rect x="1265.2" y="328" width="26" height="24" fill="#000" fill-opacity="0.70"/><rect x="1295" y="328" width="26" height="24" fill="#000" fill-opacity="0.50"/><rect x="1326.6" y="328" width="26" height="24" fill="#000" fill-opacity="0.42"/><rect x="1359.3" y="328" width="26" height="24" fill="#000" fill-opacity="0.34"/><rect x="1265.2" y="343.5" width="26" height="7" rx="3.5" fill="#000" fill-opacity="0.50"/><rect x="1295" y="333.5" width="26" height="7" rx="3.5" fill="#000" fill-opacity="0.20"/><rect x="1326.6" y="333.5" width="26" height="7" rx="3.5" fill="#000" fill-opacity="0.15"/><rect x="1359.3" y="333.5" width="26" height="7" rx="3.5" fill="#000" fill-opacity="0.12"/></g>
<rect x="1256.4" y="325.6" width="137.1" height="28.8" fill="none" stroke="#1a1a1a" stroke-width="1.7" rx="2"/>
<rect x="1256.4" y="361.3" width="137.1" height="27.7" fill="#ededed" rx="2.5"/>
<g filter="url(#blur15)"><rect x="1265.2" y="364" width="26" height="23" fill="#000" fill-opacity="0.22"/><rect x="1295" y="364" width="26" height="23" fill="#000" fill-opacity="0.30"/><rect x="1326.6" y="364" width="26" height="23" fill="#000" fill-opacity="0.28"/><rect x="1359.3" y="364" width="26" height="23" fill="#000" fill-opacity="0.28"/><rect x="1295" y="374.2" width="26" height="3.5" rx="1.8" fill="#000" fill-opacity="0.55"/><rect x="1326.6" y="374.2" width="26" height="3.5" rx="1.8" fill="#000" fill-opacity="0.60"/><rect x="1359.3" y="373.2" width="26" height="3.5" rx="1.8" fill="#000" fill-opacity="0.60"/></g>
<rect x="1256.4" y="361.3" width="137.1" height="27.7" fill="none" stroke="#1a1a1a" stroke-width="1.7" rx="2"/>
<rect x="1256.4" y="396" width="137.1" height="28" fill="#f4f4f4" rx="2.5"/>
<g filter="url(#blur15)"><rect x="1295" y="400" width="26" height="20" fill="#000" fill-opacity="0.05"/><rect x="1326.6" y="400" width="26" height="20" fill="#000" fill-opacity="0.05"/><rect x="1359.3" y="400" width="26" height="20" fill="#000" fill-opacity="0.05"/><rect x="1295" y="409.3" width="26" height="5" rx="2.5" fill="#000" fill-opacity="0.85"/><rect x="1326.6" y="409.3" width="26" height="5" rx="2.5" fill="#000" fill-opacity="0.95"/><rect x="1359.3" y="409.3" width="26" height="5" rx="2.5" fill="#000" fill-opacity="0.85"/></g>
<rect x="1256.4" y="396" width="137.1" height="28" fill="none" stroke="#1a1a1a" stroke-width="1.7" rx="2"/>
<rect x="1256.4" y="431.2" width="137.1" height="28.5" fill="#f4f4f4" rx="2.5"/>
<g filter="url(#blur15)"><rect x="1295" y="446" width="26" height="8" fill="#000" fill-opacity="0.30"/><rect x="1326.6" y="446" width="26" height="8" fill="#000" fill-opacity="0.28"/><rect x="1359.3" y="446" width="26" height="8" fill="#000" fill-opacity="0.30"/><rect x="1295" y="440" width="26" height="5" rx="2.5" fill="#000" fill-opacity="1.00"/><rect x="1326.6" y="440.2" width="26" height="4.5" rx="2.2" fill="#000" fill-opacity="0.90"/><rect x="1359.3" y="439.8" width="26" height="4.5" rx="2.2" fill="#000" fill-opacity="0.85"/></g>
<rect x="1256.4" y="431.2" width="137.1" height="28.5" fill="none" stroke="#1a1a1a" stroke-width="1.7" rx="2"/>
<text x="1203.26" y="271.20" font-size="9.90" font-weight="bold" fill="#111" textLength="31.77" lengthAdjust="spacingAndGlyphs">MED1</text>
<text x="1200.65" y="306.80" font-size="9.90" font-weight="bold" fill="#111" textLength="38.35" lengthAdjust="spacingAndGlyphs">MED26</text>
<text x="1200.65" y="342.50" font-size="9.90" font-weight="bold" fill="#111" textLength="38.23" lengthAdjust="spacingAndGlyphs">MED25</text>
<text x="1200.65" y="378.10" font-size="9.90" font-weight="bold" fill="#111" textLength="38.40" lengthAdjust="spacingAndGlyphs">MED12</text>
<text x="1203.23" y="412.80" font-size="9.90" font-weight="bold" fill="#111" textLength="32.82" lengthAdjust="spacingAndGlyphs">MED6</text>
<text x="1200.65" y="447.40" font-size="9.90" font-weight="bold" fill="#111" textLength="38.40" lengthAdjust="spacingAndGlyphs">MED17</text>
<line x1="1183.6" y1="255.3" x2="1183.6" y2="462.9" stroke="#444" stroke-width="1.5"/>
<text x="1145.82" y="346.60" font-size="8.60" font-weight="bold" fill="#111" textLength="9.89" lengthAdjust="spacingAndGlyphs">IP</text>
<text x="1131.96" y="361.60" font-size="10.20" font-weight="bold" fill="#111" textLength="38.20" lengthAdjust="spacingAndGlyphs">MED17</text>
<text x="1271.70" y="221.80" font-size="11.00" font-weight="bold" fill="#111" textLength="8.78" lengthAdjust="spacingAndGlyphs">IP</text>
<text x="1267.40" y="237.60" font-size="11.00" font-weight="bold" fill="#111" textLength="19.60" lengthAdjust="spacingAndGlyphs">ctrl</text>
<text x="1301.00" y="221.80" font-size="11.00" font-weight="bold" fill="#111" textLength="17.91" lengthAdjust="spacingAndGlyphs">WT</text>
<text x="1298.87" y="237.60" font-size="11.00" font-weight="bold" fill="#111" textLength="23.50" lengthAdjust="spacingAndGlyphs">/KO</text>
<text x="1330.29" y="221.80" font-size="11.00" font-weight="bold" fill="#111" textLength="23.45" lengthAdjust="spacingAndGlyphs">6KR</text>
<text x="1330.57" y="237.60" font-size="11.00" font-weight="bold" fill="#111" textLength="23.50" lengthAdjust="spacingAndGlyphs">/KO</text>
<text x="1361.37" y="221.80" font-size="11.00" font-weight="bold" fill="#111" textLength="25.23" lengthAdjust="spacingAndGlyphs">6KQ</text>
<text x="1362.26" y="237.60" font-size="11.00" font-weight="bold" fill="#111" textLength="24.43" lengthAdjust="spacingAndGlyphs">/KO</text>
<text x="1406.93" y="235.40" font-size="14.76" fill="#222" textLength="39.62" lengthAdjust="spacingAndGlyphs">(kDa)</text>
<line x1="1397" y1="257.3" x2="1416" y2="257.3" stroke="#555" stroke-width="1"/><text x="1416.24" y="261.57" font-size="12.68" fill="#222" textLength="25.21" lengthAdjust="spacingAndGlyphs">250</text>
<line x1="1397" y1="301.9" x2="1416" y2="301.9" stroke="#555" stroke-width="1"/><text x="1420.31" y="306.17" font-size="12.86" fill="#222" textLength="15.27" lengthAdjust="spacingAndGlyphs">75</text>
<line x1="1397" y1="345.4" x2="1416" y2="345.4" stroke="#555" stroke-width="1"/><text x="1420.31" y="349.67" font-size="12.86" fill="#222" textLength="15.27" lengthAdjust="spacingAndGlyphs">75</text>
<line x1="1397" y1="378" x2="1416" y2="378" stroke="#555" stroke-width="1"/><text x="1416.24" y="382.27" font-size="12.68" fill="#222" textLength="25.21" lengthAdjust="spacingAndGlyphs">250</text>
<line x1="1397" y1="396.3" x2="1416" y2="396.3" stroke="#555" stroke-width="1"/><text x="1420.45" y="400.57" font-size="12.68" fill="#222" textLength="15.27" lengthAdjust="spacingAndGlyphs">37</text>
<line x1="1397" y1="451.8" x2="1416" y2="451.8" stroke="#555" stroke-width="1"/><text x="1420.31" y="456.07" font-size="12.86" fill="#222" textLength="15.27" lengthAdjust="spacingAndGlyphs">75</text>
<rect x="1608" y="246.7" width="136.6" height="28" fill="#efefef" rx="2.5"/>
<g filter="url(#blur15)"><rect x="1616.9" y="250" width="25" height="22" fill="#000" fill-opacity="0.05"/><rect x="1650.3" y="250" width="25" height="22" fill="#000" fill-opacity="0.05"/><rect x="1682.8" y="250" width="25" height="22" fill="#000" fill-opacity="0.05"/><rect x="1714.3" y="250" width="25" height="22" fill="#000" fill-opacity="0.05"/><rect x="1616.9" y="258.8" width="25" height="5" rx="2.5" fill="#000" fill-opacity="0.95"/><rect x="1650.3" y="258.5" width="25" height="5" rx="2.5" fill="#000" fill-opacity="0.95"/><rect x="1682.8" y="258.8" width="25" height="5" rx="2.5" fill="#000" fill-opacity="0.90"/><rect x="1714.3" y="259.2" width="25" height="4.5" rx="2.2" fill="#000" fill-opacity="0.62"/></g>
<rect x="1608" y="246.7" width="136.6" height="28" fill="none" stroke="#1a1a1a" stroke-width="1.7" rx="2"/>
<rect x="1608" y="281.2" width="136.6" height="27.9" fill="#ebebeb" rx="2.5"/>
<g filter="url(#blur15)"><rect x="1616.9" y="284" width="25" height="23" fill="#000" fill-opacity="0.06"/><rect x="1650.3" y="284" width="25" height="23" fill="#000" fill-opacity="0.06"/><rect x="1682.8" y="284" width="25" height="23" fill="#000" fill-opacity="0.06"/><rect x="1714.3" y="284" width="25" height="23" fill="#000" fill-opacity="0.06"/><rect x="1616.9" y="294.5" width="25" height="3" rx="1.5" fill="#000" fill-opacity="0.15"/><rect x="1650.3" y="294.5" width="25" height="3" rx="1.5" fill="#000" fill-opacity="0.20"/><rect x="1682.8" y="294.2" width="25" height="3.5" rx="1.8" fill="#000" fill-opacity="0.35"/><rect x="1714.3" y="294.2" width="25" height="3.5" rx="1.8" fill="#000" fill-opacity="0.30"/></g>
<rect x="1608" y="281.2" width="136.6" height="27.9" fill="none" stroke="#1a1a1a" stroke-width="1.7" rx="2"/>
<rect x="1608" y="316" width="136.6" height="27.6" fill="#ededed" rx="2.5"/>
<g filter="url(#blur15)"><rect x="1616.9" y="319" width="25" height="22" fill="#000" fill-opacity="0.12"/><rect x="1650.3" y="319" width="25" height="22" fill="#000" fill-opacity="0.12"/><rect x="1682.8" y="319" width="25" height="22" fill="#000" fill-opacity="0.12"/><rect x="1714.3" y="319" width="25" height="22" fill="#000" fill-opacity="0.12"/><rect x="1616.9" y="324.5" width="25" height="6" rx="3" fill="#000" fill-opacity="0.55"/><rect x="1650.3" y="324.5" width="25" height="6" rx="3" fill="#000" fill-opacity="0.65"/><rect x="1682.8" y="325.5" width="25" height="6" rx="3" fill="#000" fill-opacity="0.90"/><rect x="1714.3" y="325" width="25" height="6" rx="3" fill="#000" fill-opacity="0.80"/></g>
<rect x="1608" y="316" width="136.6" height="27.6" fill="none" stroke="#1a1a1a" stroke-width="1.7" rx="2"/>
<rect x="1608" y="350.5" width="136.6" height="28.2" fill="#ededed" rx="2.5"/>
<g filter="url(#blur15)"><rect x="1616.9" y="366" width="25" height="11" fill="#000" fill-opacity="0.28"/><rect x="1650.3" y="366" width="25" height="11" fill="#000" fill-opacity="0.28"/><rect x="1682.8" y="366" width="25" height="11" fill="#000" fill-opacity="0.28"/><rect x="1714.3" y="366" width="25" height="11" fill="#000" fill-opacity="0.28"/><rect x="1616.9" y="361.4" width="25" height="4.5" rx="2.2" fill="#000" fill-opacity="0.95"/><rect x="1650.3" y="361.8" width="25" height="4.5" rx="2.2" fill="#000" fill-opacity="0.95"/><rect x="1682.8" y="361.2" width="25" height="4.5" rx="2.2" fill="#000" fill-opacity="0.90"/><rect x="1714.3" y="362" width="25" height="4" rx="2" fill="#000" fill-opacity="0.75"/></g>
<rect x="1608" y="350.5" width="136.6" height="28.2" fill="none" stroke="#1a1a1a" stroke-width="1.7" rx="2"/>
<rect x="1608" y="385" width="136.6" height="28" fill="#ededed" rx="2.5"/>
<g filter="url(#blur15)"><rect x="1616.9" y="388" width="25" height="23" fill="#000" fill-opacity="0.06"/><rect x="1650.3" y="388" width="25" height="23" fill="#000" fill-opacity="0.06"/><rect x="1682.8" y="388" width="25" height="23" fill="#000" fill-opacity="0.06"/><rect x="1714.3" y="388" width="25" height="23" fill="#000" fill-opacity="0.06"/><rect x="1616.9" y="399.2" width="25" height="5" rx="2.5" fill="#000" fill-opacity="0.60"/><rect x="1650.3" y="399.2" width="25" height="5" rx="2.5" fill="#000" fill-opacity="0.55"/><rect x="1682.8" y="399.2" width="25" height="5" rx="2.5" fill="#000" fill-opacity="0.65"/><rect x="1714.3" y="399.5" width="25" height="5" rx="2.5" fill="#000" fill-opacity="0.55"/></g>
<rect x="1608" y="385" width="136.6" height="28" fill="none" stroke="#1a1a1a" stroke-width="1.7" rx="2"/>
<rect x="1608" y="419.4" width="136.6" height="28.2" fill="#ededed" rx="2.5"/>
<g filter="url(#blur15)"><rect x="1616.9" y="422" width="25" height="6" fill="#000" fill-opacity="0.08"/><rect x="1650.3" y="422" width="25" height="6" fill="#000" fill-opacity="0.08"/><rect x="1682.8" y="422" width="25" height="6" fill="#000" fill-opacity="0.08"/><rect x="1714.3" y="422" width="25" height="6" fill="#000" fill-opacity="0.08"/><rect x="1616.9" y="431.7" width="25" height="5" rx="2.5" fill="#000" fill-opacity="0.95"/><rect x="1650.3" y="431.7" width="25" height="5" rx="2.5" fill="#000" fill-opacity="0.90"/><rect x="1682.8" y="431.7" width="25" height="5" rx="2.5" fill="#000" fill-opacity="0.95"/><rect x="1714.3" y="432.2" width="25" height="4.5" rx="2.2" fill="#000" fill-opacity="0.55"/></g>
<rect x="1608" y="419.4" width="136.6" height="28.2" fill="none" stroke="#1a1a1a" stroke-width="1.7" rx="2"/>
<rect x="1608" y="454.5" width="136.6" height="27.9" fill="#efefef" rx="2.5"/>
<g filter="url(#blur15)"><rect x="1614.9" y="464.2" width="126.4" height="8" rx="4" fill="#000" fill-opacity="1.00"/></g>
<rect x="1608" y="454.5" width="136.6" height="27.9" fill="none" stroke="#1a1a1a" stroke-width="1.7" rx="2"/>
<text x="1548.89" y="263.30" font-size="9.90" font-weight="bold" fill="#111" textLength="30.53" lengthAdjust="spacingAndGlyphs">MED1</text>
<text x="1544.36" y="297.90" font-size="9.90" font-weight="bold" fill="#111" textLength="38.14" lengthAdjust="spacingAndGlyphs">MED26</text>
<text x="1544.36" y="332.80" font-size="9.90" font-weight="bold" fill="#111" textLength="38.02" lengthAdjust="spacingAndGlyphs">MED25</text>
<text x="1544.36" y="367.20" font-size="9.90" font-weight="bold" fill="#111" textLength="38.20" lengthAdjust="spacingAndGlyphs">MED12</text>
<text x="1547.86" y="402.70" font-size="9.90" font-weight="bold" fill="#111" textLength="31.68" lengthAdjust="spacingAndGlyphs">MED6</text>
<text x="1544.36" y="437.10" font-size="9.90" font-weight="bold" fill="#111" textLength="38.20" lengthAdjust="spacingAndGlyphs">MED17</text>
<text x="1538.46" y="472.60" font-size="9.90" font-weight="bold" fill="#111" textLength="47.22" lengthAdjust="spacingAndGlyphs">a-tubulin</text>
<line x1="1519.5" y1="245" x2="1519.5" y2="485.4" stroke="#444" stroke-width="1.5"/>
<text x="1470.63" y="368.00" font-size="9.60" font-weight="bold" fill="#111" textLength="28.93" lengthAdjust="spacingAndGlyphs">Input</text>
<text x="1624.72" y="214.70" font-size="11.00" font-weight="bold" fill="#111" textLength="9.89" lengthAdjust="spacingAndGlyphs">IP</text>
<text x="1619.95" y="229.50" font-size="11.00" font-weight="bold" fill="#111" textLength="21.22" lengthAdjust="spacingAndGlyphs">ctrl</text>
<text x="1654.00" y="214.70" font-size="11.00" font-weight="bold" fill="#111" textLength="18.82" lengthAdjust="spacingAndGlyphs">WT</text>
<text x="1651.87" y="229.50" font-size="11.00" font-weight="bold" fill="#111" textLength="23.39" lengthAdjust="spacingAndGlyphs">/KO</text>
<text x="1684.11" y="214.70" font-size="11.00" font-weight="bold" fill="#111" textLength="22.32" lengthAdjust="spacingAndGlyphs">6KR</text>
<text x="1684.37" y="229.50" font-size="11.00" font-weight="bold" fill="#111" textLength="23.29" lengthAdjust="spacingAndGlyphs">/KO</text>
<text x="1714.57" y="214.70" font-size="11.00" font-weight="bold" fill="#111" textLength="25.55" lengthAdjust="spacingAndGlyphs">6KQ</text>
<text x="1715.87" y="229.50" font-size="11.00" font-weight="bold" fill="#111" textLength="23.39" lengthAdjust="spacingAndGlyphs">/KO</text>
<text x="1760.33" y="226.30" font-size="14.76" fill="#222" textLength="39.41" lengthAdjust="spacingAndGlyphs">(kDa)</text>
<line x1="1745.5" y1="247.1" x2="1768" y2="247.1" stroke="#555" stroke-width="1"/><text x="1768.24" y="251.37" font-size="12.68" fill="#222" textLength="25.21" lengthAdjust="spacingAndGlyphs">250</text>
<line x1="1745.5" y1="290.4" x2="1768" y2="290.4" stroke="#555" stroke-width="1"/><text x="1772.31" y="294.67" font-size="12.86" fill="#222" textLength="15.27" lengthAdjust="spacingAndGlyphs">75</text>
<line x1="1745.5" y1="334.7" x2="1768" y2="334.7" stroke="#555" stroke-width="1"/><text x="1772.31" y="338.97" font-size="12.86" fill="#222" textLength="15.27" lengthAdjust="spacingAndGlyphs">75</text>
<line x1="1745.5" y1="368.2" x2="1768" y2="368.2" stroke="#555" stroke-width="1"/><text x="1768.24" y="372.47" font-size="12.68" fill="#222" textLength="25.21" lengthAdjust="spacingAndGlyphs">250</text>
<line x1="1745.5" y1="388.9" x2="1768" y2="388.9" stroke="#555" stroke-width="1"/><text x="1772.45" y="393.17" font-size="12.68" fill="#222" textLength="15.27" lengthAdjust="spacingAndGlyphs">37</text>
<line x1="1745.5" y1="442" x2="1768" y2="442" stroke="#555" stroke-width="1"/><text x="1772.31" y="446.27" font-size="12.86" fill="#222" textLength="15.27" lengthAdjust="spacingAndGlyphs">75</text>
<line x1="1745.5" y1="459.8" x2="1768" y2="459.8" stroke="#555" stroke-width="1"/><text x="1772.31" y="464.07" font-size="12.86" fill="#222" textLength="15.27" lengthAdjust="spacingAndGlyphs">75</text>
<defs><pattern id="cells" width="9" height="6" patternUnits="userSpaceOnUse"><rect width="9" height="6" fill="#d45a6a"/><circle cx="2" cy="2" r="1.6" fill="#8c2a38"/><circle cx="6.5" cy="4.2" r="1.4" fill="#a83444"/><circle cx="5" cy="1" r="1" fill="#f08090"/></pattern></defs>
<path d="M100.6,817 L100.6,829.5 A53,13 0 0 0 206.6,829.5 L206.6,817 Z" fill="url(#cells)" stroke="#666" stroke-width="1"/>
<ellipse cx="153.6" cy="817" rx="50" ry="9" fill="url(#cells)"/>
<path d="M100.1,809 A53.5,11 0 0 1 207.1,809 L207.1,815 " fill="none" stroke="#555" stroke-width="1.2"/>
<path d="M100.1,815 L100.1,809" fill="none" stroke="#555" stroke-width="1.2"/>
<path d="M105.6,812.5 A48,7.5 0 0 1 201.6,812.5" fill="none" stroke="#f0b8c4" stroke-width="3.5"/>
<path d="M219.7,815.8 L247.1,815.8 L247.1,811.2 L257.6,820.5 L247.1,829.8 L247.1,825.2 L219.7,825.2Z" fill="#000"/>
<path d="M274.6,797.4 L275.1,830.4 Q278.1,852.4 283.6,859.4 Q286.1,861.4 288.6,859.4 Q294.1,852.4 297.1,830.4 L297.6,797.4 Z" fill="#fbfbfb" stroke="#666" stroke-width="1.3"/>
<clipPath id="tclip1"><path d="M274.6,797.4 L275.1,830.4 Q278.1,852.4 283.6,859.4 Q286.1,861.4 288.6,859.4 Q294.1,852.4 297.1,830.4 L297.6,797.4 Z"/></clipPath>
<g clip-path="url(#tclip1)"><rect x="274.1" y="808.4" width="24" height="55" fill="#f4c6d6"/><path d="M282.1,812.4 L288.1,850.4" stroke="#e8a0bc" stroke-width="3" opacity="0.6"/><ellipse cx="286.1" cy="804.4" rx="11" ry="3" fill="none" stroke="#bbb" stroke-width="1"/><ellipse cx="286.1" cy="812.4" rx="11" ry="3.5" fill="none" stroke="#ccc" stroke-width="1"/></g>
<path d="M274.6,797.4 L275.1,830.4 Q278.1,852.4 283.6,859.4 Q286.1,861.4 288.6,859.4 Q294.1,852.4 297.1,830.4 L297.6,797.4 Z" fill="none" stroke="#666" stroke-width="1.3"/>
<ellipse cx="286.1" cy="790.4" rx="15.5" ry="7.5" fill="#cfcfcf" stroke="#444" stroke-width="2.2"/>
<ellipse cx="286.1" cy="789.9" rx="9.5" ry="4.2" fill="#fafafa" stroke="#666" stroke-width="0.8"/>
<circle cx="297.1" cy="782.9" r="2.8" fill="#333"/>
<path d="M315.2,772.4 L346.9,746.1 L350.7,750.8 L353.7,734 L336.7,733.8 L340.5,738.4 L308.8,764.6Z" fill="#000"/>
<path d="M313.1,849.1 L339.4,868 L335.9,872.9 L352.9,871.5 L348.8,855 L345.3,859.9 L318.9,840.9Z" fill="#000"/>
<path d="M372.3,870.8 L372.8,903.8 Q375.8,925.8 381.3,932.8 Q383.8,934.8 386.3,932.8 Q391.8,925.8 394.8,903.8 L395.3,870.8 Z" fill="#fbfbfb" stroke="#666" stroke-width="1.3"/>
<clipPath id="tclip2"><path d="M372.3,870.8 L372.8,903.8 Q375.8,925.8 381.3,932.8 Q383.8,934.8 386.3,932.8 Q391.8,925.8 394.8,903.8 L395.3,870.8 Z"/></clipPath>
<g clip-path="url(#tclip2)"><rect x="371.8" y="920.8" width="24" height="16" fill="#1a1a1a"/><ellipse cx="383.8" cy="920.8" rx="8" ry="2.2" fill="#555"/><ellipse cx="383.8" cy="877.8" rx="11" ry="3" fill="none" stroke="#bbb" stroke-width="1"/><ellipse cx="383.8" cy="885.8" rx="11" ry="3.5" fill="none" stroke="#ccc" stroke-width="1"/></g>
<path d="M372.3,870.8 L372.8,903.8 Q375.8,925.8 381.3,932.8 Q383.8,934.8 386.3,932.8 Q391.8,925.8 394.8,903.8 L395.3,870.8 Z" fill="none" stroke="#666" stroke-width="1.3"/>
<ellipse cx="383.8" cy="863.8" rx="15.5" ry="7.5" fill="#cfcfcf" stroke="#444" stroke-width="2.2"/>
<ellipse cx="383.8" cy="863.3" rx="9.5" ry="4.2" fill="#fafafa" stroke="#666" stroke-width="0.8"/>
<circle cx="394.8" cy="856.3" r="2.8" fill="#333"/>
<path d="M408.8,845.7 L440.8,817.4 L444.8,821.9 L447.2,805 L430.2,805.4 L434.2,809.9 L402.2,838.3Z" fill="#000"/>
<path d="M436.2,892.5 L478.7,892.5 L478.7,887.5 L489.7,897.5 L478.7,907.5 L478.7,902.5 L436.2,902.5Z" fill="#000"/>
<path d="M530,870.8 L530.5,903.8 Q533.5,925.8 539,932.8 Q541.5,934.8 544,932.8 Q549.5,925.8 552.5,903.8 L553,870.8 Z" fill="#fbfbfb" stroke="#666" stroke-width="1.3"/>
<clipPath id="tclip3"><path d="M530,870.8 L530.5,903.8 Q533.5,925.8 539,932.8 Q541.5,934.8 544,932.8 Q549.5,925.8 552.5,903.8 L553,870.8 Z"/></clipPath>
<g clip-path="url(#tclip3)"><circle cx="542.4" cy="892.5" r="1.7" fill="#40c8e8" opacity="0.85"/><circle cx="541.3" cy="925.7" r="1.7" fill="#a040c0" opacity="0.85"/><circle cx="548" cy="910.5" r="1.7" fill="#8ad8f0" opacity="0.85"/><circle cx="536.2" cy="893.5" r="1.7" fill="#8ad8f0" opacity="0.85"/><circle cx="542.4" cy="907.3" r="1.7" fill="#8ad8f0" opacity="0.85"/><circle cx="536.3" cy="912.1" r="1.7" fill="#40c8e8" opacity="0.85"/><circle cx="541.7" cy="923.3" r="1.7" fill="#a040c0" opacity="0.85"/><circle cx="535.5" cy="913.7" r="1.7" fill="#a040c0" opacity="0.85"/><circle cx="532.1" cy="895.6" r="1.7" fill="#40c8e8" opacity="0.85"/><circle cx="545.9" cy="904" r="1.7" fill="#8ad8f0" opacity="0.85"/><circle cx="546.8" cy="915.8" r="1.7" fill="#8ad8f0" opacity="0.85"/><circle cx="542.4" cy="916.5" r="1.7" fill="#40c8e8" opacity="0.85"/><circle cx="538.5" cy="923.9" r="1.7" fill="#40c8e8" opacity="0.85"/><circle cx="536.8" cy="905" r="1.7" fill="#8ad8f0" opacity="0.85"/><circle cx="545.2" cy="919" r="1.7" fill="#8ad8f0" opacity="0.85"/><circle cx="539.3" cy="905.7" r="1.7" fill="#40c8e8" opacity="0.85"/><circle cx="539.8" cy="907" r="1.7" fill="#40c8e8" opacity="0.85"/><circle cx="542.7" cy="925.1" r="1.7" fill="#a040c0" opacity="0.85"/><circle cx="545.5" cy="922.8" r="1.7" fill="#40c8e8" opacity="0.85"/><circle cx="539.2" cy="915" r="1.7" fill="#a040c0" opacity="0.85"/><circle cx="537.9" cy="915.8" r="1.7" fill="#40c8e8" opacity="0.85"/><circle cx="532.8" cy="894.8" r="1.7" fill="#8ad8f0" opacity="0.85"/><circle cx="547.5" cy="885.1" r="1.7" fill="#8ad8f0" opacity="0.85"/><circle cx="538.2" cy="924.8" r="1.7" fill="#8ad8f0" opacity="0.85"/><circle cx="545.5" cy="918.5" r="1.7" fill="#a040c0" opacity="0.85"/><circle cx="545.6" cy="910.4" r="1.7" fill="#8ad8f0" opacity="0.85"/><circle cx="539.1" cy="915.4" r="2.5" fill="#9ee4f4" opacity="0.6"/><circle cx="548.2" cy="922.6" r="2.5" fill="#9ee4f4" opacity="0.6"/><circle cx="548.5" cy="906" r="2.5" fill="#9ee4f4" opacity="0.6"/><circle cx="535.6" cy="897.4" r="2.5" fill="#9ee4f4" opacity="0.6"/><circle cx="534.9" cy="910.2" r="2.5" fill="#9ee4f4" opacity="0.6"/><circle cx="540.2" cy="892.5" r="2.5" fill="#9ee4f4" opacity="0.6"/><circle cx="536.7" cy="910.7" r="2.5" fill="#9ee4f4" opacity="0.6"/><circle cx="546.6" cy="885.7" r="2.5" fill="#9ee4f4" opacity="0.6"/><circle cx="547.9" cy="897.6" r="2.5" fill="#9ee4f4" opacity="0.6"/><circle cx="539.8" cy="923.3" r="2.5" fill="#9ee4f4" opacity="0.6"/><ellipse cx="541.5" cy="877.8" rx="11" ry="3" fill="none" stroke="#bbb" stroke-width="1"/><ellipse cx="541.5" cy="885.8" rx="11" ry="3.5" fill="none" stroke="#ccc" stroke-width="1"/></g>
<path d="M530,870.8 L530.5,903.8 Q533.5,925.8 539,932.8 Q541.5,934.8 544,932.8 Q549.5,925.8 552.5,903.8 L553,870.8 Z" fill="none" stroke="#666" stroke-width="1.3"/>
<ellipse cx="541.5" cy="863.8" rx="15.5" ry="7.5" fill="#cfcfcf" stroke="#444" stroke-width="2.2"/>
<ellipse cx="541.5" cy="863.3" rx="9.5" ry="4.2" fill="#fafafa" stroke="#666" stroke-width="0.8"/>
<circle cx="552.5" cy="856.3" r="2.8" fill="#333"/>
<path d="M592.8,892.5 L635,892.5 L635,887.5 L646,897.5 L635,907.5 L635,902.5 L592.8,902.5Z" fill="#000"/>
<path d="M680.5,870.8 L681,903.8 Q684,925.8 689.5,932.8 Q692,934.8 694.5,932.8 Q700,925.8 703,903.8 L703.5,870.8 Z" fill="#fbfbfb" stroke="#666" stroke-width="1.3"/>
<clipPath id="tclip4"><path d="M680.5,870.8 L681,903.8 Q684,925.8 689.5,932.8 Q692,934.8 694.5,932.8 Q700,925.8 703,903.8 L703.5,870.8 Z"/></clipPath>
<g clip-path="url(#tclip4)"><circle cx="684.1" cy="892.4" r="1.7" fill="#a040c0" opacity="0.85"/><circle cx="685.1" cy="900.2" r="1.7" fill="#a040c0" opacity="0.85"/><circle cx="690" cy="884.1" r="1.7" fill="#a040c0" opacity="0.85"/><circle cx="693.9" cy="925.8" r="1.7" fill="#a040c0" opacity="0.85"/><circle cx="689" cy="918.3" r="1.7" fill="#a040c0" opacity="0.85"/><circle cx="688" cy="907.1" r="1.7" fill="#a040c0" opacity="0.85"/><circle cx="684.1" cy="889.3" r="1.7" fill="#a040c0" opacity="0.85"/><circle cx="700.5" cy="891.3" r="1.7" fill="#a040c0" opacity="0.85"/><circle cx="694.8" cy="921.4" r="1.7" fill="#a040c0" opacity="0.85"/><circle cx="689" cy="920" r="1.7" fill="#a040c0" opacity="0.85"/><circle cx="694.5" cy="896" r="1.7" fill="#a040c0" opacity="0.85"/><circle cx="696.2" cy="916.7" r="1.7" fill="#a040c0" opacity="0.85"/><rect x="680" y="920.8" width="24" height="16" fill="#1a1a1a"/><ellipse cx="692" cy="920.8" rx="8" ry="2.2" fill="#555"/><ellipse cx="692" cy="877.8" rx="11" ry="3" fill="none" stroke="#bbb" stroke-width="1"/><ellipse cx="692" cy="885.8" rx="11" ry="3.5" fill="none" stroke="#ccc" stroke-width="1"/></g>
<path d="M680.5,870.8 L681,903.8 Q684,925.8 689.5,932.8 Q692,934.8 694.5,932.8 Q700,925.8 703,903.8 L703.5,870.8 Z" fill="none" stroke="#666" stroke-width="1.3"/>
<ellipse cx="692" cy="863.8" rx="15.5" ry="7.5" fill="#cfcfcf" stroke="#444" stroke-width="2.2"/>
<ellipse cx="692" cy="863.3" rx="9.5" ry="4.2" fill="#fafafa" stroke="#666" stroke-width="0.8"/>
<circle cx="703" cy="856.3" r="2.8" fill="#333"/>
<path d="M745,892.5 L787.5,892.5 L787.5,887.5 L798.5,897.5 L787.5,907.5 L787.5,902.5 L745,902.5Z" fill="#000"/>
<path d="M831.7,870.8 L832.2,903.8 Q835.2,925.8 840.7,932.8 Q843.2,934.8 845.7,932.8 Q851.2,925.8 854.2,903.8 L854.7,870.8 Z" fill="#fbfbfb" stroke="#666" stroke-width="1.3"/>
<clipPath id="tclip5"><path d="M831.7,870.8 L832.2,903.8 Q835.2,925.8 840.7,932.8 Q843.2,934.8 845.7,932.8 Q851.2,925.8 854.2,903.8 L854.7,870.8 Z"/></clipPath>
<g clip-path="url(#tclip5)"><circle cx="846.9" cy="911.3" r="1.4" fill="#30a8d8" opacity="0.85"/><circle cx="844.5" cy="927" r="1.4" fill="#30a8d8" opacity="0.85"/><circle cx="842.5" cy="882.2" r="1.4" fill="#40b8e0" opacity="0.85"/><circle cx="849" cy="912.6" r="1.4" fill="#40b8e0" opacity="0.85"/><circle cx="850.6" cy="899" r="1.4" fill="#70d0f0" opacity="0.85"/><circle cx="844.5" cy="907.4" r="1.4" fill="#40b8e0" opacity="0.85"/><circle cx="842.1" cy="916.6" r="1.4" fill="#40b8e0" opacity="0.85"/><circle cx="844.9" cy="925.7" r="1.4" fill="#40b8e0" opacity="0.85"/><circle cx="838.5" cy="918.1" r="1.4" fill="#30a8d8" opacity="0.85"/><circle cx="837.4" cy="911.1" r="1.4" fill="#40b8e0" opacity="0.85"/><circle cx="840.9" cy="928.4" r="1.4" fill="#40b8e0" opacity="0.85"/><circle cx="841.5" cy="927.8" r="1.4" fill="#40b8e0" opacity="0.85"/><ellipse cx="843.2" cy="877.8" rx="11" ry="3" fill="none" stroke="#bbb" stroke-width="1"/><ellipse cx="843.2" cy="885.8" rx="11" ry="3.5" fill="none" stroke="#ccc" stroke-width="1"/></g>
<path d="M831.7,870.8 L832.2,903.8 Q835.2,925.8 840.7,932.8 Q843.2,934.8 845.7,932.8 Q851.2,925.8 854.2,903.8 L854.7,870.8 Z" fill="none" stroke="#666" stroke-width="1.3"/>
<ellipse cx="843.2" cy="863.8" rx="15.5" ry="7.5" fill="#cfcfcf" stroke="#444" stroke-width="2.2"/>
<ellipse cx="843.2" cy="863.3" rx="9.5" ry="4.2" fill="#fafafa" stroke="#666" stroke-width="0.8"/>
<circle cx="854.2" cy="856.3" r="2.8" fill="#333"/>
<text x="369.4" y="735.4" font-size="17.5" fill="#474747" textLength="159.0" lengthAdjust="spacingAndGlyphs">Input- sequencing</text>
<text x="460.0" y="802.0" font-size="17.5" fill="#474747" textLength="280.0" lengthAdjust="spacingAndGlyphs">Elute by heating and sequencing</text>
<text x="73.2" y="893.5" font-size="17.5" fill="#474747" textLength="185.0" lengthAdjust="spacingAndGlyphs">1) Cells (MCF7-FLAG-</text>
<text x="73.2" y="916.9" font-size="17.5" fill="#474747" textLength="171.6" lengthAdjust="spacingAndGlyphs">MED1) fixed by PFA,</text>
<text x="73.2" y="940.3" font-size="17.5" fill="#474747" textLength="185.0" lengthAdjust="spacingAndGlyphs">lysis to obtain nuclear</text>
<text x="73.2" y="963.7" font-size="17.5" fill="#474747" textLength="57.0" lengthAdjust="spacingAndGlyphs">extract</text>
<text x="314.2" y="976.5" font-size="17.5" fill="#474747" textLength="136" lengthAdjust="spacingAndGlyphs">2) 1<tspan font-size="10" dy="-7">st</tspan><tspan dy="7"> ChIP: anti-</tspan></text>
<text x="314.2" y="999.5" font-size="17.5" fill="#474747" textLength="133.0" lengthAdjust="spacingAndGlyphs">Flag (M2), wash</text>
<text x="476.5" y="976.5" font-size="17.5" fill="#474747" textLength="90.0" lengthAdjust="spacingAndGlyphs">3) Elute by</text>
<text x="476.5" y="999.5" font-size="17.5" fill="#474747" textLength="117.7" lengthAdjust="spacingAndGlyphs">FLAG peptide</text>
<text x="617" y="976.5" font-size="17.5" fill="#474747" textLength="142" lengthAdjust="spacingAndGlyphs">4) 2<tspan font-size="10" dy="-7">nd</tspan><tspan dy="7"> ChIP: anti-</tspan></text>
<text x="617.0" y="999.5" font-size="17.5" fill="#474747" textLength="107.8" lengthAdjust="spacingAndGlyphs">acetyl-lysine</text>
<text x="617.0" y="1022.0" font-size="17.5" fill="#474747" textLength="121.0" lengthAdjust="spacingAndGlyphs">with Protein G</text>
<text x="617.0" y="1044.5" font-size="17.5" fill="#474747" textLength="143.0" lengthAdjust="spacingAndGlyphs">Sepharose, wash</text>
<text x="781.7" y="976.5" font-size="17.5" fill="#474747" textLength="160.6" lengthAdjust="spacingAndGlyphs">5. Elute by heating,</text>
<text x="781.7" y="999.0" font-size="17.5" fill="#474747" textLength="144.0" lengthAdjust="spacingAndGlyphs">RNA and protein</text>
<text x="781.7" y="1021.5" font-size="17.5" fill="#474747" textLength="178.8" lengthAdjust="spacingAndGlyphs">removal, sequencing</text>
<rect x="1237" y="629.2" width="149.3" height="229.8" fill="none" stroke="#959595" stroke-width="1.4" rx="1.5"/>
<path d="M1244.5,806.7 L1245.3,807.4 L1246.1,807.9 L1247.0,808.2 L1247.8,808.1 L1248.7,807.6 L1249.5,806.9 L1250.3,806.3 L1251.2,806.0 L1252.0,806.1 L1252.9,806.6 L1253.7,807.2 L1254.5,807.9 L1255.4,808.5 L1256.2,809.0 L1257.1,809.4 L1257.9,809.7 L1258.7,809.7 L1259.6,809.4 L1260.4,808.7 L1261.2,807.6 L1262.1,806.3 L1262.9,805.1 L1263.8,804.4 L1264.6,804.3 L1265.5,804.7 L1266.3,805.4 L1267.1,806.2 L1268.0,807.0 L1268.8,807.7 L1269.7,808.3 L1270.5,808.8 L1271.3,809.2 L1272.2,809.3 L1273.0,809.0 L1273.9,808.4 L1274.7,807.6 L1275.5,806.9 L1276.4,806.6 L1277.2,806.7 L1278.1,807.2 L1278.9,807.8 L1279.7,808.4 L1280.6,808.8 L1281.4,808.9 L1282.2,808.7 L1283.1,808.4 L1283.9,808.0 L1284.8,807.5 L1285.6,806.8 L1286.5,806.0 L1287.3,805.2 L1288.1,804.7 L1289.0,804.7 L1289.8,805.2 L1290.7,806.2 L1291.5,807.5 L1292.3,808.6 L1293.2,809.3 L1294.0,809.7 L1294.9,809.8 L1295.7,809.6 L1296.5,809.2 L1297.4,808.6 L1298.2,807.7 L1299.1,806.5 L1299.9,804.8 L1300.7,802.5 L1301.6,799.3 L1302.4,794.7 L1303.2,788.0 L1304.1,778.4 L1304.9,765.6 L1305.8,749.5 L1306.6,730.4 L1307.5,709.5 L1308.3,688.3 L1309.1,668.7 L1310.0,652.7 L1310.8,642.3 L1311.7,638.7 L1312.5,642.3 L1313.3,652.8 L1314.2,668.8 L1315.0,688.5 L1315.9,710.1 L1316.7,731.6 L1317.5,751.5 L1318.4,768.8 L1319.2,782.8 L1320.1,793.5 L1320.9,801.1 L1321.7,806.1 L1322.6,808.9 L1323.4,810.0 L1324.2,810.0 L1325.1,809.3 L1325.9,808.4 L1326.8,807.7 L1327.6,807.5 L1328.5,807.7 L1329.3,808.3 L1330.1,808.8 L1331.0,809.1 L1331.8,809.1 L1332.7,808.7 L1333.5,808.2 L1334.3,807.7 L1335.2,807.5 L1336.0,807.4 L1336.9,807.4 L1337.7,807.6 L1338.5,807.8 L1339.4,808.2 L1340.2,808.8 L1341.1,809.4 L1341.9,810.0 L1342.7,810.3 L1343.6,810.1 L1344.4,809.4 L1345.2,808.2 L1346.1,807.0 L1346.9,806.0 L1347.8,805.4 L1348.6,805.2 L1349.5,805.3 L1350.3,805.6 L1351.1,806.1 L1352.0,806.9 L1352.8,807.8 L1353.7,808.8 L1354.5,809.7 L1355.3,810.4 L1356.2,810.6 L1357.0,810.2 L1357.9,809.5 L1358.7,808.6 L1359.5,807.9 L1360.4,807.5 L1361.2,807.4 L1362.1,807.5 L1362.9,807.8 L1363.7,808.0 L1364.6,808.3 L1365.4,808.5 L1366.2,808.8 L1367.1,809.0 L1367.9,809.0 L1368.8,808.6 L1369.6,807.9 L1370.5,806.9 L1371.3,806.0 L1372.1,805.5 L1373.0,805.5 L1373.8,806.0 L1374.7,806.8 L1375.5,807.8 L1376.3,808.7 L1377.2,809.5 L1378.0,810.2 L1378.9,810.7" fill="none" stroke="#d6a22c" stroke-width="2.0" stroke-linejoin="round" stroke-opacity="1"/>
<path d="M1244.5,821.9 L1245.3,822.3 L1246.1,822.7 L1247.0,822.9 L1247.8,822.8 L1248.7,822.5 L1249.5,822.0 L1250.3,821.5 L1251.2,821.3 L1252.0,821.3 L1252.9,821.7 L1253.7,822.1 L1254.5,822.6 L1255.4,823.0 L1256.2,823.3 L1257.1,823.6 L1257.9,823.7 L1258.7,823.8 L1259.6,823.5 L1260.4,823.0 L1261.2,822.3 L1262.1,821.4 L1262.9,820.6 L1263.8,820.1 L1264.6,820.0 L1265.5,820.2 L1266.3,820.7 L1267.1,821.3 L1268.0,821.8 L1268.8,822.3 L1269.7,822.7 L1270.5,823.0 L1271.3,823.2 L1272.2,823.3 L1273.0,823.1 L1273.9,822.7 L1274.7,822.1 L1275.5,821.7 L1276.4,821.4 L1277.2,821.5 L1278.1,821.8 L1278.9,822.2 L1279.7,822.6 L1280.6,822.9 L1281.4,822.9 L1282.2,822.8 L1283.1,822.6 L1283.9,822.3 L1284.8,821.9 L1285.6,821.4 L1286.5,820.9 L1287.3,820.3 L1288.1,820.0 L1289.0,819.9 L1289.8,820.3 L1290.7,821.0 L1291.5,821.8 L1292.3,822.6 L1293.2,823.1 L1294.0,823.4 L1294.9,823.4 L1295.7,823.3 L1296.5,823.0 L1297.4,822.7 L1298.2,822.3 L1299.1,821.8 L1299.9,821.3 L1300.7,820.7 L1301.6,820.1 L1302.4,819.2 L1303.2,817.6 L1304.1,815.0 L1304.9,811.0 L1305.8,805.2 L1306.6,797.7 L1307.5,788.8 L1308.3,779.2 L1309.1,769.9 L1310.0,762.0 L1310.8,756.7 L1311.7,754.8 L1312.5,756.7 L1313.3,762.0 L1314.2,770.0 L1315.0,779.4 L1315.9,789.3 L1316.7,798.6 L1317.5,806.7 L1318.4,813.3 L1319.2,818.3 L1320.1,821.9 L1320.9,824.1 L1321.7,825.3 L1322.6,825.7 L1323.4,825.4 L1324.2,824.6 L1325.1,823.7 L1325.9,822.7 L1326.8,822.0 L1327.6,821.6 L1328.5,821.7 L1329.3,822.0 L1330.1,822.4 L1331.0,822.5 L1331.8,822.5 L1332.7,822.2 L1333.5,821.8 L1334.3,821.5 L1335.2,821.3 L1336.0,821.3 L1336.9,821.3 L1337.7,821.4 L1338.5,821.5 L1339.4,821.8 L1340.2,822.2 L1341.1,822.6 L1341.9,823.0 L1342.7,823.2 L1343.6,823.0 L1344.4,822.5 L1345.2,821.7 L1346.1,820.9 L1346.9,820.2 L1347.8,819.8 L1348.6,819.6 L1349.5,819.7 L1350.3,819.9 L1351.1,820.2 L1352.0,820.7 L1352.8,821.3 L1353.7,822.0 L1354.5,822.6 L1355.3,823.1 L1356.2,823.2 L1357.0,823.0 L1357.9,822.4 L1358.7,821.8 L1359.5,821.3 L1360.4,821.0 L1361.2,820.9 L1362.1,821.0 L1362.9,821.2 L1363.7,821.4 L1364.6,821.5 L1365.4,821.7 L1366.2,821.9 L1367.1,822.0 L1367.9,822.0 L1368.8,821.7 L1369.6,821.2 L1370.5,820.5 L1371.3,819.9 L1372.1,819.5 L1373.0,819.5 L1373.8,819.8 L1374.7,820.4 L1375.5,821.1 L1376.3,821.7 L1377.2,822.2 L1378.0,822.7 L1378.9,823.0" fill="none" stroke="#4a4a4a" stroke-width="2.0" stroke-linejoin="round" stroke-opacity="1"/>
<line x1="1244.5" y1="859.0" x2="1244.5" y2="862.0" stroke="#8a8a8a" stroke-width="1.2"/>
<line x1="1311.7" y1="859.0" x2="1311.7" y2="862.0" stroke="#8a8a8a" stroke-width="1.2"/>
<line x1="1378.9" y1="859.0" x2="1378.9" y2="862.0" stroke="#8a8a8a" stroke-width="1.2"/>
<text x="1239.62" y="890.70" font-size="16.71" font-weight="bold" fill="#111" textLength="15.15" lengthAdjust="spacingAndGlyphs">-2</text>
<text x="1306.96" y="890.54" font-size="16.48" font-weight="bold" fill="#111" textLength="8.90" lengthAdjust="spacingAndGlyphs">0</text>
<text x="1373.45" y="890.70" font-size="16.71" font-weight="bold" fill="#111" textLength="8.69" lengthAdjust="spacingAndGlyphs">2</text>
<text x="1282.94" y="616.50" font-size="15.72" font-weight="bold" fill="#111" textLength="60.86" lengthAdjust="spacingAndGlyphs">High Ac</text>
<rect x="1392.7" y="629.2" width="148.6" height="229.8" fill="none" stroke="#959595" stroke-width="1.4" rx="1.5"/>
<path d="M1399.8,799.6 L1400.6,798.8 L1401.5,798.2 L1402.3,797.7 L1403.2,797.4 L1404.0,797.4 L1404.8,797.8 L1405.7,798.7 L1406.5,799.7 L1407.4,800.7 L1408.2,801.3 L1409.0,801.4 L1409.9,801.1 L1410.7,800.6 L1411.6,800.2 L1412.4,799.8 L1413.2,799.7 L1414.1,799.8 L1414.9,799.9 L1415.8,800.1 L1416.6,800.5 L1417.4,801.0 L1418.3,801.7 L1419.1,802.4 L1420.0,802.8 L1420.8,802.8 L1421.6,802.2 L1422.5,801.2 L1423.3,800.0 L1424.2,799.0 L1425.0,798.2 L1425.8,797.9 L1426.7,797.9 L1427.5,798.2 L1428.4,798.7 L1429.2,799.4 L1430.0,800.3 L1430.9,801.3 L1431.7,802.3 L1432.6,803.1 L1433.4,803.5 L1434.2,803.3 L1435.1,802.7 L1435.9,801.9 L1436.8,801.1 L1437.6,800.6 L1438.4,800.4 L1439.3,800.5 L1440.1,800.8 L1441.0,801.0 L1441.8,801.3 L1442.6,801.6 L1443.5,801.9 L1444.3,802.1 L1445.2,802.2 L1446.0,802.0 L1446.8,801.4 L1447.7,800.6 L1448.5,799.8 L1449.4,799.2 L1450.2,799.2 L1451.0,799.5 L1451.9,800.2 L1452.7,800.9 L1453.6,801.4 L1454.4,801.6 L1455.2,801.4 L1456.1,800.5 L1456.9,798.8 L1457.8,795.8 L1458.6,791.4 L1459.4,785.1 L1460.3,777.0 L1461.1,767.1 L1462.0,755.7 L1462.8,743.3 L1463.6,730.8 L1464.5,719.2 L1465.3,709.8 L1466.2,703.6 L1467.0,701.4 L1467.8,703.6 L1468.7,709.9 L1469.5,719.4 L1470.4,731.2 L1471.2,744.0 L1472.0,756.7 L1472.9,768.3 L1473.7,778.4 L1474.6,786.6 L1475.4,793.1 L1476.2,798.1 L1477.1,801.8 L1477.9,804.4 L1478.8,805.9 L1479.6,806.6 L1480.4,806.6 L1481.3,806.1 L1482.1,805.4 L1483.0,804.5 L1483.8,803.6 L1484.6,802.6 L1485.5,801.5 L1486.3,800.6 L1487.2,800.0 L1488.0,799.9 L1488.8,800.4 L1489.7,801.3 L1490.5,802.4 L1491.4,803.3 L1492.2,804.0 L1493.0,804.3 L1493.9,804.4 L1494.7,804.3 L1495.6,804.1 L1496.4,803.9 L1497.2,803.5 L1498.1,803.1 L1498.9,802.7 L1499.8,802.5 L1500.6,802.7 L1501.4,803.3 L1502.3,804.1 L1503.1,804.8 L1504.0,805.3 L1504.8,805.3 L1505.6,804.8 L1506.5,804.1 L1507.3,803.3 L1508.2,802.5 L1509.0,801.9 L1509.8,801.4 L1510.7,801.1 L1511.5,800.9 L1512.4,801.1 L1513.2,801.7 L1514.0,802.8 L1514.9,804.1 L1515.7,805.4 L1516.6,806.3 L1517.4,806.7 L1518.2,806.5 L1519.1,806.0 L1519.9,805.3 L1520.8,804.7 L1521.6,804.1 L1522.4,803.7 L1523.3,803.3 L1524.1,803.0 L1525.0,802.9 L1525.8,803.1 L1526.6,803.6 L1527.5,804.3 L1528.3,804.9 L1529.2,805.2 L1530.0,805.1 L1530.8,804.6 L1531.7,803.8 L1532.5,803.1 L1533.4,802.6 L1534.2,802.5" fill="none" stroke="#d6a22c" stroke-width="2.0" stroke-linejoin="round" stroke-opacity="1"/>
<path d="M1399.8,815.6 L1400.6,815.0 L1401.5,814.6 L1402.3,814.2 L1403.2,814.0 L1404.0,814.0 L1404.8,814.3 L1405.7,814.8 L1406.5,815.5 L1407.4,816.2 L1408.2,816.6 L1409.0,816.7 L1409.9,816.5 L1410.7,816.1 L1411.6,815.8 L1412.4,815.5 L1413.2,815.4 L1414.1,815.5 L1414.9,815.5 L1415.8,815.7 L1416.6,815.9 L1417.4,816.2 L1418.3,816.7 L1419.1,817.1 L1420.0,817.4 L1420.8,817.4 L1421.6,817.0 L1422.5,816.3 L1423.3,815.5 L1424.2,814.7 L1425.0,814.2 L1425.8,814.0 L1426.7,814.0 L1427.5,814.2 L1428.4,814.5 L1429.2,814.9 L1430.0,815.5 L1430.9,816.2 L1431.7,816.9 L1432.6,817.4 L1433.4,817.7 L1434.2,817.6 L1435.1,817.1 L1435.9,816.5 L1436.8,816.0 L1437.6,815.6 L1438.4,815.5 L1439.3,815.5 L1440.1,815.7 L1441.0,815.9 L1441.8,816.0 L1442.6,816.2 L1443.5,816.4 L1444.3,816.6 L1445.2,816.6 L1446.0,816.4 L1446.8,816.0 L1447.7,815.4 L1448.5,814.9 L1449.4,814.5 L1450.2,814.4 L1451.0,814.7 L1451.9,815.1 L1452.7,815.7 L1453.6,816.1 L1454.4,816.4 L1455.2,816.6 L1456.1,816.4 L1456.9,815.8 L1457.8,814.6 L1458.6,812.4 L1459.4,809.0 L1460.3,804.1 L1461.1,797.5 L1462.0,789.1 L1462.8,779.3 L1463.6,768.7 L1464.5,758.4 L1465.3,749.7 L1466.2,743.8 L1467.0,741.7 L1467.8,743.8 L1468.7,749.7 L1469.5,758.6 L1470.4,769.1 L1471.2,780.0 L1472.0,790.1 L1472.9,798.8 L1473.7,805.7 L1474.6,811.0 L1475.4,814.9 L1476.2,817.7 L1477.1,819.6 L1477.9,820.8 L1478.8,821.3 L1479.6,821.2 L1480.4,820.6 L1481.3,819.8 L1482.1,818.9 L1483.0,818.1 L1483.8,817.2 L1484.6,816.4 L1485.5,815.5 L1486.3,814.8 L1487.2,814.4 L1488.0,814.3 L1488.8,814.6 L1489.7,815.2 L1490.5,816.0 L1491.4,816.6 L1492.2,817.0 L1493.0,817.2 L1493.9,817.2 L1494.7,817.2 L1495.6,817.0 L1496.4,816.9 L1497.2,816.6 L1498.1,816.3 L1498.9,816.0 L1499.8,815.9 L1500.6,816.0 L1501.4,816.4 L1502.3,816.9 L1503.1,817.4 L1504.0,817.7 L1504.8,817.7 L1505.6,817.4 L1506.5,816.8 L1507.3,816.3 L1508.2,815.7 L1509.0,815.3 L1509.8,815.0 L1510.7,814.7 L1511.5,814.6 L1512.4,814.7 L1513.2,815.1 L1514.0,815.8 L1514.9,816.7 L1515.7,817.6 L1516.6,818.2 L1517.4,818.4 L1518.2,818.3 L1519.1,818.0 L1519.9,817.5 L1520.8,817.0 L1521.6,816.6 L1522.4,816.3 L1523.3,816.0 L1524.1,815.8 L1525.0,815.7 L1525.8,815.9 L1526.6,816.2 L1527.5,816.6 L1528.3,817.0 L1529.2,817.3 L1530.0,817.2 L1530.8,816.8 L1531.7,816.2 L1532.5,815.7 L1533.4,815.4 L1534.2,815.3" fill="none" stroke="#4a4a4a" stroke-width="2.0" stroke-linejoin="round" stroke-opacity="1"/>
<line x1="1399.8" y1="859.0" x2="1399.8" y2="862.0" stroke="#8a8a8a" stroke-width="1.2"/>
<line x1="1467" y1="859.0" x2="1467" y2="862.0" stroke="#8a8a8a" stroke-width="1.2"/>
<line x1="1534.2" y1="859.0" x2="1534.2" y2="862.0" stroke="#8a8a8a" stroke-width="1.2"/>
<text x="1399.14" y="890.70" font-size="16.71" font-weight="bold" fill="#111" textLength="14.60" lengthAdjust="spacingAndGlyphs">-2</text>
<text x="1461.83" y="890.54" font-size="16.48" font-weight="bold" fill="#111" textLength="9.25" lengthAdjust="spacingAndGlyphs">0</text>
<text x="1528.55" y="890.70" font-size="16.71" font-weight="bold" fill="#111" textLength="8.69" lengthAdjust="spacingAndGlyphs">2</text>
<text x="1439.16" y="617.43" font-size="17.01" font-weight="bold" fill="#111" textLength="56.88" lengthAdjust="spacingAndGlyphs">Mid Ac</text>
<rect x="1547.8" y="629.2" width="148.9" height="229.8" fill="none" stroke="#959595" stroke-width="1.4" rx="1.5"/>
<path d="M1555.0,821.8 L1555.9,822.7 L1556.7,823.1 L1557.6,823.1 L1558.4,822.8 L1559.2,822.5 L1560.1,822.1 L1560.9,821.8 L1561.8,821.5 L1562.6,821.3 L1563.5,821.1 L1564.3,821.1 L1565.1,821.4 L1566.0,822.0 L1566.8,822.7 L1567.7,823.3 L1568.5,823.5 L1569.3,823.2 L1570.2,822.5 L1571.0,821.6 L1571.8,820.7 L1572.7,820.0 L1573.5,819.6 L1574.4,819.5 L1575.2,819.6 L1576.0,819.9 L1576.9,820.4 L1577.7,821.3 L1578.6,822.4 L1579.4,823.6 L1580.2,824.7 L1581.1,825.2 L1581.9,825.2 L1582.8,824.7 L1583.6,823.8 L1584.5,822.9 L1585.3,822.2 L1586.1,821.7 L1587.0,821.4 L1587.8,821.3 L1588.7,821.3 L1589.5,821.4 L1590.3,821.8 L1591.2,822.3 L1592.0,822.9 L1592.8,823.3 L1593.7,823.5 L1594.5,823.2 L1595.4,822.5 L1596.2,821.7 L1597.0,821.1 L1597.9,820.8 L1598.7,821.0 L1599.6,821.5 L1600.4,822.2 L1601.2,822.9 L1602.1,823.6 L1602.9,824.3 L1603.8,824.9 L1604.6,825.4 L1605.5,825.6 L1606.3,825.4 L1607.1,824.8 L1608.0,823.9 L1608.8,822.9 L1609.7,822.0 L1610.5,821.5 L1611.3,821.2 L1612.2,821.0 L1613.0,820.7 L1613.8,820.0 L1614.7,818.8 L1615.5,817.2 L1616.4,815.0 L1617.2,812.3 L1618.0,809.3 L1618.9,806.2 L1619.7,803.3 L1620.6,800.9 L1621.4,799.4 L1622.2,798.8 L1623.1,799.4 L1623.9,800.9 L1624.8,803.2 L1625.6,806.2 L1626.5,809.4 L1627.3,812.7 L1628.1,815.6 L1629.0,818.1 L1629.8,820.2 L1630.7,821.6 L1631.5,822.5 L1632.3,822.8 L1633.2,822.7 L1634.0,822.2 L1634.8,821.8 L1635.7,821.6 L1636.5,821.9 L1637.4,822.5 L1638.2,823.4 L1639.0,824.3 L1639.9,825.1 L1640.7,825.7 L1641.6,826.0 L1642.4,826.2 L1643.2,826.3 L1644.1,826.1 L1644.9,825.6 L1645.8,824.9 L1646.6,824.2 L1647.5,823.6 L1648.3,823.5 L1649.1,823.7 L1650.0,824.4 L1650.8,825.1 L1651.7,825.6 L1652.5,825.8 L1653.3,825.7 L1654.2,825.3 L1655.0,824.8 L1655.8,824.3 L1656.7,823.8 L1657.5,823.3 L1658.4,822.9 L1659.2,822.5 L1660.0,822.5 L1660.9,823.0 L1661.7,823.9 L1662.6,825.2 L1663.4,826.5 L1664.2,827.5 L1665.1,828.1 L1665.9,828.1 L1666.8,827.7 L1667.6,827.2 L1668.5,826.5 L1669.3,825.8 L1670.1,825.1 L1671.0,824.4 L1671.8,823.7 L1672.7,823.4 L1673.5,823.4 L1674.3,823.9 L1675.2,824.7 L1676.0,825.5 L1676.8,826.2 L1677.7,826.4 L1678.5,826.2 L1679.4,825.8 L1680.2,825.3 L1681.0,824.9 L1681.9,824.7 L1682.7,824.7 L1683.6,824.8 L1684.4,824.9 L1685.2,825.3 L1686.1,825.9 L1686.9,826.7 L1687.8,827.7 L1688.6,828.6 L1689.5,829.0" fill="none" stroke="#d6a22c" stroke-width="2.0" stroke-linejoin="round" stroke-opacity="1"/>
<path d="M1555.0,826.3 L1555.9,826.9 L1556.7,827.2 L1557.6,827.2 L1558.4,827.0 L1559.2,826.7 L1560.1,826.5 L1560.9,826.3 L1561.8,826.0 L1562.6,825.8 L1563.5,825.7 L1564.3,825.7 L1565.1,825.9 L1566.0,826.3 L1566.8,826.8 L1567.7,827.2 L1568.5,827.3 L1569.3,827.1 L1570.2,826.6 L1571.0,825.9 L1571.8,825.3 L1572.7,824.8 L1573.5,824.5 L1574.4,824.4 L1575.2,824.4 L1576.0,824.6 L1576.9,825.0 L1577.7,825.6 L1578.6,826.4 L1579.4,827.2 L1580.2,827.9 L1581.1,828.2 L1581.9,828.2 L1582.8,827.8 L1583.6,827.2 L1584.5,826.6 L1585.3,826.1 L1586.1,825.7 L1587.0,825.5 L1587.8,825.4 L1588.7,825.4 L1589.5,825.5 L1590.3,825.7 L1591.2,826.1 L1592.0,826.4 L1592.8,826.8 L1593.7,826.8 L1594.5,826.6 L1595.4,826.1 L1596.2,825.6 L1597.0,825.1 L1597.9,824.9 L1598.7,825.0 L1599.6,825.4 L1600.4,825.8 L1601.2,826.3 L1602.1,826.8 L1602.9,827.2 L1603.8,827.7 L1604.6,828.0 L1605.5,828.1 L1606.3,828.0 L1607.1,827.5 L1608.0,826.9 L1608.8,826.2 L1609.7,825.6 L1610.5,825.2 L1611.3,825.0 L1612.2,824.7 L1613.0,824.1 L1613.8,823.0 L1614.7,821.0 L1615.5,817.9 L1616.4,813.5 L1617.2,807.8 L1618.0,800.9 L1618.9,793.5 L1619.7,786.2 L1620.6,780.1 L1621.4,775.9 L1622.2,774.5 L1623.1,776.0 L1623.9,780.1 L1624.8,786.3 L1625.6,793.7 L1626.5,801.4 L1627.3,808.7 L1628.1,815.1 L1629.0,820.3 L1629.8,824.3 L1630.7,827.3 L1631.5,829.2 L1632.3,830.1 L1633.2,830.3 L1634.0,829.8 L1634.8,828.9 L1635.7,828.0 L1636.5,827.4 L1637.4,827.1 L1638.2,827.1 L1639.0,827.3 L1639.9,827.5 L1640.7,827.7 L1641.6,827.8 L1642.4,827.9 L1643.2,827.9 L1644.1,827.7 L1644.9,827.4 L1645.8,826.9 L1646.6,826.4 L1647.5,826.0 L1648.3,825.9 L1649.1,826.1 L1650.0,826.5 L1650.8,827.0 L1651.7,827.3 L1652.5,827.4 L1653.3,827.3 L1654.2,827.0 L1655.0,826.7 L1655.8,826.3 L1656.7,826.0 L1657.5,825.6 L1658.4,825.3 L1659.2,825.1 L1660.0,825.0 L1660.9,825.3 L1661.7,826.0 L1662.6,826.8 L1663.4,827.7 L1664.2,828.4 L1665.1,828.8 L1665.9,828.8 L1666.8,828.5 L1667.6,828.1 L1668.5,827.6 L1669.3,827.1 L1670.1,826.6 L1671.0,826.1 L1671.8,825.7 L1672.7,825.4 L1673.5,825.4 L1674.3,825.7 L1675.2,826.3 L1676.0,826.8 L1676.8,827.3 L1677.7,827.4 L1678.5,827.3 L1679.4,827.0 L1680.2,826.6 L1681.0,826.3 L1681.9,826.2 L1682.7,826.1 L1683.6,826.2 L1684.4,826.3 L1685.2,826.5 L1686.1,826.9 L1686.9,827.5 L1687.8,828.1 L1688.6,828.7 L1689.5,829.0" fill="none" stroke="#4a4a4a" stroke-width="2.0" stroke-linejoin="round" stroke-opacity="1"/>
<line x1="1555" y1="859.0" x2="1555" y2="862.0" stroke="#8a8a8a" stroke-width="1.2"/>
<line x1="1622.2" y1="859.0" x2="1622.2" y2="862.0" stroke="#8a8a8a" stroke-width="1.2"/>
<line x1="1689.5" y1="859.0" x2="1689.5" y2="862.0" stroke="#8a8a8a" stroke-width="1.2"/>
<text x="1555.06" y="890.70" font-size="16.71" font-weight="bold" fill="#111" textLength="14.27" lengthAdjust="spacingAndGlyphs">-2</text>
<text x="1618.56" y="890.54" font-size="16.48" font-weight="bold" fill="#111" textLength="8.90" lengthAdjust="spacingAndGlyphs">0</text>
<text x="1679.23" y="890.70" font-size="16.71" font-weight="bold" fill="#111" textLength="9.04" lengthAdjust="spacingAndGlyphs">2</text>
<text x="1598.25" y="616.73" font-size="16.86" font-weight="bold" fill="#111" textLength="56.79" lengthAdjust="spacingAndGlyphs">Low Ac</text>
<line x1="1234" y1="680.8" x2="1237" y2="680.8" stroke="#8a8a8a" stroke-width="1.2"/>
<text x="1197.95" y="687.01" font-size="19.44" font-weight="bold" fill="#111" textLength="26.11" lengthAdjust="spacingAndGlyphs">0.9</text>
<line x1="1234" y1="737" x2="1237" y2="737" stroke="#8a8a8a" stroke-width="1.2"/>
<text x="1197.95" y="743.52" font-size="18.03" font-weight="bold" fill="#111" textLength="26.11" lengthAdjust="spacingAndGlyphs">0.6</text>
<line x1="1234" y1="793.2" x2="1237" y2="793.2" stroke="#8a8a8a" stroke-width="1.2"/>
<text x="1197.95" y="800.03" font-size="17.32" font-weight="bold" fill="#111" textLength="26.11" lengthAdjust="spacingAndGlyphs">0.3</text>
<line x1="1234" y1="849.4" x2="1237" y2="849.4" stroke="#8a8a8a" stroke-width="1.2"/>
<text x="1197.95" y="858.12" font-size="18.03" font-weight="bold" fill="#111" textLength="26.21" lengthAdjust="spacingAndGlyphs">0.0</text>
<text x="1349.90" y="918.51" font-size="15.19" font-weight="bold" fill="#111" textLength="226.01" lengthAdjust="spacingAndGlyphs">Distance to peak center (kb)</text>
<line x1="1722.8" y1="725" x2="1745.4" y2="725" stroke="#d6a22c" stroke-width="2.6"/>
<text x="1758.91" y="728.33" font-size="17.43" font-weight="bold" fill="#111" textLength="44.01" lengthAdjust="spacingAndGlyphs">Ace K</text>
<line x1="1722.8" y1="753.8" x2="1745.4" y2="753.8" stroke="#3a3a3a" stroke-width="2.6"/>
<text x="1761.03" y="761.93" font-size="17.18" font-weight="bold" fill="#111" textLength="40.48" lengthAdjust="spacingAndGlyphs">FLAG</text>
<rect x="1140" y="1026" width="147" height="224.3" fill="none" stroke="#8a8a8a" stroke-width="1.6"/>
<path d="M1147.9,1207.6 L1148.5,1207.0 L1149.2,1207.3 L1149.8,1207.8 L1150.5,1207.6 L1151.2,1209.2 L1151.8,1209.1 L1152.5,1208.0 L1153.1,1208.4 L1153.8,1206.8 L1154.5,1206.1 L1155.1,1205.1 L1155.8,1205.2 L1156.4,1205.3 L1157.1,1206.0 L1157.8,1205.1 L1158.4,1205.4 L1159.1,1204.6 L1159.7,1204.4 L1160.4,1204.9 L1161.1,1205.9 L1161.7,1205.7 L1162.4,1205.1 L1163.0,1204.4 L1163.7,1202.9 L1164.4,1202.7 L1165.0,1203.1 L1165.7,1203.3 L1166.3,1202.3 L1167.0,1202.2 L1167.7,1201.9 L1168.3,1201.1 L1169.0,1201.8 L1169.6,1201.7 L1170.3,1201.9 L1171.0,1200.6 L1171.6,1199.9 L1172.3,1198.1 L1172.9,1198.5 L1173.6,1197.4 L1174.3,1198.0 L1174.9,1197.5 L1175.6,1199.1 L1176.3,1198.3 L1176.9,1198.3 L1177.6,1197.4 L1178.2,1198.2 L1178.9,1196.5 L1179.6,1196.0 L1180.2,1196.0 L1180.9,1196.1 L1181.5,1195.5 L1182.2,1196.8 L1182.9,1197.1 L1183.5,1197.6 L1184.2,1196.5 L1184.8,1197.1 L1185.5,1195.8 L1186.2,1196.2 L1186.8,1195.7 L1187.5,1194.6 L1188.1,1192.6 L1188.8,1191.8 L1189.5,1190.7 L1190.1,1190.7 L1190.8,1192.1 L1191.4,1192.0 L1192.1,1190.7 L1192.8,1189.4 L1193.4,1188.5 L1194.1,1185.9 L1194.7,1185.9 L1195.4,1187.1 L1196.1,1186.8 L1196.7,1185.6 L1197.4,1186.6 L1198.0,1184.4 L1198.7,1183.0 L1199.4,1182.3 L1200.0,1182.2 L1200.7,1181.4 L1201.4,1180.3 L1202.0,1177.8 L1202.7,1176.2 L1203.3,1175.0 L1204.0,1173.6 L1204.7,1174.0 L1205.3,1174.6 L1206.0,1172.9 L1206.6,1170.6 L1207.3,1169.4 L1208.0,1167.6 L1208.6,1165.0 L1209.3,1163.9 L1209.9,1162.0 L1210.6,1159.9 L1211.3,1156.9 L1211.9,1155.6 L1212.6,1153.6 L1213.2,1151.0 L1213.3,1038.5 L1214.5,1038.5 L1214.6,1152.7 L1215.2,1153.0 L1215.9,1154.6 L1216.5,1157.7 L1217.2,1158.5 L1217.9,1160.2 L1218.5,1162.3 L1219.2,1165.4 L1219.8,1167.2 L1220.5,1169.6 L1221.2,1170.1 L1221.8,1171.4 L1222.5,1172.4 L1223.1,1172.3 L1223.8,1173.2 L1224.5,1174.7 L1225.1,1176.3 L1225.8,1177.4 L1226.4,1178.6 L1227.1,1179.8 L1227.8,1181.4 L1228.4,1182.4 L1229.1,1182.7 L1229.8,1185.0 L1230.4,1184.6 L1231.1,1184.1 L1231.7,1185.3 L1232.4,1185.4 L1233.1,1184.7 L1233.7,1187.2 L1234.4,1189.3 L1235.0,1189.9 L1235.7,1191.3 L1236.4,1192.0 L1237.0,1192.3 L1237.7,1192.7 L1238.3,1193.5 L1239.0,1192.8 L1239.7,1194.6 L1240.3,1193.5 L1241.0,1193.0 L1241.6,1193.5 L1242.3,1195.7 L1243.0,1195.3 L1243.6,1196.7 L1244.3,1198.2 L1244.9,1198.5 L1245.6,1197.1 L1246.3,1196.4 L1246.9,1196.2 L1247.6,1195.8 L1248.2,1195.2 L1248.9,1197.3 L1249.6,1198.1 L1250.2,1198.3 L1250.9,1199.1 L1251.5,1200.4 L1252.2,1199.9 L1252.9,1200.0 L1253.5,1200.5 L1254.2,1200.5 L1254.9,1199.8 L1255.5,1199.9 L1256.2,1200.1 L1256.8,1200.8 L1257.5,1200.8 L1258.2,1202.0 L1258.8,1202.9 L1259.5,1203.1 L1260.1,1202.7 L1260.8,1202.8 L1261.5,1202.4 L1262.1,1201.5 L1262.8,1201.3 L1263.4,1202.5 L1264.1,1203.3 L1264.8,1202.9 L1265.4,1202.5 L1266.1,1203.1 L1266.7,1202.4 L1267.4,1200.8 L1268.1,1201.0 L1268.7,1202.9 L1269.4,1203.1 L1270.0,1202.7 L1270.7,1204.2 L1271.4,1204.5 L1272.0,1202.9 L1272.7,1203.5 L1273.3,1204.4 L1274.0,1203.9 L1274.7,1204.0 L1275.3,1204.7 L1276.0,1203.8 L1276.6,1203.8 L1277.3,1204.5 L1278.0,1205.9 L1278.6,1205.9 L1279.3,1206.9 L1280.0,1206.8" fill="none" stroke="#000000" stroke-width="1.9" stroke-linejoin="round" stroke-opacity="1"/>
<path d="M1147.9,1209.2 L1148.5,1207.8 L1149.2,1207.3 L1149.8,1205.7 L1150.5,1205.2 L1151.2,1204.8 L1151.8,1204.9 L1152.5,1205.5 L1153.1,1205.7 L1153.8,1205.5 L1154.5,1206.1 L1155.1,1206.8 L1155.8,1205.5 L1156.4,1206.1 L1157.1,1206.4 L1157.8,1206.8 L1158.4,1206.6 L1159.1,1207.5 L1159.7,1206.2 L1160.4,1205.3 L1161.1,1205.6 L1161.7,1204.8 L1162.4,1204.8 L1163.0,1204.9 L1163.7,1205.3 L1164.4,1204.1 L1165.0,1203.5 L1165.7,1201.9 L1166.3,1201.6 L1167.0,1201.7 L1167.7,1202.4 L1168.3,1202.6 L1169.0,1202.9 L1169.6,1202.3 L1170.3,1200.9 L1171.0,1200.5 L1171.6,1200.6 L1172.3,1200.0 L1172.9,1200.8 L1173.6,1200.4 L1174.3,1200.5 L1174.9,1200.3 L1175.6,1199.7 L1176.3,1198.4 L1176.9,1199.1 L1177.6,1198.3 L1178.2,1197.7 L1178.9,1198.4 L1179.6,1198.7 L1180.2,1198.7 L1180.9,1198.5 L1181.5,1198.2 L1182.2,1196.9 L1182.9,1197.0 L1183.5,1196.1 L1184.2,1194.9 L1184.8,1194.7 L1185.5,1195.8 L1186.2,1195.7 L1186.8,1194.7 L1187.5,1194.3 L1188.1,1193.3 L1188.8,1190.9 L1189.5,1191.1 L1190.1,1190.8 L1190.8,1190.3 L1191.4,1191.4 L1192.1,1192.3 L1192.8,1190.8 L1193.4,1190.7 L1194.1,1189.3 L1194.7,1187.8 L1195.4,1186.0 L1196.1,1185.4 L1196.7,1183.6 L1197.4,1182.6 L1198.0,1182.2 L1198.7,1181.2 L1199.4,1180.9 L1200.0,1181.3 L1200.7,1180.5 L1201.4,1178.9 L1202.0,1179.5 L1202.7,1178.6 L1203.3,1176.1 L1204.0,1174.9 L1204.7,1172.6 L1205.3,1170.6 L1206.0,1168.6 L1206.6,1167.8 L1207.3,1167.9 L1208.0,1167.1 L1208.6,1165.9 L1209.3,1164.4 L1209.9,1162.5 L1210.6,1160.3 L1211.3,1157.5 L1211.9,1154.5 L1212.6,1151.5 L1213.2,1149.5 L1213.3,1066.1 L1214.5,1066.1 L1214.6,1149.6 L1215.2,1153.1 L1215.9,1154.6 L1216.5,1156.8 L1217.2,1158.0 L1217.9,1160.7 L1218.5,1161.8 L1219.2,1165.0 L1219.8,1167.0 L1220.5,1168.5 L1221.2,1170.4 L1221.8,1171.0 L1222.5,1171.3 L1223.1,1173.3 L1223.8,1175.7 L1224.5,1175.8 L1225.1,1177.5 L1225.8,1179.8 L1226.4,1179.8 L1227.1,1179.9 L1227.8,1181.2 L1228.4,1182.2 L1229.1,1181.5 L1229.8,1183.4 L1230.4,1183.5 L1231.1,1184.3 L1231.7,1185.3 L1232.4,1187.8 L1233.1,1188.2 L1233.7,1189.3 L1234.4,1190.0 L1235.0,1190.3 L1235.7,1191.0 L1236.4,1191.7 L1237.0,1192.7 L1237.7,1194.4 L1238.3,1195.4 L1239.0,1196.0 L1239.7,1196.2 L1240.3,1196.6 L1241.0,1195.6 L1241.6,1196.6 L1242.3,1196.4 L1243.0,1196.6 L1243.6,1197.7 L1244.3,1198.9 L1244.9,1199.3 L1245.6,1199.9 L1246.3,1200.4 L1246.9,1199.4 L1247.6,1199.9 L1248.2,1198.8 L1248.9,1197.9 L1249.6,1197.3 L1250.2,1198.5 L1250.9,1198.7 L1251.5,1199.3 L1252.2,1200.4 L1252.9,1201.5 L1253.5,1201.8 L1254.2,1202.6 L1254.9,1202.7 L1255.5,1202.8 L1256.2,1203.5 L1256.8,1203.8 L1257.5,1204.0 L1258.2,1204.4 L1258.8,1204.3 L1259.5,1202.6 L1260.1,1203.2 L1260.8,1202.3 L1261.5,1201.9 L1262.1,1202.7 L1262.8,1204.0 L1263.4,1203.2 L1264.1,1204.4 L1264.8,1205.2 L1265.4,1204.0 L1266.1,1203.2 L1266.7,1202.7 L1267.4,1203.1 L1268.1,1202.8 L1268.7,1203.2 L1269.4,1204.6 L1270.0,1206.1 L1270.7,1204.9 L1271.4,1205.7 L1272.0,1205.5 L1272.7,1205.6 L1273.3,1204.4 L1274.0,1204.5 L1274.7,1204.6 L1275.3,1205.1 L1276.0,1204.0 L1276.6,1204.5 L1277.3,1205.4 L1278.0,1206.1 L1278.6,1206.5 L1279.3,1206.9 L1280.0,1207.2" fill="none" stroke="#d02048" stroke-width="1.9" stroke-linejoin="round" stroke-opacity="1"/>
<path d="M1147.9,1215.8 L1148.5,1215.4 L1149.2,1215.6 L1149.8,1214.9 L1150.5,1215.1 L1151.2,1215.2 L1151.8,1216.1 L1152.5,1216.0 L1153.1,1216.2 L1153.8,1215.0 L1154.5,1214.9 L1155.1,1213.9 L1155.8,1214.0 L1156.4,1214.6 L1157.1,1215.0 L1157.8,1214.6 L1158.4,1214.8 L1159.1,1215.1 L1159.7,1214.8 L1160.4,1215.0 L1161.1,1215.2 L1161.7,1214.9 L1162.4,1214.4 L1163.0,1214.6 L1163.7,1213.6 L1164.4,1212.9 L1165.0,1213.0 L1165.7,1213.2 L1166.3,1212.7 L1167.0,1213.6 L1167.7,1213.4 L1168.3,1214.2 L1169.0,1213.9 L1169.6,1213.8 L1170.3,1212.8 L1171.0,1213.7 L1171.6,1212.3 L1172.3,1211.9 L1172.9,1211.2 L1173.6,1211.9 L1174.3,1211.6 L1174.9,1211.6 L1175.6,1210.4 L1176.3,1210.8 L1176.9,1210.4 L1177.6,1210.5 L1178.2,1211.2 L1178.9,1211.9 L1179.6,1211.3 L1180.2,1210.7 L1180.9,1210.1 L1181.5,1209.9 L1182.2,1209.4 L1182.9,1209.4 L1183.5,1209.5 L1184.2,1208.3 L1184.8,1207.4 L1185.5,1207.9 L1186.2,1206.7 L1186.8,1205.5 L1187.5,1206.0 L1188.1,1205.1 L1188.8,1204.6 L1189.5,1204.2 L1190.1,1204.9 L1190.8,1203.8 L1191.4,1203.8 L1192.1,1202.1 L1192.8,1202.5 L1193.4,1201.3 L1194.1,1200.6 L1194.7,1200.8 L1195.4,1201.3 L1196.1,1200.3 L1196.7,1200.3 L1197.4,1200.9 L1198.0,1200.3 L1198.7,1199.3 L1199.4,1198.4 L1200.0,1197.0 L1200.7,1195.4 L1201.4,1194.4 L1202.0,1193.8 L1202.7,1192.8 L1203.3,1192.2 L1204.0,1191.8 L1204.7,1190.6 L1205.3,1188.5 L1206.0,1186.6 L1206.6,1184.7 L1207.3,1183.2 L1208.0,1181.4 L1208.6,1179.7 L1209.3,1178.2 L1209.9,1176.7 L1210.6,1174.1 L1211.3,1172.3 L1211.9,1170.3 L1212.6,1168.0 L1213.2,1165.2 L1213.3,1126.0 L1214.5,1126.0 L1214.6,1164.5 L1215.2,1166.7 L1215.9,1169.4 L1216.5,1171.5 L1217.2,1174.5 L1217.9,1176.2 L1218.5,1178.1 L1219.2,1180.2 L1219.8,1182.0 L1220.5,1183.6 L1221.2,1185.2 L1221.8,1186.2 L1222.5,1186.9 L1223.1,1188.3 L1223.8,1188.3 L1224.5,1189.1 L1225.1,1190.8 L1225.8,1192.2 L1226.4,1192.7 L1227.1,1194.1 L1227.8,1195.3 L1228.4,1196.3 L1229.1,1197.4 L1229.8,1199.2 L1230.4,1199.8 L1231.1,1200.5 L1231.7,1200.6 L1232.4,1200.8 L1233.1,1201.1 L1233.7,1201.8 L1234.4,1202.7 L1235.0,1203.0 L1235.7,1203.2 L1236.4,1203.8 L1237.0,1204.4 L1237.7,1204.0 L1238.3,1204.4 L1239.0,1204.7 L1239.7,1204.3 L1240.3,1204.2 L1241.0,1205.2 L1241.6,1206.3 L1242.3,1206.9 L1243.0,1208.4 L1243.6,1209.0 L1244.3,1209.0 L1244.9,1208.8 L1245.6,1209.2 L1246.3,1208.2 L1246.9,1208.2 L1247.6,1208.4 L1248.2,1209.4 L1248.9,1208.8 L1249.6,1209.4 L1250.2,1209.8 L1250.9,1210.5 L1251.5,1210.7 L1252.2,1211.9 L1252.9,1211.8 L1253.5,1212.2 L1254.2,1211.7 L1254.9,1211.2 L1255.5,1210.5 L1256.2,1211.5 L1256.8,1212.0 L1257.5,1211.8 L1258.2,1212.7 L1258.8,1212.5 L1259.5,1212.5 L1260.1,1212.9 L1260.8,1214.0 L1261.5,1213.2 L1262.1,1214.2 L1262.8,1214.6 L1263.4,1214.7 L1264.1,1215.1 L1264.8,1215.5 L1265.4,1215.7 L1266.1,1215.1 L1266.7,1215.1 L1267.4,1214.9 L1268.1,1215.0 L1268.7,1215.2 L1269.4,1215.3 L1270.0,1215.2 L1270.7,1214.6 L1271.4,1214.6 L1272.0,1214.6 L1272.7,1214.6 L1273.3,1214.6 L1274.0,1214.5 L1274.7,1214.5 L1275.3,1214.7 L1276.0,1214.6 L1276.6,1214.3 L1277.3,1214.5 L1278.0,1214.6 L1278.6,1213.9 L1279.3,1214.4 L1280.0,1214.8" fill="none" stroke="#48dc34" stroke-width="1.9" stroke-linejoin="round" stroke-opacity="1"/>
<line x1="1147.9" y1="1250.3" x2="1147.9" y2="1253.3" stroke="#8a8a8a" stroke-width="1.2"/>
<line x1="1213.9" y1="1250.3" x2="1213.9" y2="1253.3" stroke="#8a8a8a" stroke-width="1.2"/>
<line x1="1280" y1="1250.3" x2="1280" y2="1253.3" stroke="#8a8a8a" stroke-width="1.2"/>
<text x="1136.54" y="1278.34" font-size="16.48" fill="#222" textLength="24.44" lengthAdjust="spacingAndGlyphs">-10</text>
<text x="1207.26" y="1278.34" font-size="16.48" fill="#222" textLength="10.30" lengthAdjust="spacingAndGlyphs">0</text>
<text x="1269.38" y="1278.34" font-size="16.48" fill="#222" textLength="19.56" lengthAdjust="spacingAndGlyphs">10</text>
<line x1="1137" y1="1241.1" x2="1140" y2="1241.1" stroke="#8a8a8a" stroke-width="1.2"/>
<text x="1107.58" y="1245.76" font-size="13.52" fill="#222" textLength="21.44" lengthAdjust="spacingAndGlyphs">0.0</text>
<line x1="1137" y1="1195" x2="1140" y2="1195" stroke="#8a8a8a" stroke-width="1.2"/>
<text x="1107.58" y="1199.71" font-size="13.52" fill="#222" textLength="21.52" lengthAdjust="spacingAndGlyphs">0.1</text>
<line x1="1137" y1="1149" x2="1140" y2="1149" stroke="#8a8a8a" stroke-width="1.2"/>
<text x="1107.58" y="1153.66" font-size="13.52" fill="#222" textLength="21.60" lengthAdjust="spacingAndGlyphs">0.2</text>
<line x1="1137" y1="1102.9" x2="1140" y2="1102.9" stroke="#8a8a8a" stroke-width="1.2"/>
<text x="1107.58" y="1107.61" font-size="13.52" fill="#222" textLength="21.52" lengthAdjust="spacingAndGlyphs">0.3</text>
<line x1="1137" y1="1056.9" x2="1140" y2="1056.9" stroke="#8a8a8a" stroke-width="1.2"/>
<text x="1107.59" y="1061.56" font-size="13.52" fill="#222" textLength="21.27" lengthAdjust="spacingAndGlyphs">0.4</text>
<text x="1186.40" y="1006.10" font-size="18.12" fill="#222" textLength="58.37" lengthAdjust="spacingAndGlyphs">MED17</text>
<rect x="1334.3" y="1026" width="146.2" height="224.3" fill="none" stroke="#8a8a8a" stroke-width="1.6"/>
<path d="M1341.8,1186.0 L1342.4,1187.1 L1343.1,1188.3 L1343.7,1190.4 L1344.4,1191.2 L1345.1,1189.9 L1345.7,1188.4 L1346.4,1186.6 L1347.0,1186.3 L1347.7,1186.4 L1348.4,1187.7 L1349.0,1187.8 L1349.7,1190.0 L1350.3,1187.9 L1351.0,1186.3 L1351.7,1183.5 L1352.3,1183.8 L1353.0,1181.2 L1353.6,1182.5 L1354.3,1181.8 L1355.0,1182.3 L1355.6,1182.2 L1356.3,1184.1 L1356.9,1185.1 L1357.6,1185.4 L1358.3,1186.4 L1358.9,1185.3 L1359.6,1186.2 L1360.2,1186.1 L1360.9,1185.7 L1361.6,1186.3 L1362.2,1185.2 L1362.9,1183.0 L1363.5,1182.5 L1364.2,1182.2 L1364.9,1180.6 L1365.5,1181.9 L1366.2,1180.9 L1366.8,1178.5 L1367.5,1178.5 L1368.2,1178.2 L1368.8,1177.6 L1369.5,1178.8 L1370.2,1180.4 L1370.8,1181.1 L1371.5,1182.4 L1372.1,1183.5 L1372.8,1182.9 L1373.5,1181.2 L1374.1,1182.3 L1374.8,1183.1 L1375.4,1182.1 L1376.1,1182.4 L1376.8,1184.5 L1377.4,1182.2 L1378.1,1181.9 L1378.7,1180.5 L1379.4,1179.8 L1380.1,1176.9 L1380.7,1177.3 L1381.4,1175.6 L1382.0,1176.9 L1382.7,1176.1 L1383.4,1176.5 L1384.0,1178.1 L1384.7,1178.4 L1385.3,1177.5 L1386.0,1177.3 L1386.7,1177.7 L1387.3,1176.5 L1388.0,1175.0 L1388.6,1176.2 L1389.3,1178.4 L1390.0,1177.0 L1390.6,1176.9 L1391.3,1178.2 L1391.9,1177.4 L1392.6,1174.8 L1393.3,1175.4 L1393.9,1173.2 L1394.6,1170.3 L1395.3,1170.1 L1395.9,1171.2 L1396.6,1169.4 L1397.2,1168.0 L1397.9,1166.7 L1398.6,1165.5 L1399.2,1161.9 L1399.9,1160.1 L1400.5,1158.0 L1401.2,1158.4 L1401.9,1156.8 L1402.5,1155.5 L1403.2,1153.9 L1403.8,1154.4 L1404.5,1150.5 L1405.2,1147.9 L1405.8,1144.2 L1406.5,1141.7 L1407.1,1136.5 L1407.2,1115.0 L1408.4,1115.0 L1408.5,1137.8 L1409.1,1141.1 L1409.8,1145.1 L1410.4,1148.5 L1411.1,1149.7 L1411.8,1151.8 L1412.4,1153.4 L1413.1,1154.8 L1413.7,1157.2 L1414.4,1158.4 L1415.1,1159.1 L1415.7,1161.8 L1416.4,1163.2 L1417.0,1164.4 L1417.7,1167.2 L1418.4,1170.3 L1419.0,1173.2 L1419.7,1175.0 L1420.3,1175.3 L1421.0,1175.3 L1421.7,1173.6 L1422.3,1172.5 L1423.0,1172.6 L1423.7,1173.3 L1424.3,1176.0 L1425.0,1178.4 L1425.6,1180.5 L1426.3,1180.6 L1427.0,1180.6 L1427.6,1179.9 L1428.3,1180.3 L1428.9,1178.7 L1429.6,1181.3 L1430.3,1182.8 L1430.9,1182.5 L1431.6,1182.6 L1432.2,1185.3 L1432.9,1184.1 L1433.6,1185.3 L1434.2,1185.5 L1434.9,1187.8 L1435.5,1188.6 L1436.2,1189.5 L1436.9,1190.5 L1437.5,1192.4 L1438.2,1190.1 L1438.8,1189.9 L1439.5,1188.6 L1440.2,1189.0 L1440.8,1189.2 L1441.5,1189.6 L1442.1,1187.8 L1442.8,1188.9 L1443.5,1187.5 L1444.1,1186.8 L1444.8,1185.6 L1445.4,1186.2 L1446.1,1186.5 L1446.8,1186.2 L1447.4,1187.1 L1448.1,1187.1 L1448.8,1188.1 L1449.4,1187.6 L1450.1,1186.7 L1450.7,1185.3 L1451.4,1186.3 L1452.1,1183.8 L1452.7,1184.0 L1453.4,1183.7 L1454.0,1182.9 L1454.7,1184.1 L1455.4,1185.7 L1456.0,1184.4 L1456.7,1186.1 L1457.3,1188.1 L1458.0,1186.8 L1458.7,1185.2 L1459.3,1184.6 L1460.0,1185.0 L1460.6,1185.4 L1461.3,1185.3 L1462.0,1187.7 L1462.6,1190.0 L1463.3,1188.0 L1463.9,1186.8 L1464.6,1186.0 L1465.3,1186.2 L1465.9,1183.7 L1466.6,1182.8 L1467.2,1182.8 L1467.9,1183.8 L1468.6,1183.7 L1469.2,1185.3 L1469.9,1186.0 L1470.5,1186.8 L1471.2,1188.3 L1471.9,1187.5 L1472.5,1188.2 L1473.2,1189.8 L1473.9,1189.6" fill="none" stroke="#000000" stroke-width="1.9" stroke-linejoin="round" stroke-opacity="1"/>
<path d="M1341.8,1184.1 L1342.4,1183.7 L1343.1,1183.3 L1343.7,1182.2 L1344.4,1182.4 L1345.1,1182.1 L1345.7,1183.7 L1346.4,1184.0 L1347.0,1183.1 L1347.7,1183.0 L1348.4,1182.4 L1349.0,1180.6 L1349.7,1180.8 L1350.3,1179.7 L1351.0,1181.6 L1351.7,1183.6 L1352.3,1183.5 L1353.0,1183.2 L1353.6,1183.0 L1354.3,1181.2 L1355.0,1179.9 L1355.6,1179.0 L1356.3,1180.6 L1356.9,1182.7 L1357.6,1181.8 L1358.3,1181.1 L1358.9,1181.8 L1359.6,1180.4 L1360.2,1180.8 L1360.9,1182.6 L1361.6,1184.0 L1362.2,1185.1 L1362.9,1185.1 L1363.5,1184.8 L1364.2,1183.2 L1364.9,1183.3 L1365.5,1183.9 L1366.2,1183.6 L1366.8,1182.9 L1367.5,1184.6 L1368.2,1182.6 L1368.8,1177.9 L1369.5,1176.6 L1370.2,1174.2 L1370.8,1173.8 L1371.5,1174.2 L1372.1,1174.9 L1372.8,1176.6 L1373.5,1178.5 L1374.1,1178.0 L1374.8,1178.0 L1375.4,1176.6 L1376.1,1174.0 L1376.8,1171.8 L1377.4,1172.4 L1378.1,1172.8 L1378.7,1171.8 L1379.4,1171.6 L1380.1,1172.3 L1380.7,1171.5 L1381.4,1171.7 L1382.0,1174.1 L1382.7,1173.6 L1383.4,1172.5 L1384.0,1170.9 L1384.7,1168.7 L1385.3,1167.3 L1386.0,1168.2 L1386.7,1169.4 L1387.3,1168.4 L1388.0,1167.9 L1388.6,1166.6 L1389.3,1167.2 L1390.0,1167.1 L1390.6,1168.8 L1391.3,1167.6 L1391.9,1165.9 L1392.6,1163.5 L1393.3,1160.5 L1393.9,1158.5 L1394.6,1158.6 L1395.3,1160.0 L1395.9,1158.4 L1396.6,1159.7 L1397.2,1157.5 L1397.9,1155.2 L1398.6,1154.2 L1399.2,1153.8 L1399.9,1151.4 L1400.5,1150.0 L1401.2,1151.0 L1401.9,1148.6 L1402.5,1147.6 L1403.2,1146.5 L1403.8,1146.5 L1404.5,1144.7 L1405.2,1143.0 L1405.8,1141.0 L1406.5,1138.3 L1407.1,1137.4 L1407.2,1102.4 L1408.4,1102.4 L1408.5,1134.9 L1409.1,1137.5 L1409.8,1138.5 L1410.4,1137.4 L1411.1,1141.6 L1411.8,1143.7 L1412.4,1146.0 L1413.1,1147.8 L1413.7,1150.3 L1414.4,1151.4 L1415.1,1152.2 L1415.7,1151.2 L1416.4,1152.9 L1417.0,1154.7 L1417.7,1155.8 L1418.4,1158.6 L1419.0,1161.2 L1419.7,1161.3 L1420.3,1162.1 L1421.0,1163.2 L1421.7,1163.8 L1422.3,1162.7 L1423.0,1163.0 L1423.7,1164.7 L1424.3,1163.4 L1425.0,1164.3 L1425.6,1165.2 L1426.3,1167.5 L1427.0,1166.8 L1427.6,1167.1 L1428.3,1165.8 L1428.9,1167.2 L1429.6,1167.6 L1430.3,1167.1 L1430.9,1167.7 L1431.6,1168.2 L1432.2,1170.3 L1432.9,1170.7 L1433.6,1170.6 L1434.2,1172.2 L1434.9,1174.4 L1435.5,1172.7 L1436.2,1172.2 L1436.9,1173.9 L1437.5,1173.8 L1438.2,1174.1 L1438.8,1173.7 L1439.5,1174.9 L1440.2,1176.8 L1440.8,1178.8 L1441.5,1176.3 L1442.1,1178.8 L1442.8,1177.5 L1443.5,1176.1 L1444.1,1174.1 L1444.8,1177.1 L1445.4,1175.5 L1446.1,1176.8 L1446.8,1176.6 L1447.4,1180.5 L1448.1,1180.1 L1448.8,1180.3 L1449.4,1180.8 L1450.1,1180.6 L1450.7,1179.7 L1451.4,1179.4 L1452.1,1181.8 L1452.7,1182.5 L1453.4,1184.2 L1454.0,1186.0 L1454.7,1184.6 L1455.4,1183.6 L1456.0,1183.2 L1456.7,1184.1 L1457.3,1183.5 L1458.0,1185.3 L1458.7,1184.4 L1459.3,1183.8 L1460.0,1181.9 L1460.6,1181.1 L1461.3,1179.2 L1462.0,1180.3 L1462.6,1182.3 L1463.3,1183.6 L1463.9,1185.2 L1464.6,1185.6 L1465.3,1186.4 L1465.9,1185.0 L1466.6,1183.1 L1467.2,1182.4 L1467.9,1183.1 L1468.6,1183.5 L1469.2,1183.0 L1469.9,1182.7 L1470.5,1184.2 L1471.2,1185.7 L1471.9,1184.1 L1472.5,1185.8 L1473.2,1188.5 L1473.9,1188.3" fill="none" stroke="#d02048" stroke-width="1.9" stroke-linejoin="round" stroke-opacity="1"/>
<path d="M1341.8,1187.5 L1342.4,1188.0 L1343.1,1190.3 L1343.7,1189.9 L1344.4,1187.5 L1345.1,1187.5 L1345.7,1186.3 L1346.4,1186.0 L1347.0,1187.7 L1347.7,1189.4 L1348.4,1190.5 L1349.0,1190.0 L1349.7,1189.9 L1350.3,1188.9 L1351.0,1189.4 L1351.7,1189.0 L1352.3,1190.0 L1353.0,1189.0 L1353.6,1189.4 L1354.3,1188.0 L1355.0,1186.9 L1355.6,1187.3 L1356.3,1187.1 L1356.9,1187.5 L1357.6,1187.1 L1358.3,1186.5 L1358.9,1184.4 L1359.6,1183.5 L1360.2,1182.2 L1360.9,1181.4 L1361.6,1181.5 L1362.2,1182.1 L1362.9,1184.1 L1363.5,1185.3 L1364.2,1187.0 L1364.9,1186.3 L1365.5,1185.6 L1366.2,1183.6 L1366.8,1182.3 L1367.5,1182.3 L1368.2,1183.5 L1368.8,1183.3 L1369.5,1184.6 L1370.2,1183.5 L1370.8,1182.2 L1371.5,1181.7 L1372.1,1183.2 L1372.8,1183.0 L1373.5,1184.4 L1374.1,1183.7 L1374.8,1184.7 L1375.4,1184.2 L1376.1,1183.1 L1376.8,1182.8 L1377.4,1184.2 L1378.1,1181.5 L1378.7,1181.4 L1379.4,1180.3 L1380.1,1179.3 L1380.7,1177.7 L1381.4,1178.9 L1382.0,1178.0 L1382.7,1179.1 L1383.4,1178.1 L1384.0,1179.3 L1384.7,1178.9 L1385.3,1178.2 L1386.0,1176.6 L1386.7,1178.1 L1387.3,1175.5 L1388.0,1175.8 L1388.6,1176.1 L1389.3,1176.9 L1390.0,1176.0 L1390.6,1175.6 L1391.3,1175.0 L1391.9,1174.3 L1392.6,1173.4 L1393.3,1171.2 L1393.9,1172.5 L1394.6,1170.5 L1395.3,1168.3 L1395.9,1168.6 L1396.6,1168.6 L1397.2,1165.3 L1397.9,1165.4 L1398.6,1165.8 L1399.2,1163.1 L1399.9,1161.0 L1400.5,1160.7 L1401.2,1159.1 L1401.9,1156.3 L1402.5,1154.3 L1403.2,1154.1 L1403.8,1152.8 L1404.5,1151.4 L1405.2,1149.1 L1405.8,1146.9 L1406.5,1143.4 L1407.1,1140.8 L1407.2,1035.1 L1408.4,1035.1 L1408.5,1142.4 L1409.1,1146.1 L1409.8,1148.4 L1410.4,1149.9 L1411.1,1150.3 L1411.8,1151.3 L1412.4,1152.4 L1413.1,1154.5 L1413.7,1156.4 L1414.4,1158.2 L1415.1,1159.2 L1415.7,1159.7 L1416.4,1159.8 L1417.0,1161.3 L1417.7,1162.1 L1418.4,1163.8 L1419.0,1165.6 L1419.7,1167.5 L1420.3,1168.9 L1421.0,1170.6 L1421.7,1170.6 L1422.3,1171.2 L1423.0,1171.2 L1423.7,1171.2 L1424.3,1170.6 L1425.0,1171.0 L1425.6,1170.8 L1426.3,1171.6 L1427.0,1172.0 L1427.6,1173.7 L1428.3,1176.3 L1428.9,1179.0 L1429.6,1179.2 L1430.3,1178.7 L1430.9,1179.8 L1431.6,1180.0 L1432.2,1180.0 L1432.9,1180.0 L1433.6,1181.9 L1434.2,1180.6 L1434.9,1181.1 L1435.5,1179.4 L1436.2,1180.9 L1436.9,1180.0 L1437.5,1180.4 L1438.2,1180.0 L1438.8,1181.6 L1439.5,1180.8 L1440.2,1181.9 L1440.8,1182.2 L1441.5,1183.1 L1442.1,1184.2 L1442.8,1185.2 L1443.5,1184.0 L1444.1,1185.3 L1444.8,1185.2 L1445.4,1183.7 L1446.1,1184.6 L1446.8,1185.1 L1447.4,1184.9 L1448.1,1184.9 L1448.8,1185.6 L1449.4,1185.5 L1450.1,1185.5 L1450.7,1184.3 L1451.4,1183.9 L1452.1,1183.9 L1452.7,1183.9 L1453.4,1185.0 L1454.0,1185.0 L1454.7,1184.6 L1455.4,1184.7 L1456.0,1184.0 L1456.7,1183.1 L1457.3,1185.0 L1458.0,1185.5 L1458.7,1184.8 L1459.3,1184.5 L1460.0,1184.7 L1460.6,1185.4 L1461.3,1184.4 L1462.0,1185.3 L1462.6,1185.3 L1463.3,1186.7 L1463.9,1185.2 L1464.6,1185.4 L1465.3,1186.3 L1465.9,1187.7 L1466.6,1188.0 L1467.2,1187.9 L1467.9,1190.1 L1468.6,1189.5 L1469.2,1189.4 L1469.9,1189.2 L1470.5,1188.7 L1471.2,1186.4 L1471.9,1187.1 L1472.5,1186.8 L1473.2,1187.0 L1473.9,1189.2" fill="none" stroke="#48dc34" stroke-width="1.9" stroke-linejoin="round" stroke-opacity="1"/>
<line x1="1341.8" y1="1250.3" x2="1341.8" y2="1253.3" stroke="#8a8a8a" stroke-width="1.2"/>
<line x1="1407.8" y1="1250.3" x2="1407.8" y2="1253.3" stroke="#8a8a8a" stroke-width="1.2"/>
<line x1="1473.9" y1="1250.3" x2="1473.9" y2="1253.3" stroke="#8a8a8a" stroke-width="1.2"/>
<text x="1330.62" y="1278.34" font-size="16.48" fill="#222" textLength="25.08" lengthAdjust="spacingAndGlyphs">-10</text>
<text x="1402.91" y="1278.34" font-size="16.48" fill="#222" textLength="9.60" lengthAdjust="spacingAndGlyphs">0</text>
<text x="1465.03" y="1278.34" font-size="16.48" fill="#222" textLength="18.89" lengthAdjust="spacingAndGlyphs">10</text>
<line x1="1331.3" y1="1241.1" x2="1334.3" y2="1241.1" stroke="#8a8a8a" stroke-width="1.2"/>
<text x="1300.18" y="1245.76" font-size="13.52" fill="#222" textLength="21.44" lengthAdjust="spacingAndGlyphs">0.0</text>
<line x1="1331.3" y1="1199.1" x2="1334.3" y2="1199.1" stroke="#8a8a8a" stroke-width="1.2"/>
<text x="1296.09" y="1203.72" font-size="13.52" fill="#222" textLength="29.64" lengthAdjust="spacingAndGlyphs">0.05</text>
<line x1="1331.3" y1="1157" x2="1334.3" y2="1157" stroke="#8a8a8a" stroke-width="1.2"/>
<text x="1300.18" y="1161.68" font-size="13.52" fill="#222" textLength="21.52" lengthAdjust="spacingAndGlyphs">0.1</text>
<line x1="1331.3" y1="1115" x2="1334.3" y2="1115" stroke="#8a8a8a" stroke-width="1.2"/>
<text x="1296.09" y="1119.64" font-size="13.52" fill="#222" textLength="29.64" lengthAdjust="spacingAndGlyphs">0.15</text>
<line x1="1331.3" y1="1072.9" x2="1334.3" y2="1072.9" stroke="#8a8a8a" stroke-width="1.2"/>
<text x="1300.18" y="1077.60" font-size="13.52" fill="#222" textLength="21.60" lengthAdjust="spacingAndGlyphs">0.2</text>
<line x1="1331.3" y1="1030.9" x2="1334.3" y2="1030.9" stroke="#8a8a8a" stroke-width="1.2"/>
<text x="1296.09" y="1035.56" font-size="13.52" fill="#222" textLength="29.64" lengthAdjust="spacingAndGlyphs">0.25</text>
<text x="1388.22" y="1005.42" font-size="17.96" fill="#222" textLength="39.30" lengthAdjust="spacingAndGlyphs">Pol II</text>
<rect x="1529.3" y="1026" width="146.2" height="224.3" fill="none" stroke="#8a8a8a" stroke-width="1.6"/>
<path d="M1536.8,1226.1 L1537.4,1226.6 L1538.1,1225.6 L1538.7,1225.6 L1539.4,1224.4 L1540.1,1224.4 L1540.7,1224.5 L1541.4,1225.4 L1542.0,1224.7 L1542.7,1225.1 L1543.4,1225.4 L1544.0,1224.8 L1544.7,1224.1 L1545.3,1224.6 L1546.0,1225.2 L1546.7,1225.3 L1547.3,1225.1 L1548.0,1224.2 L1548.6,1223.4 L1549.3,1223.5 L1550.0,1223.0 L1550.6,1222.9 L1551.3,1224.6 L1551.9,1224.8 L1552.6,1223.9 L1553.3,1223.5 L1553.9,1224.4 L1554.6,1224.3 L1555.2,1225.3 L1555.9,1224.8 L1556.6,1224.2 L1557.2,1223.7 L1557.9,1223.1 L1558.5,1221.9 L1559.2,1222.6 L1559.9,1223.5 L1560.5,1222.9 L1561.2,1222.8 L1561.8,1222.5 L1562.5,1222.2 L1563.2,1222.1 L1563.8,1222.2 L1564.5,1221.7 L1565.2,1222.0 L1565.8,1221.6 L1566.5,1220.8 L1567.1,1220.9 L1567.8,1220.1 L1568.5,1220.8 L1569.1,1221.3 L1569.8,1221.0 L1570.4,1221.5 L1571.1,1222.9 L1571.8,1221.2 L1572.4,1221.4 L1573.1,1222.0 L1573.7,1220.6 L1574.4,1219.5 L1575.1,1220.6 L1575.7,1219.2 L1576.4,1219.2 L1577.0,1220.4 L1577.7,1220.7 L1578.4,1220.4 L1579.0,1221.3 L1579.7,1220.3 L1580.3,1218.9 L1581.0,1218.2 L1581.7,1216.8 L1582.3,1216.7 L1583.0,1217.0 L1583.6,1217.2 L1584.3,1216.1 L1585.0,1217.1 L1585.6,1216.6 L1586.3,1215.0 L1586.9,1215.3 L1587.6,1215.3 L1588.3,1213.6 L1588.9,1212.9 L1589.6,1213.7 L1590.3,1213.2 L1590.9,1213.1 L1591.6,1212.7 L1592.2,1212.8 L1592.9,1212.4 L1593.6,1211.5 L1594.2,1210.7 L1594.9,1211.3 L1595.5,1209.7 L1596.2,1208.5 L1596.9,1206.7 L1597.5,1206.6 L1598.2,1205.0 L1598.8,1204.5 L1599.5,1203.8 L1600.2,1204.1 L1600.8,1202.9 L1601.5,1201.8 L1602.1,1200.6 L1602.2,1038.2 L1603.4,1038.2 L1603.5,1200.3 L1604.1,1201.5 L1604.8,1203.6 L1605.4,1204.5 L1606.1,1205.1 L1606.8,1207.0 L1607.4,1207.3 L1608.1,1207.4 L1608.7,1207.9 L1609.4,1208.7 L1610.1,1209.3 L1610.7,1210.6 L1611.4,1210.8 L1612.0,1212.0 L1612.7,1212.8 L1613.4,1212.9 L1614.0,1213.4 L1614.7,1215.1 L1615.3,1214.7 L1616.0,1215.0 L1616.7,1214.1 L1617.3,1214.7 L1618.0,1213.3 L1618.7,1213.8 L1619.3,1214.6 L1620.0,1215.0 L1620.6,1214.4 L1621.3,1215.2 L1622.0,1216.5 L1622.6,1216.1 L1623.3,1217.4 L1623.9,1218.8 L1624.6,1219.7 L1625.3,1220.2 L1625.9,1220.0 L1626.6,1220.4 L1627.2,1219.1 L1627.9,1218.3 L1628.6,1218.2 L1629.2,1219.5 L1629.9,1219.0 L1630.5,1220.1 L1631.2,1220.7 L1631.9,1221.1 L1632.5,1220.5 L1633.2,1221.3 L1633.8,1220.4 L1634.5,1220.7 L1635.2,1220.3 L1635.8,1220.6 L1636.5,1219.4 L1637.1,1220.4 L1637.8,1220.5 L1638.5,1219.9 L1639.1,1219.9 L1639.8,1221.2 L1640.4,1221.7 L1641.1,1222.1 L1641.8,1222.4 L1642.4,1223.1 L1643.1,1223.3 L1643.8,1223.6 L1644.4,1224.1 L1645.1,1224.7 L1645.7,1225.1 L1646.4,1224.0 L1647.1,1222.8 L1647.7,1221.6 L1648.4,1221.5 L1649.0,1221.0 L1649.7,1222.4 L1650.4,1224.1 L1651.0,1224.8 L1651.7,1225.3 L1652.3,1224.5 L1653.0,1224.2 L1653.7,1222.6 L1654.3,1223.1 L1655.0,1222.4 L1655.6,1224.0 L1656.3,1224.0 L1657.0,1225.6 L1657.6,1225.5 L1658.3,1226.0 L1658.9,1224.9 L1659.6,1224.9 L1660.3,1225.0 L1660.9,1225.5 L1661.6,1224.7 L1662.2,1225.2 L1662.9,1225.6 L1663.6,1224.4 L1664.2,1224.2 L1664.9,1224.9 L1665.5,1224.9 L1666.2,1224.5 L1666.9,1225.2 L1667.5,1225.1 L1668.2,1225.2 L1668.9,1224.2" fill="none" stroke="#000000" stroke-width="1.9" stroke-linejoin="round" stroke-opacity="1"/>
<path d="M1536.8,1228.3 L1537.4,1227.3 L1538.1,1226.8 L1538.7,1226.4 L1539.4,1226.6 L1540.1,1226.8 L1540.7,1226.6 L1541.4,1226.0 L1542.0,1226.4 L1542.7,1227.3 L1543.4,1226.4 L1544.0,1226.5 L1544.7,1225.9 L1545.3,1226.1 L1546.0,1225.8 L1546.7,1224.9 L1547.3,1225.8 L1548.0,1226.1 L1548.6,1225.1 L1549.3,1224.4 L1550.0,1224.8 L1550.6,1225.1 L1551.3,1224.6 L1551.9,1224.2 L1552.6,1223.8 L1553.3,1223.7 L1553.9,1222.2 L1554.6,1223.0 L1555.2,1224.2 L1555.9,1225.2 L1556.6,1225.9 L1557.2,1225.7 L1557.9,1226.2 L1558.5,1226.2 L1559.2,1225.0 L1559.9,1223.9 L1560.5,1224.5 L1561.2,1224.1 L1561.8,1223.8 L1562.5,1224.4 L1563.2,1224.4 L1563.8,1223.9 L1564.5,1224.3 L1565.2,1223.6 L1565.8,1224.4 L1566.5,1224.0 L1567.1,1224.0 L1567.8,1224.0 L1568.5,1223.0 L1569.1,1222.6 L1569.8,1223.0 L1570.4,1223.6 L1571.1,1223.5 L1571.8,1223.9 L1572.4,1222.7 L1573.1,1223.5 L1573.7,1222.3 L1574.4,1221.3 L1575.1,1222.3 L1575.7,1223.2 L1576.4,1223.4 L1577.0,1223.1 L1577.7,1223.2 L1578.4,1222.7 L1579.0,1222.8 L1579.7,1221.5 L1580.3,1222.7 L1581.0,1222.5 L1581.7,1221.8 L1582.3,1221.2 L1583.0,1220.8 L1583.6,1219.9 L1584.3,1219.7 L1585.0,1218.5 L1585.6,1217.8 L1586.3,1217.5 L1586.9,1218.0 L1587.6,1217.6 L1588.3,1217.4 L1588.9,1216.1 L1589.6,1216.5 L1590.3,1214.7 L1590.9,1214.4 L1591.6,1214.4 L1592.2,1215.0 L1592.9,1213.5 L1593.6,1213.7 L1594.2,1213.8 L1594.9,1213.0 L1595.5,1212.9 L1596.2,1212.5 L1596.9,1211.8 L1597.5,1210.6 L1598.2,1211.6 L1598.8,1209.7 L1599.5,1210.1 L1600.2,1209.5 L1600.8,1208.5 L1601.5,1206.5 L1602.1,1206.5 L1602.2,1063.1 L1603.4,1063.1 L1603.5,1205.4 L1604.1,1207.0 L1604.8,1208.8 L1605.4,1209.9 L1606.1,1210.8 L1606.8,1211.3 L1607.4,1211.5 L1608.1,1212.4 L1608.7,1212.5 L1609.4,1213.8 L1610.1,1214.0 L1610.7,1213.7 L1611.4,1213.7 L1612.0,1213.6 L1612.7,1213.2 L1613.4,1213.7 L1614.0,1214.8 L1614.7,1215.2 L1615.3,1215.5 L1616.0,1216.5 L1616.7,1217.1 L1617.3,1217.3 L1618.0,1216.8 L1618.7,1217.6 L1619.3,1216.6 L1620.0,1217.9 L1620.6,1217.8 L1621.3,1218.2 L1622.0,1219.1 L1622.6,1219.8 L1623.3,1219.6 L1623.9,1219.3 L1624.6,1219.8 L1625.3,1220.2 L1625.9,1220.7 L1626.6,1220.9 L1627.2,1222.0 L1627.9,1221.7 L1628.6,1220.7 L1629.2,1220.7 L1629.9,1220.0 L1630.5,1219.7 L1631.2,1220.2 L1631.9,1221.6 L1632.5,1221.4 L1633.2,1222.3 L1633.8,1223.0 L1634.5,1224.0 L1635.2,1224.2 L1635.8,1225.1 L1636.5,1225.1 L1637.1,1224.7 L1637.8,1225.0 L1638.5,1224.3 L1639.1,1224.9 L1639.8,1225.3 L1640.4,1226.0 L1641.1,1224.7 L1641.8,1225.5 L1642.4,1224.9 L1643.1,1225.0 L1643.8,1225.4 L1644.4,1226.2 L1645.1,1225.1 L1645.7,1226.0 L1646.4,1225.9 L1647.1,1224.5 L1647.7,1224.7 L1648.4,1225.3 L1649.0,1225.3 L1649.7,1225.8 L1650.4,1227.0 L1651.0,1227.4 L1651.7,1227.1 L1652.3,1227.0 L1653.0,1225.8 L1653.7,1226.0 L1654.3,1226.3 L1655.0,1227.3 L1655.6,1227.1 L1656.3,1228.7 L1657.0,1229.0 L1657.6,1227.8 L1658.3,1228.1 L1658.9,1227.3 L1659.6,1226.6 L1660.3,1226.0 L1660.9,1227.3 L1661.6,1226.5 L1662.2,1227.7 L1662.9,1228.4 L1663.6,1227.7 L1664.2,1226.3 L1664.9,1225.9 L1665.5,1226.2 L1666.2,1225.3 L1666.9,1226.5 L1667.5,1226.4 L1668.2,1226.9 L1668.9,1227.0" fill="none" stroke="#d02048" stroke-width="1.9" stroke-linejoin="round" stroke-opacity="1"/>
<path d="M1536.8,1233.1 L1537.4,1233.2 L1538.1,1232.9 L1538.7,1233.1 L1539.4,1233.1 L1540.1,1232.2 L1540.7,1233.1 L1541.4,1233.0 L1542.0,1232.4 L1542.7,1232.0 L1543.4,1232.8 L1544.0,1232.4 L1544.7,1232.5 L1545.3,1232.6 L1546.0,1231.9 L1546.7,1231.1 L1547.3,1231.4 L1548.0,1231.6 L1548.6,1232.1 L1549.3,1232.5 L1550.0,1232.8 L1550.6,1232.2 L1551.3,1232.4 L1551.9,1232.0 L1552.6,1232.4 L1553.3,1232.3 L1553.9,1231.9 L1554.6,1231.2 L1555.2,1230.9 L1555.9,1230.0 L1556.6,1230.2 L1557.2,1230.9 L1557.9,1230.5 L1558.5,1230.4 L1559.2,1230.4 L1559.9,1230.6 L1560.5,1230.2 L1561.2,1230.5 L1561.8,1230.5 L1562.5,1231.5 L1563.2,1231.7 L1563.8,1231.9 L1564.5,1232.6 L1565.2,1233.2 L1565.8,1232.4 L1566.5,1231.6 L1567.1,1231.1 L1567.8,1230.5 L1568.5,1229.5 L1569.1,1229.7 L1569.8,1230.7 L1570.4,1231.2 L1571.1,1230.5 L1571.8,1230.4 L1572.4,1229.9 L1573.1,1229.4 L1573.7,1229.5 L1574.4,1230.0 L1575.1,1230.4 L1575.7,1230.9 L1576.4,1231.2 L1577.0,1231.2 L1577.7,1230.8 L1578.4,1231.3 L1579.0,1231.4 L1579.7,1231.1 L1580.3,1230.9 L1581.0,1231.4 L1581.7,1230.2 L1582.3,1229.8 L1583.0,1229.7 L1583.6,1228.7 L1584.3,1228.7 L1585.0,1229.5 L1585.6,1229.6 L1586.3,1228.8 L1586.9,1228.7 L1587.6,1228.6 L1588.3,1227.3 L1588.9,1226.7 L1589.6,1226.9 L1590.3,1226.6 L1590.9,1226.1 L1591.6,1226.3 L1592.2,1226.3 L1592.9,1225.9 L1593.6,1225.7 L1594.2,1225.3 L1594.9,1224.7 L1595.5,1223.8 L1596.2,1223.1 L1596.9,1222.7 L1597.5,1221.9 L1598.2,1221.5 L1598.8,1220.8 L1599.5,1220.3 L1600.2,1219.8 L1600.8,1219.4 L1601.5,1219.0 L1602.1,1218.1 L1602.2,1096.2 L1603.4,1096.2 L1603.5,1218.6 L1604.1,1219.3 L1604.8,1219.9 L1605.4,1220.6 L1606.1,1221.3 L1606.8,1222.4 L1607.4,1222.3 L1608.1,1222.8 L1608.7,1222.9 L1609.4,1223.5 L1610.1,1223.4 L1610.7,1224.3 L1611.4,1224.8 L1612.0,1225.6 L1612.7,1225.1 L1613.4,1226.1 L1614.0,1226.7 L1614.7,1226.7 L1615.3,1226.6 L1616.0,1227.7 L1616.7,1227.5 L1617.3,1226.7 L1618.0,1227.6 L1618.7,1228.1 L1619.3,1227.9 L1620.0,1228.0 L1620.6,1229.0 L1621.3,1228.6 L1622.0,1228.6 L1622.6,1228.2 L1623.3,1228.4 L1623.9,1227.9 L1624.6,1228.4 L1625.3,1229.1 L1625.9,1229.4 L1626.6,1229.9 L1627.2,1230.3 L1627.9,1230.1 L1628.6,1229.6 L1629.2,1229.7 L1629.9,1229.3 L1630.5,1229.7 L1631.2,1230.2 L1631.9,1230.9 L1632.5,1230.8 L1633.2,1230.7 L1633.8,1230.1 L1634.5,1230.4 L1635.2,1230.5 L1635.8,1231.4 L1636.5,1231.2 L1637.1,1231.2 L1637.8,1231.2 L1638.5,1230.9 L1639.1,1230.1 L1639.8,1230.9 L1640.4,1231.2 L1641.1,1230.6 L1641.8,1230.9 L1642.4,1231.6 L1643.1,1231.4 L1643.8,1231.9 L1644.4,1232.2 L1645.1,1232.2 L1645.7,1231.4 L1646.4,1230.7 L1647.1,1230.4 L1647.7,1230.0 L1648.4,1229.7 L1649.0,1229.7 L1649.7,1229.8 L1650.4,1229.6 L1651.0,1229.5 L1651.7,1229.9 L1652.3,1230.4 L1653.0,1230.3 L1653.7,1230.7 L1654.3,1230.9 L1655.0,1230.3 L1655.6,1230.4 L1656.3,1230.4 L1657.0,1229.9 L1657.6,1230.2 L1658.3,1230.5 L1658.9,1230.2 L1659.6,1231.1 L1660.3,1231.6 L1660.9,1231.3 L1661.6,1231.1 L1662.2,1231.8 L1662.9,1231.6 L1663.6,1231.2 L1664.2,1231.4 L1664.9,1232.2 L1665.5,1231.8 L1666.2,1231.4 L1666.9,1231.5 L1667.5,1231.4 L1668.2,1231.4 L1668.9,1231.0" fill="none" stroke="#48dc34" stroke-width="1.9" stroke-linejoin="round" stroke-opacity="1"/>
<line x1="1536.8" y1="1250.3" x2="1536.8" y2="1253.3" stroke="#8a8a8a" stroke-width="1.2"/>
<line x1="1602.8" y1="1250.3" x2="1602.8" y2="1253.3" stroke="#8a8a8a" stroke-width="1.2"/>
<line x1="1668.9" y1="1250.3" x2="1668.9" y2="1253.3" stroke="#8a8a8a" stroke-width="1.2"/>
<text x="1525.62" y="1278.34" font-size="16.48" fill="#222" textLength="25.08" lengthAdjust="spacingAndGlyphs">-10</text>
<text x="1596.96" y="1278.34" font-size="16.48" fill="#222" textLength="10.30" lengthAdjust="spacingAndGlyphs">0</text>
<text x="1659.73" y="1278.34" font-size="16.48" fill="#222" textLength="18.89" lengthAdjust="spacingAndGlyphs">10</text>
<line x1="1526.3" y1="1241.1" x2="1529.3" y2="1241.1" stroke="#8a8a8a" stroke-width="1.2"/>
<text x="1494.88" y="1245.76" font-size="13.52" fill="#222" textLength="21.44" lengthAdjust="spacingAndGlyphs">0.0</text>
<line x1="1526.3" y1="1199.7" x2="1529.3" y2="1199.7" stroke="#8a8a8a" stroke-width="1.2"/>
<text x="1494.88" y="1204.36" font-size="13.52" fill="#222" textLength="21.52" lengthAdjust="spacingAndGlyphs">0.1</text>
<line x1="1526.3" y1="1158.3" x2="1529.3" y2="1158.3" stroke="#8a8a8a" stroke-width="1.2"/>
<text x="1494.88" y="1162.96" font-size="13.52" fill="#222" textLength="21.60" lengthAdjust="spacingAndGlyphs">0.2</text>
<line x1="1526.3" y1="1116.9" x2="1529.3" y2="1116.9" stroke="#8a8a8a" stroke-width="1.2"/>
<text x="1494.88" y="1121.56" font-size="13.52" fill="#222" textLength="21.52" lengthAdjust="spacingAndGlyphs">0.3</text>
<line x1="1526.3" y1="1075.5" x2="1529.3" y2="1075.5" stroke="#8a8a8a" stroke-width="1.2"/>
<text x="1494.89" y="1080.16" font-size="13.52" fill="#222" textLength="21.27" lengthAdjust="spacingAndGlyphs">0.4</text>
<line x1="1526.3" y1="1034.1" x2="1529.3" y2="1034.1" stroke="#8a8a8a" stroke-width="1.2"/>
<text x="1494.88" y="1038.76" font-size="13.52" fill="#222" textLength="21.44" lengthAdjust="spacingAndGlyphs">0.5</text>
<text x="1580.25" y="1005.66" font-size="14.95" fill="#222" textLength="39.46" lengthAdjust="spacingAndGlyphs">p300</text>
<text x="1282.91" y="1307.57" font-size="15.40" font-weight="bold" fill="#111" textLength="223.69" lengthAdjust="spacingAndGlyphs">Distance to peak center (kb)</text>
<line x1="1711.5" y1="1104.1" x2="1738.5" y2="1104.1" stroke="#000000" stroke-width="3.2" stroke-linecap="round"/>
<line x1="1711.5" y1="1138.5" x2="1738.5" y2="1138.5" stroke="#d02048" stroke-width="3.2" stroke-linecap="round"/>
<line x1="1711.5" y1="1172.6" x2="1738.5" y2="1172.6" stroke="#48dc34" stroke-width="3.2" stroke-linecap="round"/>
<text x="1755.06" y="1110.63" font-size="17.01" font-weight="bold" fill="#111" textLength="59.63" lengthAdjust="spacingAndGlyphs">High Ac</text>
<text x="1758.27" y="1143.84" font-size="16.33" font-weight="bold" fill="#111" textLength="56.16" lengthAdjust="spacingAndGlyphs">Mid Ac</text>
<text x="1758.67" y="1178.23" font-size="17.14" font-weight="bold" fill="#111" textLength="55.76" lengthAdjust="spacingAndGlyphs">Low Ac</text>
<defs><filter id="tex0" x="0" y="0" width="100%" height="100%" color-interpolation-filters="sRGB"><feTurbulence type="fractalNoise" baseFrequency="0.38" numOctaves="2" seed="3" result="n"/><feColorMatrix in="n" type="matrix" values="0 0 0 0 0.000 0 0 0 0 0.000 0 0 0 0 0.000 2.4 0 0 0 -1.15" result="cn"/><feComposite in="cn" in2="SourceGraphic" operator="in"/></filter>
<radialGradient id="cen0" cx="0.5" cy="0" r="0.5" gradientUnits="objectBoundingBox"><stop offset="0" stop-color="#000000" stop-opacity="1"/><stop offset="0.45" stop-color="#000000" stop-opacity="0.45"/><stop offset="1" stop-color="#000000" stop-opacity="0"/></radialGradient>
<filter id="tex1" x="0" y="0" width="100%" height="100%" color-interpolation-filters="sRGB"><feTurbulence type="fractalNoise" baseFrequency="0.38" numOctaves="2" seed="10" result="n"/><feColorMatrix in="n" type="matrix" values="0 0 0 0 0.816 0 0 0 0 0.549 0 0 0 0 0.078 2.4 0 0 0 -1.15" result="cn"/><feComposite in="cn" in2="SourceGraphic" operator="in"/></filter>
<radialGradient id="cen1" cx="0.5" cy="0" r="0.5" gradientUnits="objectBoundingBox"><stop offset="0" stop-color="#d08c14" stop-opacity="1"/><stop offset="0.45" stop-color="#d08c14" stop-opacity="0.45"/><stop offset="1" stop-color="#d08c14" stop-opacity="0"/></radialGradient>
<filter id="tex2" x="0" y="0" width="100%" height="100%" color-interpolation-filters="sRGB"><feTurbulence type="fractalNoise" baseFrequency="0.01 0.45" numOctaves="2" seed="17" result="n"/><feColorMatrix in="n" type="matrix" values="0 0 0 0 0.141 0 0 0 0 0.220 0 0 0 0 0.784 2.6 0 0 0 -1.25" result="cn"/><feComposite in="cn" in2="SourceGraphic" operator="in"/></filter>
<radialGradient id="cen2" cx="0.5" cy="0" r="0.5" gradientUnits="objectBoundingBox"><stop offset="0" stop-color="#2438c8" stop-opacity="1"/><stop offset="0.45" stop-color="#2438c8" stop-opacity="0.45"/><stop offset="1" stop-color="#2438c8" stop-opacity="0"/></radialGradient>
<filter id="tex3" x="0" y="0" width="100%" height="100%" color-interpolation-filters="sRGB"><feTurbulence type="fractalNoise" baseFrequency="0.01 0.45" numOctaves="2" seed="24" result="n"/><feColorMatrix in="n" type="matrix" values="0 0 0 0 0.769 0 0 0 0 0.165 0 0 0 0 0.314 2.6 0 0 0 -1.25" result="cn"/><feComposite in="cn" in2="SourceGraphic" operator="in"/></filter>
<radialGradient id="cen3" cx="0.5" cy="0" r="0.5" gradientUnits="objectBoundingBox"><stop offset="0" stop-color="#c42a50" stop-opacity="1"/><stop offset="0.45" stop-color="#c42a50" stop-opacity="0.45"/><stop offset="1" stop-color="#c42a50" stop-opacity="0"/></radialGradient>
<filter id="tex4" x="0" y="0" width="100%" height="100%" color-interpolation-filters="sRGB"><feTurbulence type="fractalNoise" baseFrequency="0.38" numOctaves="2" seed="31" result="n"/><feColorMatrix in="n" type="matrix" values="0 0 0 0 0.118 0 0 0 0 0.549 0 0 0 0 0.118 2.4 0 0 0 -1.15" result="cn"/><feComposite in="cn" in2="SourceGraphic" operator="in"/></filter>
<radialGradient id="cen4" cx="0.5" cy="0" r="0.5" gradientUnits="objectBoundingBox"><stop offset="0" stop-color="#1e8c1e" stop-opacity="1"/><stop offset="0.45" stop-color="#1e8c1e" stop-opacity="0.45"/><stop offset="1" stop-color="#1e8c1e" stop-opacity="0"/></radialGradient>
<linearGradient id="bg0_0" x1="0" y1="0" x2="0" y2="1"><stop offset="0" stop-color="#e6e6e6"/><stop offset="0.15" stop-color="#e9e9e9"/><stop offset="0.5" stop-color="#eeeeee"/><stop offset="1" stop-color="#f4f4f4"/></linearGradient>
<linearGradient id="bg0_1" x1="0" y1="0" x2="0" y2="1"><stop offset="0" stop-color="#f4e3c7"/><stop offset="0.06" stop-color="#f6e9d2"/><stop offset="0.3" stop-color="#f9f0e0"/><stop offset="1" stop-color="#fcf7ef"/></linearGradient>
<linearGradient id="bg0_2" x1="0" y1="0" x2="0" y2="1"><stop offset="0" stop-color="#bdc3ee"/><stop offset="0.03" stop-color="#d3d7f4"/><stop offset="0.3" stop-color="#e9ebfa"/><stop offset="0.7" stop-color="#f2f3fc"/><stop offset="1" stop-color="#f5f6fd"/></linearGradient>
<linearGradient id="bg0_3" x1="0" y1="0" x2="0" y2="1"><stop offset="0" stop-color="#f6dfe5"/><stop offset="0.05" stop-color="#f8e5ea"/><stop offset="0.3" stop-color="#faecef"/><stop offset="1" stop-color="#fcf3f5"/></linearGradient>
<linearGradient id="bg0_4" x1="0" y1="0" x2="0" y2="1"><stop offset="0" stop-color="#e0efe0"/><stop offset="0.2" stop-color="#e6f2e6"/><stop offset="1" stop-color="#f4f9f4"/></linearGradient>
<linearGradient id="bg1_0" x1="0" y1="0" x2="0" y2="1"><stop offset="0" stop-color="#bababa"/><stop offset="0.05" stop-color="#c9c9c9"/><stop offset="0.2" stop-color="#dbdbdb"/><stop offset="0.5" stop-color="#e9e9e9"/><stop offset="1" stop-color="#f4f4f4"/></linearGradient>
<linearGradient id="bg1_1" x1="0" y1="0" x2="0" y2="1"><stop offset="0" stop-color="#e9ca93"/><stop offset="0.04" stop-color="#efd9b1"/><stop offset="0.1" stop-color="#f4e3c7"/><stop offset="0.3" stop-color="#f7edd9"/><stop offset="0.7" stop-color="#faf4e8"/><stop offset="1" stop-color="#fcf7ef"/></linearGradient>
<linearGradient id="bg1_2" x1="0" y1="0" x2="0" y2="1"><stop offset="0" stop-color="#7784dd"/><stop offset="0.02" stop-color="#9aa3e6"/><stop offset="0.06" stop-color="#bdc3ee"/><stop offset="0.15" stop-color="#daddf6"/><stop offset="0.4" stop-color="#eaecfa"/><stop offset="0.7" stop-color="#f1f2fb"/><stop offset="1" stop-color="#f5f6fd"/></linearGradient>
<linearGradient id="bg1_3" x1="0" y1="0" x2="0" y2="1"><stop offset="0" stop-color="#dc7f96"/><stop offset="0.02" stop-color="#e49fb0"/><stop offset="0.05" stop-color="#edbfca"/><stop offset="0.1" stop-color="#f3d4dc"/><stop offset="0.3" stop-color="#f8e5ea"/><stop offset="0.7" stop-color="#faeef1"/><stop offset="1" stop-color="#fcf3f5"/></linearGradient>
<linearGradient id="bg1_4" x1="0" y1="0" x2="0" y2="1"><stop offset="0" stop-color="#d9ebd9"/><stop offset="0.15" stop-color="#e0efe0"/><stop offset="0.5" stop-color="#ebf5eb"/><stop offset="1" stop-color="#f4f9f4"/></linearGradient>
<linearGradient id="bg2_0" x1="0" y1="0" x2="0" y2="1"><stop offset="0" stop-color="#d1d1d1"/><stop offset="0.15" stop-color="#dedede"/><stop offset="0.5" stop-color="#ebebeb"/><stop offset="1" stop-color="#f4f4f4"/></linearGradient>
<linearGradient id="bg2_1" x1="0" y1="0" x2="0" y2="1"><stop offset="0" stop-color="#f6e8d0"/><stop offset="0.15" stop-color="#f8eedc"/><stop offset="0.5" stop-color="#fbf6ec"/><stop offset="1" stop-color="#fdfaf6"/></linearGradient>
<linearGradient id="bg2_2" x1="0" y1="0" x2="0" y2="1"><stop offset="0" stop-color="#5b6ad6"/><stop offset="0.02" stop-color="#9ca5e6"/><stop offset="0.05" stop-color="#d3d7f4"/><stop offset="0.15" stop-color="#e7e9f9"/><stop offset="0.4" stop-color="#f0f1fb"/><stop offset="1" stop-color="#f5f6fd"/></linearGradient>
<linearGradient id="bg2_3" x1="0" y1="0" x2="0" y2="1"><stop offset="0" stop-color="#ca3f62"/><stop offset="0.025" stop-color="#df8a9f"/><stop offset="0.05" stop-color="#f2d0d8"/><stop offset="0.15" stop-color="#f8e5ea"/><stop offset="0.4" stop-color="#faedf0"/><stop offset="1" stop-color="#fcf3f5"/></linearGradient>
<linearGradient id="bg2_4" x1="0" y1="0" x2="0" y2="1"><stop offset="0" stop-color="#ddeedd"/><stop offset="0.2" stop-color="#e4f1e4"/><stop offset="0.6" stop-color="#eff7ef"/><stop offset="1" stop-color="#f6faf6"/></linearGradient></defs>
<rect x="112.2" y="1245.7" width="14" height="143.3" fill="#000" rx="1.5"/>
<rect x="112.2" y="1395.3" width="14" height="287.3" fill="#df4466" rx="1.5"/>
<rect x="112.2" y="1687" width="14" height="143.5" fill="#5fe04a" rx="1.5"/>
<clipPath id="cc0_0"><rect x="133.3" y="1245.7" width="118.8" height="143" rx="3"/></clipPath>
<g clip-path="url(#cc0_0)"><rect x="133.3" y="1245.7" width="118.8" height="143" fill="url(#bg0_0)"/><rect x="162.7" y="1243.1" width="60" height="257.4" fill="url(#cen0)" opacity="0.05"/><rect x="133.3" y="1245.7" width="118.8" height="143" fill="#fff" filter="url(#tex0)" opacity="0.17"/><line x1="192.7" y1="1245.7" x2="192.7" y2="1388.7" stroke="#333333" stroke-width="1.3" stroke-opacity="0.75"/></g>
<rect x="134.3" y="1388.7" width="116.8" height="4" fill="#b4b4b4"/>
<rect x="133.3" y="1245.7" width="118.8" height="143" rx="3" fill="none" stroke="#555" stroke-width="1.8"/>
<clipPath id="cc0_1"><rect x="260.5" y="1245.7" width="117.9" height="143" rx="3"/></clipPath>
<g clip-path="url(#cc0_1)"><rect x="260.5" y="1245.7" width="117.9" height="143" fill="url(#bg0_1)"/><rect x="297.4" y="1243.1" width="44" height="257.4" fill="url(#cen1)" opacity="0.05"/><rect x="260.5" y="1245.7" width="117.9" height="143" fill="#fff" filter="url(#tex1)" opacity="0.18"/><line x1="319.4" y1="1245.7" x2="319.4" y2="1388.7" stroke="#d8a030" stroke-width="1.3" stroke-opacity="0.9"/></g>
<rect x="261.5" y="1388.7" width="115.9" height="4" fill="#b4b4b4"/>
<rect x="260.5" y="1245.7" width="117.9" height="143" rx="3" fill="none" stroke="#555" stroke-width="1.8"/>
<clipPath id="cc0_2"><rect x="387.2" y="1245.7" width="118" height="143" rx="3"/></clipPath>
<g clip-path="url(#cc0_2)"><rect x="387.2" y="1245.7" width="118" height="143" fill="url(#bg0_2)"/><rect x="421.2" y="1242.6" width="50" height="314.6" fill="url(#cen2)" opacity="0.34"/><rect x="387.2" y="1245.7" width="118" height="143" fill="#fff" filter="url(#tex2)" opacity="0.14"/><line x1="446.2" y1="1245.7" x2="446.2" y2="1388.7" stroke="#4a5ad8" stroke-width="1.3" stroke-opacity="0.55"/></g>
<rect x="388.2" y="1388.7" width="116" height="4" fill="#b4b4b4"/>
<rect x="387.2" y="1245.7" width="118" height="143" rx="3" fill="none" stroke="#555" stroke-width="1.8"/>
<clipPath id="cc0_3"><rect x="514" y="1245.7" width="118.8" height="143" rx="3"/></clipPath>
<g clip-path="url(#cc0_3)"><rect x="514" y="1245.7" width="118.8" height="143" fill="url(#bg0_3)"/><rect x="543.4" y="1243.1" width="60" height="257.4" fill="url(#cen3)" opacity="0.08"/><rect x="514" y="1245.7" width="118.8" height="143" fill="#fff" filter="url(#tex3)" opacity="0.12"/><line x1="573.4" y1="1245.7" x2="573.4" y2="1388.7" stroke="#d06080" stroke-width="1.3" stroke-opacity="0.45"/></g>
<rect x="515" y="1388.7" width="116.8" height="4" fill="#b4b4b4"/>
<rect x="514" y="1245.7" width="118.8" height="143" rx="3" fill="none" stroke="#555" stroke-width="1.8"/>
<clipPath id="cc0_4"><rect x="640.7" y="1245.7" width="119.7" height="143" rx="3"/></clipPath>
<g clip-path="url(#cc0_4)"><rect x="640.7" y="1245.7" width="119.7" height="143" fill="url(#bg0_4)"/><rect x="676.5" y="1243.1" width="48" height="257.4" fill="url(#cen4)" opacity="0.06"/><rect x="640.7" y="1245.7" width="119.7" height="143" fill="#fff" filter="url(#tex4)" opacity="0.18"/><line x1="700.5" y1="1245.7" x2="700.5" y2="1388.7" stroke="#228a22" stroke-width="1.3" stroke-opacity="0.95"/></g>
<rect x="641.7" y="1388.7" width="117.7" height="4" fill="#b4b4b4"/>
<rect x="640.7" y="1245.7" width="119.7" height="143" rx="3" fill="none" stroke="#555" stroke-width="1.8"/>
<clipPath id="cc1_0"><rect x="133.3" y="1394.4" width="118.8" height="287.3" rx="3"/></clipPath>
<g clip-path="url(#cc1_0)"><rect x="133.3" y="1394.4" width="118.8" height="287.3" fill="url(#bg1_0)"/><rect x="162.7" y="1389.2" width="60" height="517.1" fill="url(#cen0)" opacity="0.06"/><rect x="133.3" y="1394.4" width="118.8" height="287.3" fill="#fff" filter="url(#tex0)" opacity="0.20"/><line x1="192.7" y1="1394.4" x2="192.7" y2="1681.7" stroke="#333333" stroke-width="1.3" stroke-opacity="0.75"/></g>
<rect x="134.3" y="1681.7" width="116.8" height="4" fill="#cfcfc8"/>
<rect x="133.3" y="1394.4" width="118.8" height="287.3" rx="3" fill="none" stroke="#555" stroke-width="1.8"/>
<clipPath id="cc1_1"><rect x="260.5" y="1394.4" width="117.9" height="287.3" rx="3"/></clipPath>
<g clip-path="url(#cc1_1)"><rect x="260.5" y="1394.4" width="117.9" height="287.3" fill="url(#bg1_1)"/><rect x="297.4" y="1389.2" width="44" height="517.1" fill="url(#cen1)" opacity="0.06"/><rect x="260.5" y="1394.4" width="117.9" height="287.3" fill="#fff" filter="url(#tex1)" opacity="0.18"/><line x1="319.4" y1="1394.4" x2="319.4" y2="1681.7" stroke="#d8a030" stroke-width="1.3" stroke-opacity="0.9"/></g>
<rect x="261.5" y="1681.7" width="115.9" height="4" fill="#cfcfc8"/>
<rect x="260.5" y="1394.4" width="117.9" height="287.3" rx="3" fill="none" stroke="#555" stroke-width="1.8"/>
<clipPath id="cc1_2"><rect x="387.2" y="1394.4" width="118" height="287.3" rx="3"/></clipPath>
<g clip-path="url(#cc1_2)"><rect x="387.2" y="1394.4" width="118" height="287.3" fill="url(#bg1_2)"/><rect x="421.2" y="1388.1" width="50" height="632.1" fill="url(#cen2)" opacity="0.42"/><rect x="387.2" y="1394.4" width="118" height="287.3" fill="#fff" filter="url(#tex2)" opacity="0.17"/><line x1="446.2" y1="1394.4" x2="446.2" y2="1681.7" stroke="#4a5ad8" stroke-width="1.3" stroke-opacity="0.55"/></g>
<rect x="388.2" y="1681.7" width="116" height="4" fill="#cfcfc8"/>
<rect x="387.2" y="1394.4" width="118" height="287.3" rx="3" fill="none" stroke="#555" stroke-width="1.8"/>
<clipPath id="cc1_3"><rect x="514" y="1394.4" width="118.8" height="287.3" rx="3"/></clipPath>
<g clip-path="url(#cc1_3)"><rect x="514" y="1394.4" width="118.8" height="287.3" fill="url(#bg1_3)"/><rect x="543.4" y="1389.2" width="60" height="517.1" fill="url(#cen3)" opacity="0.10"/><rect x="514" y="1394.4" width="118.8" height="287.3" fill="#fff" filter="url(#tex3)" opacity="0.14"/><line x1="573.4" y1="1394.4" x2="573.4" y2="1681.7" stroke="#d06080" stroke-width="1.3" stroke-opacity="0.45"/></g>
<rect x="515" y="1681.7" width="116.8" height="4" fill="#cfcfc8"/>
<rect x="514" y="1394.4" width="118.8" height="287.3" rx="3" fill="none" stroke="#555" stroke-width="1.8"/>
<clipPath id="cc1_4"><rect x="640.7" y="1394.4" width="119.7" height="287.3" rx="3"/></clipPath>
<g clip-path="url(#cc1_4)"><rect x="640.7" y="1394.4" width="119.7" height="287.3" fill="url(#bg1_4)"/><rect x="676.5" y="1389.2" width="48" height="517.1" fill="url(#cen4)" opacity="0.07"/><rect x="640.7" y="1394.4" width="119.7" height="287.3" fill="#fff" filter="url(#tex4)" opacity="0.18"/><line x1="700.5" y1="1394.4" x2="700.5" y2="1681.7" stroke="#228a22" stroke-width="1.3" stroke-opacity="0.95"/></g>
<rect x="641.7" y="1681.7" width="117.7" height="4" fill="#cfcfc8"/>
<rect x="640.7" y="1394.4" width="119.7" height="287.3" rx="3" fill="none" stroke="#555" stroke-width="1.8"/>
<clipPath id="cc2_0"><rect x="133.3" y="1687" width="118.8" height="144" rx="3"/></clipPath>
<g clip-path="url(#cc2_0)"><rect x="133.3" y="1687" width="118.8" height="144" fill="url(#bg2_0)"/><rect x="162.7" y="1684.4" width="60" height="259.2" fill="url(#cen0)" opacity="0.08"/><rect x="133.3" y="1687" width="118.8" height="144" fill="#fff" filter="url(#tex0)" opacity="0.18"/><line x1="192.7" y1="1687" x2="192.7" y2="1831" stroke="#333333" stroke-width="1.3" stroke-opacity="0.75"/></g>
<rect x="133.3" y="1687" width="118.8" height="144" rx="3" fill="none" stroke="#555" stroke-width="1.8"/>
<clipPath id="cc2_1"><rect x="260.5" y="1687" width="117.9" height="144" rx="3"/></clipPath>
<g clip-path="url(#cc2_1)"><rect x="260.5" y="1687" width="117.9" height="144" fill="url(#bg2_1)"/><rect x="297.4" y="1684.4" width="44" height="259.2" fill="url(#cen1)" opacity="0.05"/><rect x="260.5" y="1687" width="117.9" height="144" fill="#fff" filter="url(#tex1)" opacity="0.16"/><line x1="319.4" y1="1687" x2="319.4" y2="1831" stroke="#d8a030" stroke-width="1.3" stroke-opacity="0.9"/></g>
<rect x="260.5" y="1687" width="117.9" height="144" rx="3" fill="none" stroke="#555" stroke-width="1.8"/>
<clipPath id="cc2_2"><rect x="387.2" y="1687" width="118" height="144" rx="3"/></clipPath>
<g clip-path="url(#cc2_2)"><rect x="387.2" y="1687" width="118" height="144" fill="url(#bg2_2)"/><rect x="421.2" y="1683.8" width="50" height="316.8" fill="url(#cen2)" opacity="0.42"/><rect x="387.2" y="1687" width="118" height="144" fill="#fff" filter="url(#tex2)" opacity="0.16"/><line x1="446.2" y1="1687" x2="446.2" y2="1831" stroke="#4a5ad8" stroke-width="1.3" stroke-opacity="0.55"/></g>
<rect x="387.2" y="1687" width="118" height="144" rx="3" fill="none" stroke="#555" stroke-width="1.8"/>
<clipPath id="cc2_3"><rect x="514" y="1687" width="118.8" height="144" rx="3"/></clipPath>
<g clip-path="url(#cc2_3)"><rect x="514" y="1687" width="118.8" height="144" fill="url(#bg2_3)"/><rect x="543.4" y="1684.4" width="60" height="259.2" fill="url(#cen3)" opacity="0.10"/><rect x="514" y="1687" width="118.8" height="144" fill="#fff" filter="url(#tex3)" opacity="0.14"/><line x1="573.4" y1="1687" x2="573.4" y2="1831" stroke="#d06080" stroke-width="1.3" stroke-opacity="0.45"/></g>
<rect x="514" y="1687" width="118.8" height="144" rx="3" fill="none" stroke="#555" stroke-width="1.8"/>
<clipPath id="cc2_4"><rect x="640.7" y="1687" width="119.7" height="144" rx="3"/></clipPath>
<g clip-path="url(#cc2_4)"><rect x="640.7" y="1687" width="119.7" height="144" fill="url(#bg2_4)"/><rect x="676.5" y="1684.4" width="48" height="259.2" fill="url(#cen4)" opacity="0.07"/><rect x="640.7" y="1687" width="119.7" height="144" fill="#fff" filter="url(#tex4)" opacity="0.16"/><line x1="700.5" y1="1687" x2="700.5" y2="1831" stroke="#228a22" stroke-width="1.3" stroke-opacity="0.95"/></g>
<rect x="640.7" y="1687" width="119.7" height="144" rx="3" fill="none" stroke="#555" stroke-width="1.8"/>
<text x="152.35" y="1215.40" font-size="29.86" font-weight="bold" fill="#111" textLength="81.60" lengthAdjust="spacingAndGlyphs">FLAG</text>
<text x="279.04" y="1215.40" font-size="30.29" font-weight="bold" fill="#111" textLength="77.92" lengthAdjust="spacingAndGlyphs">AceK</text>
<text x="395.35" y="1215.70" font-size="30.72" font-weight="bold" fill="#111" textLength="110.26" lengthAdjust="spacingAndGlyphs">MED17</text>
<text x="533.46" y="1215.41" font-size="28.84" font-weight="bold" fill="#111" textLength="78.83" lengthAdjust="spacingAndGlyphs">Pol II</text>
<text x="658.89" y="1216.04" font-size="30.77" font-weight="bold" fill="#111" textLength="77.66" lengthAdjust="spacingAndGlyphs">p300</text>
<text x="23.23" y="1305.91" font-size="33.26" font-weight="bold" fill="#111" textLength="74.34" lengthAdjust="spacingAndGlyphs">High</text>
<text x="43.99" y="1347.27" font-size="33.09" font-weight="bold" fill="#111" textLength="33.79" lengthAdjust="spacingAndGlyphs">ac</text>
<text x="28.89" y="1514.56" font-size="33.61" font-weight="bold" fill="#111" textLength="61.07" lengthAdjust="spacingAndGlyphs">Mid</text>
<text x="41.57" y="1556.36" font-size="34.00" font-weight="bold" fill="#111" textLength="34.32" lengthAdjust="spacingAndGlyphs">ac</text>
<text x="26.37" y="1751.25" font-size="34.57" font-weight="bold" fill="#111" textLength="62.31" lengthAdjust="spacingAndGlyphs">Low</text>
<text x="40.67" y="1792.27" font-size="33.09" font-weight="bold" fill="#111" textLength="34.43" lengthAdjust="spacingAndGlyphs">ac</text>
<text x="131.98" y="1874.76" font-size="23.94" font-weight="bold" fill="#111" textLength="36.96" lengthAdjust="spacingAndGlyphs">-10</text>
<text x="187.99" y="1874.76" font-size="23.94" font-weight="bold" fill="#111" textLength="14.05" lengthAdjust="spacingAndGlyphs">0</text>
<text x="229.00" y="1874.76" font-size="23.94" font-weight="bold" fill="#111" textLength="25.68" lengthAdjust="spacingAndGlyphs">10</text>
<text x="260.78" y="1874.76" font-size="23.94" font-weight="bold" fill="#111" textLength="36.85" lengthAdjust="spacingAndGlyphs">-10</text>
<text x="316.22" y="1874.76" font-size="23.94" font-weight="bold" fill="#111" textLength="13.58" lengthAdjust="spacingAndGlyphs">0</text>
<text x="349.59" y="1874.76" font-size="23.94" font-weight="bold" fill="#111" textLength="25.79" lengthAdjust="spacingAndGlyphs">10</text>
<text x="384.08" y="1874.76" font-size="23.94" font-weight="bold" fill="#111" textLength="36.96" lengthAdjust="spacingAndGlyphs">-10</text>
<text x="441.21" y="1874.76" font-size="23.94" font-weight="bold" fill="#111" textLength="13.70" lengthAdjust="spacingAndGlyphs">0</text>
<text x="480.83" y="1874.76" font-size="23.94" font-weight="bold" fill="#111" textLength="26.90" lengthAdjust="spacingAndGlyphs">10</text>
<text x="513.19" y="1874.76" font-size="23.94" font-weight="bold" fill="#111" textLength="36.64" lengthAdjust="spacingAndGlyphs">-10</text>
<text x="568.89" y="1874.76" font-size="23.94" font-weight="bold" fill="#111" textLength="14.05" lengthAdjust="spacingAndGlyphs">0</text>
<text x="608.99" y="1874.76" font-size="23.94" font-weight="bold" fill="#111" textLength="25.90" lengthAdjust="spacingAndGlyphs">10</text>
<text x="640.31" y="1874.76" font-size="23.94" font-weight="bold" fill="#111" textLength="35.68" lengthAdjust="spacingAndGlyphs">-10</text>
<text x="695.47" y="1874.76" font-size="23.94" font-weight="bold" fill="#111" textLength="14.28" lengthAdjust="spacingAndGlyphs">0</text>
<text x="735.13" y="1874.76" font-size="23.94" font-weight="bold" fill="#111" textLength="26.90" lengthAdjust="spacingAndGlyphs">10</text>
<text x="246.69" y="1930.37" font-size="30.16" font-weight="bold" fill="#111" textLength="392.72" lengthAdjust="spacingAndGlyphs">Distance to peak center (kb)</text>
<defs><linearGradient id="cbg0" x1="0" y1="0" x2="0" y2="1"><stop offset="0" stop-color="#000000"/><stop offset="0.2" stop-color="#0d0d0d"/><stop offset="0.85" stop-color="#e6e6e6"/><stop offset="1" stop-color="#ffffff"/></linearGradient></defs>
<rect x="812.2" y="1262" width="27.1" height="128.4" rx="2" fill="url(#cbg0)"/>
<line x1="813.2" y1="1266.8" x2="817.2" y2="1266.8" stroke="#fff" stroke-width="1.6" stroke-opacity="0.85"/>
<line x1="834.3" y1="1266.8" x2="838.3" y2="1266.8" stroke="#fff" stroke-width="1.6" stroke-opacity="0.85"/>
<text x="844.78" y="1274.50" font-size="20.28" fill="#111" textLength="32.05" lengthAdjust="spacingAndGlyphs" stroke="#111" stroke-width="0.55">0.8</text>
<line x1="813.2" y1="1298.2" x2="817.2" y2="1298.2" stroke="#fff" stroke-width="1.6" stroke-opacity="0.85"/>
<line x1="834.3" y1="1298.2" x2="838.3" y2="1298.2" stroke="#fff" stroke-width="1.6" stroke-opacity="0.85"/>
<text x="844.77" y="1305.90" font-size="20.28" fill="#111" textLength="32.17" lengthAdjust="spacingAndGlyphs" stroke="#111" stroke-width="0.55">0.6</text>
<line x1="813.2" y1="1329.6" x2="817.2" y2="1329.6" stroke="#fff" stroke-width="1.6" stroke-opacity="0.85"/>
<line x1="834.3" y1="1329.6" x2="838.3" y2="1329.6" stroke="#fff" stroke-width="1.6" stroke-opacity="0.85"/>
<text x="844.78" y="1337.30" font-size="20.28" fill="#111" textLength="31.81" lengthAdjust="spacingAndGlyphs" stroke="#111" stroke-width="0.55">0.4</text>
<line x1="813.2" y1="1361" x2="817.2" y2="1361" stroke="#fff" stroke-width="1.6" stroke-opacity="0.85"/>
<line x1="834.3" y1="1361" x2="838.3" y2="1361" stroke="#fff" stroke-width="1.6" stroke-opacity="0.85"/>
<text x="844.77" y="1368.70" font-size="20.28" fill="#111" textLength="32.29" lengthAdjust="spacingAndGlyphs" stroke="#111" stroke-width="0.55">0.2</text>
<text x="844.82" y="1400.10" font-size="20.28" fill="#111" textLength="12.28" lengthAdjust="spacingAndGlyphs" stroke="#111" stroke-width="0.55">0</text>
<text x="812.11" y="1247.50" font-size="20.28" font-weight="bold" fill="#111" textLength="62.30" lengthAdjust="spacingAndGlyphs">FLAG</text>
<defs><linearGradient id="cbg1" x1="0" y1="0" x2="0" y2="1"><stop offset="0" stop-color="#2a40cc"/><stop offset="0.2" stop-color="#354acf"/><stop offset="0.85" stop-color="#eaecfa"/><stop offset="1" stop-color="#ffffff"/></linearGradient></defs>
<rect x="895.7" y="1262" width="26.3" height="128.4" rx="2" fill="url(#cbg1)"/>
<line x1="896.7" y1="1266.8" x2="900.7" y2="1266.8" stroke="#fff" stroke-width="1.6" stroke-opacity="0.85"/>
<line x1="917" y1="1266.8" x2="921" y2="1266.8" stroke="#fff" stroke-width="1.6" stroke-opacity="0.85"/>
<text x="927.42" y="1274.50" font-size="20.28" fill="#111" textLength="30.46" lengthAdjust="spacingAndGlyphs" stroke="#111" stroke-width="0.55">0.8</text>
<line x1="896.7" y1="1298.2" x2="900.7" y2="1298.2" stroke="#fff" stroke-width="1.6" stroke-opacity="0.85"/>
<line x1="917" y1="1298.2" x2="921" y2="1298.2" stroke="#fff" stroke-width="1.6" stroke-opacity="0.85"/>
<text x="927.42" y="1305.90" font-size="20.28" fill="#111" textLength="30.57" lengthAdjust="spacingAndGlyphs" stroke="#111" stroke-width="0.55">0.6</text>
<line x1="896.7" y1="1329.6" x2="900.7" y2="1329.6" stroke="#fff" stroke-width="1.6" stroke-opacity="0.85"/>
<line x1="917" y1="1329.6" x2="921" y2="1329.6" stroke="#fff" stroke-width="1.6" stroke-opacity="0.85"/>
<text x="927.43" y="1337.30" font-size="20.28" fill="#111" textLength="30.23" lengthAdjust="spacingAndGlyphs" stroke="#111" stroke-width="0.55">0.4</text>
<line x1="896.7" y1="1361" x2="900.7" y2="1361" stroke="#fff" stroke-width="1.6" stroke-opacity="0.85"/>
<line x1="917" y1="1361" x2="921" y2="1361" stroke="#fff" stroke-width="1.6" stroke-opacity="0.85"/>
<text x="927.42" y="1368.70" font-size="20.28" fill="#111" textLength="30.69" lengthAdjust="spacingAndGlyphs" stroke="#111" stroke-width="0.55">0.2</text>
<text x="927.46" y="1400.10" font-size="20.28" fill="#111" textLength="11.65" lengthAdjust="spacingAndGlyphs" stroke="#111" stroke-width="0.55">0</text>
<text x="895.38" y="1248.50" font-size="21.01" font-weight="bold" fill="#111" textLength="73.09" lengthAdjust="spacingAndGlyphs">MED17</text>
<defs><linearGradient id="cbg2" x1="0" y1="0" x2="0" y2="1"><stop offset="0" stop-color="#d89420"/><stop offset="0.2" stop-color="#da992b"/><stop offset="0.85" stop-color="#fbf4e9"/><stop offset="1" stop-color="#ffffff"/></linearGradient></defs>
<rect x="812.6" y="1458.1" width="28.7" height="135.6" rx="2" fill="url(#cbg2)"/>
<line x1="813.6" y1="1463.3" x2="817.6" y2="1463.3" stroke="#fff" stroke-width="1.6" stroke-opacity="0.85"/>
<line x1="836.3" y1="1463.3" x2="840.3" y2="1463.3" stroke="#fff" stroke-width="1.6" stroke-opacity="0.85"/>
<text x="846.85" y="1470.99" font-size="20.99" fill="#111" textLength="33.11" lengthAdjust="spacingAndGlyphs" stroke="#111" stroke-width="0.55">0.8</text>
<line x1="813.6" y1="1496.4" x2="817.6" y2="1496.4" stroke="#fff" stroke-width="1.6" stroke-opacity="0.85"/>
<line x1="836.3" y1="1496.4" x2="840.3" y2="1496.4" stroke="#fff" stroke-width="1.6" stroke-opacity="0.85"/>
<text x="846.84" y="1504.09" font-size="20.99" fill="#111" textLength="33.24" lengthAdjust="spacingAndGlyphs" stroke="#111" stroke-width="0.55">0.6</text>
<line x1="813.6" y1="1529.5" x2="817.6" y2="1529.5" stroke="#fff" stroke-width="1.6" stroke-opacity="0.85"/>
<line x1="836.3" y1="1529.5" x2="840.3" y2="1529.5" stroke="#fff" stroke-width="1.6" stroke-opacity="0.85"/>
<text x="846.85" y="1537.19" font-size="20.99" fill="#111" textLength="32.86" lengthAdjust="spacingAndGlyphs" stroke="#111" stroke-width="0.55">0.4</text>
<line x1="813.6" y1="1562.6" x2="817.6" y2="1562.6" stroke="#fff" stroke-width="1.6" stroke-opacity="0.85"/>
<line x1="836.3" y1="1562.6" x2="840.3" y2="1562.6" stroke="#fff" stroke-width="1.6" stroke-opacity="0.85"/>
<text x="846.84" y="1570.29" font-size="20.99" fill="#111" textLength="33.36" lengthAdjust="spacingAndGlyphs" stroke="#111" stroke-width="0.55">0.2</text>
<text x="846.89" y="1603.39" font-size="20.99" fill="#111" textLength="12.70" lengthAdjust="spacingAndGlyphs" stroke="#111" stroke-width="0.55">0</text>
<text x="813.00" y="1445.60" font-size="20.43" font-weight="bold" fill="#111" textLength="61.48" lengthAdjust="spacingAndGlyphs">AceK</text>
<defs><linearGradient id="cbg3" x1="0" y1="0" x2="0" y2="1"><stop offset="0" stop-color="#1e7a1e"/><stop offset="0.2" stop-color="#298129"/><stop offset="0.85" stop-color="#e8f2e8"/><stop offset="1" stop-color="#ffffff"/></linearGradient></defs>
<rect x="895.1" y="1458.1" width="29.4" height="135.6" rx="2" fill="url(#cbg3)"/>
<line x1="896.1" y1="1463.3" x2="900.1" y2="1463.3" stroke="#fff" stroke-width="1.6" stroke-opacity="0.85"/>
<line x1="919.5" y1="1463.3" x2="923.5" y2="1463.3" stroke="#fff" stroke-width="1.6" stroke-opacity="0.85"/>
<text x="931.02" y="1470.99" font-size="20.99" fill="#111" textLength="34.17" lengthAdjust="spacingAndGlyphs" stroke="#111" stroke-width="0.55">0.8</text>
<line x1="896.1" y1="1496.4" x2="900.1" y2="1496.4" stroke="#fff" stroke-width="1.6" stroke-opacity="0.85"/>
<line x1="919.5" y1="1496.4" x2="923.5" y2="1496.4" stroke="#fff" stroke-width="1.6" stroke-opacity="0.85"/>
<text x="931.01" y="1504.09" font-size="20.99" fill="#111" textLength="34.30" lengthAdjust="spacingAndGlyphs" stroke="#111" stroke-width="0.55">0.6</text>
<line x1="896.1" y1="1529.5" x2="900.1" y2="1529.5" stroke="#fff" stroke-width="1.6" stroke-opacity="0.85"/>
<line x1="919.5" y1="1529.5" x2="923.5" y2="1529.5" stroke="#fff" stroke-width="1.6" stroke-opacity="0.85"/>
<text x="931.02" y="1537.19" font-size="20.99" fill="#111" textLength="33.91" lengthAdjust="spacingAndGlyphs" stroke="#111" stroke-width="0.55">0.4</text>
<line x1="896.1" y1="1562.6" x2="900.1" y2="1562.6" stroke="#fff" stroke-width="1.6" stroke-opacity="0.85"/>
<line x1="919.5" y1="1562.6" x2="923.5" y2="1562.6" stroke="#fff" stroke-width="1.6" stroke-opacity="0.85"/>
<text x="931.01" y="1570.29" font-size="20.99" fill="#111" textLength="34.43" lengthAdjust="spacingAndGlyphs" stroke="#111" stroke-width="0.55">0.2</text>
<text x="931.06" y="1603.39" font-size="20.99" fill="#111" textLength="13.12" lengthAdjust="spacingAndGlyphs" stroke="#111" stroke-width="0.55">0</text>
<text x="894.04" y="1445.73" font-size="20.33" font-weight="bold" fill="#111" textLength="58.16" lengthAdjust="spacingAndGlyphs">p300</text>
<defs><linearGradient id="cbg4" x1="0" y1="0" x2="0" y2="1"><stop offset="0" stop-color="#b8103c"/><stop offset="0.2" stop-color="#bc1c46"/><stop offset="0.85" stop-color="#f8e7ec"/><stop offset="1" stop-color="#ffffff"/></linearGradient></defs>
<rect x="814.2" y="1663.7" width="27.8" height="131.9" rx="2" fill="url(#cbg4)"/>
<line x1="815.2" y1="1668.4" x2="819.2" y2="1668.4" stroke="#fff" stroke-width="1.6" stroke-opacity="0.85"/>
<line x1="837" y1="1668.4" x2="841" y2="1668.4" stroke="#fff" stroke-width="1.6" stroke-opacity="0.85"/>
<text x="847.14" y="1676.77" font-size="23.24" fill="#111" textLength="33.22" lengthAdjust="spacingAndGlyphs" stroke="#111" stroke-width="0.55">0.8</text>
<line x1="815.2" y1="1700.7" x2="819.2" y2="1700.7" stroke="#fff" stroke-width="1.6" stroke-opacity="0.85"/>
<line x1="837" y1="1700.7" x2="841" y2="1700.7" stroke="#fff" stroke-width="1.6" stroke-opacity="0.85"/>
<text x="847.14" y="1709.07" font-size="23.24" fill="#111" textLength="33.34" lengthAdjust="spacingAndGlyphs" stroke="#111" stroke-width="0.55">0.6</text>
<line x1="815.2" y1="1733" x2="819.2" y2="1733" stroke="#fff" stroke-width="1.6" stroke-opacity="0.85"/>
<line x1="837" y1="1733" x2="841" y2="1733" stroke="#fff" stroke-width="1.6" stroke-opacity="0.85"/>
<text x="847.15" y="1741.37" font-size="23.24" fill="#111" textLength="32.96" lengthAdjust="spacingAndGlyphs" stroke="#111" stroke-width="0.55">0.4</text>
<line x1="815.2" y1="1765.3" x2="819.2" y2="1765.3" stroke="#fff" stroke-width="1.6" stroke-opacity="0.85"/>
<line x1="837" y1="1765.3" x2="841" y2="1765.3" stroke="#fff" stroke-width="1.6" stroke-opacity="0.85"/>
<text x="847.14" y="1773.67" font-size="23.24" fill="#111" textLength="33.47" lengthAdjust="spacingAndGlyphs" stroke="#111" stroke-width="0.55">0.2</text>
<text x="847.18" y="1805.97" font-size="23.24" fill="#111" textLength="12.74" lengthAdjust="spacingAndGlyphs" stroke="#111" stroke-width="0.55">0</text>
<text x="809.00" y="1646.37" font-size="23.27" font-weight="bold" fill="#111" textLength="62.51" lengthAdjust="spacingAndGlyphs">Pol II</text>
<path d="M1181.00,1557.00 L1181.00,1489.80 A67.20,67.20 0 0 1 1246.48,1572.12 Z" fill="#a8ac36"/>
<path d="M1181.00,1557.00 L1246.48,1572.12 A67.20,67.20 0 0 1 1199.52,1621.60 Z" fill="#3a8a2c"/>
<path d="M1181.00,1557.00 L1199.52,1621.60 A67.20,67.20 0 0 1 1183.35,1624.16 Z" fill="#c44a3e"/>
<path d="M1181.00,1557.00 L1183.35,1624.16 A67.20,67.20 0 1 1 1181.00,1489.80 Z" fill="#4150c0"/>
<path d="M1351.60,1557.00 L1351.60,1489.80 A67.20,67.20 0 0 1 1416.10,1538.14 Z" fill="#a8ac36"/>
<path d="M1351.60,1557.00 L1416.10,1538.14 A67.20,67.20 0 0 1 1332.40,1621.40 Z" fill="#3a8a2c"/>
<path d="M1351.60,1557.00 L1332.40,1621.40 A67.20,67.20 0 0 1 1327.52,1619.74 Z" fill="#c44a3e"/>
<path d="M1351.60,1557.00 L1327.52,1619.74 A67.20,67.20 0 0 1 1351.60,1489.80 Z" fill="#4150c0"/>
<path d="M1522.60,1557.00 L1522.60,1489.80 A67.20,67.20 0 0 1 1586.65,1536.68 Z" fill="#a8ac36"/>
<path d="M1522.60,1557.00 L1586.65,1536.68 A67.20,67.20 0 0 1 1493.88,1617.75 Z" fill="#3a8a2c"/>
<path d="M1522.60,1557.00 L1493.88,1617.75 A67.20,67.20 0 0 1 1490.02,1615.77 Z" fill="#c44a3e"/>
<path d="M1522.60,1557.00 L1490.02,1615.77 A67.20,67.20 0 0 1 1522.60,1489.80 Z" fill="#4150c0"/>
<text x="1117.12" y="1431.25" font-size="15.29" fill="#222" textLength="35.93" lengthAdjust="spacingAndGlyphs">AceK</text>
<text x="1132.30" y="1453.33" font-size="15.11" fill="#222" textLength="97.74" lengthAdjust="spacingAndGlyphs">Low ac group</text>
<text x="1156.91" y="1473.99" font-size="15.29" fill="#222" textLength="47.80" lengthAdjust="spacingAndGlyphs">(2412)</text>
<text x="1301.74" y="1453.45" font-size="14.55" fill="#222" textLength="98.46" lengthAdjust="spacingAndGlyphs">Mid ac group</text>
<text x="1325.62" y="1473.99" font-size="15.29" fill="#222" textLength="51.97" lengthAdjust="spacingAndGlyphs">(4823)</text>
<text x="1471.09" y="1453.45" font-size="14.55" fill="#222" textLength="101.58" lengthAdjust="spacingAndGlyphs">High ac group</text>
<text x="1498.71" y="1473.99" font-size="15.29" fill="#222" textLength="47.80" lengthAdjust="spacingAndGlyphs">(2412)</text>
<rect x="1636.6" y="1491.6" width="20.2" height="19.4" fill="#4150c0"/>
<text x="1665.22" y="1505.93" font-size="16.73" fill="#222" textLength="104.96" lengthAdjust="spacingAndGlyphs">MED17- Pol II-</text>
<rect x="1636.6" y="1512.7" width="20.2" height="19.8" fill="#c44a3e"/>
<text x="1665.23" y="1527.93" font-size="17.28" fill="#222" textLength="108.14" lengthAdjust="spacingAndGlyphs">MED17- Pol II+</text>
<rect x="1636.6" y="1533.9" width="20.2" height="20.2" fill="#3a8a2c"/>
<text x="1665.22" y="1549.53" font-size="17.41" fill="#222" textLength="108.97" lengthAdjust="spacingAndGlyphs">MED17+ Pol II-</text>
<rect x="1636.6" y="1555.4" width="20.2" height="20.3" fill="#a8ac36"/>
<text x="1665.23" y="1571.13" font-size="16.73" fill="#222" textLength="112.15" lengthAdjust="spacingAndGlyphs">MED17+ Pol II+</text>
<path d="M1177.80,1876.00 L1177.80,1808.30 A67.70,67.70 0 1 1 1114.47,1899.93 Z" fill="#9242a0"/>
<path d="M1177.80,1876.00 L1114.47,1899.93 A67.70,67.70 0 0 1 1114.06,1898.82 Z" fill="#a8ac36"/>
<path d="M1177.80,1876.00 L1114.06,1898.82 A67.70,67.70 0 0 1 1122.55,1836.88 Z" fill="#3a8a2c"/>
<path d="M1177.80,1876.00 L1122.55,1836.88 A67.70,67.70 0 0 1 1133.03,1825.22 Z" fill="#c44a3e"/>
<path d="M1177.80,1876.00 L1133.03,1825.22 A67.70,67.70 0 0 1 1177.80,1808.30 Z" fill="#4150c0"/>
<path d="M1349.60,1876.00 L1349.60,1808.30 A67.70,67.70 0 1 1 1298.97,1920.95 Z" fill="#9242a0"/>
<path d="M1349.60,1876.00 L1298.97,1920.95 A67.70,67.70 0 0 1 1298.35,1920.24 Z" fill="#a8ac36"/>
<path d="M1349.60,1876.00 L1298.35,1920.24 A67.70,67.70 0 0 1 1285.70,1853.62 Z" fill="#3a8a2c"/>
<path d="M1349.60,1876.00 L1285.70,1853.62 A67.70,67.70 0 0 1 1294.21,1837.07 Z" fill="#c44a3e"/>
<path d="M1349.60,1876.00 L1294.21,1837.07 A67.70,67.70 0 0 1 1349.60,1808.30 Z" fill="#4150c0"/>
<path d="M1523.80,1876.00 L1523.80,1808.30 A67.70,67.70 0 1 1 1471.49,1918.97 Z" fill="#9242a0"/>
<path d="M1523.80,1876.00 L1471.49,1918.97 A67.70,67.70 0 0 1 1471.04,1918.42 Z" fill="#a8ac36"/>
<path d="M1523.80,1876.00 L1471.04,1918.42 A67.70,67.70 0 0 1 1457.53,1862.16 Z" fill="#3a8a2c"/>
<path d="M1523.80,1876.00 L1457.53,1862.16 A67.70,67.70 0 0 1 1461.21,1850.20 Z" fill="#c44a3e"/>
<path d="M1523.80,1876.00 L1461.21,1850.20 A67.70,67.70 0 0 1 1523.80,1808.30 Z" fill="#4150c0"/>
<text x="1112.32" y="1752.04" font-size="16.43" fill="#222" textLength="37.14" lengthAdjust="spacingAndGlyphs">AceK</text>
<text x="1128.27" y="1773.33" font-size="15.11" fill="#222" textLength="100.08" lengthAdjust="spacingAndGlyphs">Low ac group</text>
<text x="1152.88" y="1794.69" font-size="15.29" fill="#222" textLength="48.94" lengthAdjust="spacingAndGlyphs">(2412)</text>
<text x="1300.32" y="1773.45" font-size="14.55" fill="#222" textLength="99.38" lengthAdjust="spacingAndGlyphs">Mid ac group</text>
<text x="1324.28" y="1794.69" font-size="15.29" fill="#222" textLength="49.26" lengthAdjust="spacingAndGlyphs">(4823)</text>
<text x="1471.88" y="1773.45" font-size="14.55" fill="#222" textLength="102.70" lengthAdjust="spacingAndGlyphs">High ac group</text>
<text x="1498.65" y="1794.69" font-size="15.29" fill="#222" textLength="50.72" lengthAdjust="spacingAndGlyphs">(2412)</text>
<rect x="1634.4" y="1788.3" width="21.6" height="21.5" fill="#4150c0"/>
<text x="1666.15" y="1803.55" font-size="14.97" font-weight="bold" fill="#111" textLength="109.28" lengthAdjust="spacingAndGlyphs">Active enhancer</text>
<rect x="1634.4" y="1812" width="21.6" height="21.6" fill="#c44a3e"/>
<text x="1665.56" y="1828.14" font-size="15.51" font-weight="bold" fill="#111" textLength="116.94" lengthAdjust="spacingAndGlyphs">Primed enhancer</text>
<rect x="1634.4" y="1836.3" width="21.6" height="20.7" fill="#3a8a2c"/>
<text x="1666.14" y="1851.54" font-size="13.16" font-weight="bold" fill="#111" textLength="111.06" lengthAdjust="spacingAndGlyphs">Active promoter</text>
<rect x="1634.4" y="1858.3" width="21.6" height="22.9" fill="#a8ac36"/>
<text x="1666.07" y="1876.13" font-size="13.69" font-weight="bold" fill="#111" textLength="107.15" lengthAdjust="spacingAndGlyphs">Silent promoter</text>
<rect x="1634.4" y="1882.9" width="21.6" height="21.6" fill="#9242a0"/>
<text x="1665.91" y="1901.26" font-size="14.42" font-weight="bold" fill="#111" textLength="39.57" lengthAdjust="spacingAndGlyphs">Other</text>
</svg>
</body></html>
